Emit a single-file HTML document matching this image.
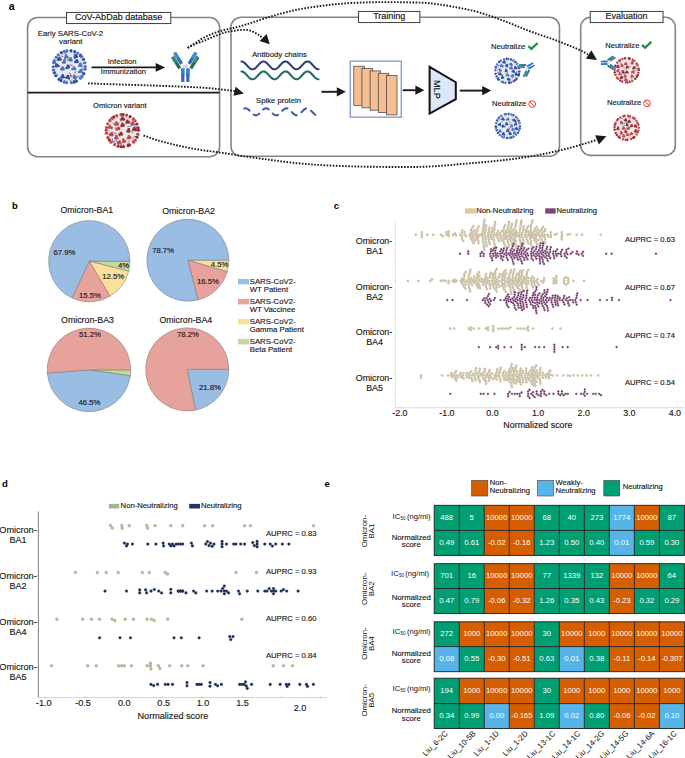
<!DOCTYPE html>
<html><head><meta charset="utf-8"><style>
html,body{margin:0;padding:0;background:#fff;width:685px;height:758px;overflow:hidden}
svg{display:block}
text{font-family:"Liberation Sans", sans-serif;}
</style></head><body>
<svg width="685" height="758" viewBox="0 0 685 758" font-family='"Liberation Sans", sans-serif'>
<text x="8.70" y="9.60" font-size="10.6" text-anchor="start" font-weight="bold" fill="#000" >a</text>
<rect x="27.6" y="17.5" width="192" height="139.2" rx="10" fill="none" stroke="#80878b" stroke-width="1.6"/>
<rect x="231" y="17.2" width="328.5" height="139" rx="10" fill="none" stroke="#80878b" stroke-width="1.6"/>
<rect x="580.7" y="17.3" width="94.6" height="138.1" rx="10" fill="none" stroke="#80878b" stroke-width="1.6"/>
<rect x="66.5" y="12.4" width="104.30000000000001" height="11.2" fill="#fff" stroke="#2a2a2a" stroke-width="0.9"/>
<text x="118.65" y="20.40" font-size="9" text-anchor="middle" font-weight="normal" fill="#111" stroke="#111" stroke-width="0.15" >CoV-AbDab database</text>
<rect x="358.6" y="11.4" width="61.299999999999955" height="11.2" fill="#fff" stroke="#2a2a2a" stroke-width="0.9"/>
<text x="389.25" y="19.00" font-size="9" text-anchor="middle" font-weight="normal" fill="#111" stroke="#111" stroke-width="0.15" >Training</text>
<rect x="590.2" y="11.4" width="72.79999999999995" height="11.2" fill="#fff" stroke="#2a2a2a" stroke-width="0.9"/>
<text x="626.60" y="19.10" font-size="9" text-anchor="middle" font-weight="normal" fill="#111" stroke="#111" stroke-width="0.15" >Evaluation</text>
<line x1="27.6" y1="92.6" x2="219.6" y2="92.6" stroke="#1a1a1a" stroke-width="1.6"/>
<text x="70.50" y="36.20" font-size="7.8" text-anchor="middle" font-weight="normal" fill="#1a1a1a" stroke="#1a1a1a" stroke-width="0.15" >Early SARS-CoV-2</text>
<text x="70.80" y="43.60" font-size="7.8" text-anchor="middle" font-weight="normal" fill="#1a1a1a" stroke="#1a1a1a" stroke-width="0.15" >variant</text>
<g><circle cx="69.2" cy="66.7" r="16.20" fill="#e6e8f3"/><line x1="79.07" y1="75.64" x2="76.94" y2="77.58" stroke="#b5453f" stroke-width="0.90"/><line x1="68.65" y1="75.41" x2="69.10" y2="78.25" stroke="#b5453f" stroke-width="0.90"/><line x1="60.41" y1="55.86" x2="63.16" y2="56.70" stroke="#b5453f" stroke-width="0.90"/><line x1="81.85" y1="67.62" x2="82.46" y2="70.44" stroke="#b5453f" stroke-width="0.90"/><line x1="69.01" y1="64.62" x2="69.50" y2="67.46" stroke="#b5453f" stroke-width="0.90"/><line x1="69.39" y1="59.68" x2="66.56" y2="60.17" stroke="#b5453f" stroke-width="0.90"/><line x1="69.82" y1="65.12" x2="72.69" y2="65.35" stroke="#b5453f" stroke-width="0.90"/><line x1="55.19" y1="61.77" x2="56.24" y2="64.45" stroke="#b5453f" stroke-width="0.90"/><line x1="69.72" y1="75.72" x2="72.58" y2="75.98" stroke="#b5453f" stroke-width="0.90"/><line x1="70.87" y1="74.64" x2="70.90" y2="77.52" stroke="#b5453f" stroke-width="0.90"/><line x1="68.82" y1="72.67" x2="71.05" y2="74.49" stroke="#b5453f" stroke-width="0.90"/><line x1="60.26" y1="68.55" x2="63.13" y2="68.74" stroke="#b5453f" stroke-width="0.90"/><line x1="75.44" y1="56.25" x2="74.19" y2="58.84" stroke="#b5453f" stroke-width="0.90"/><line x1="76.13" y1="79.29" x2="73.52" y2="80.51" stroke="#b5453f" stroke-width="0.90"/><line x1="76.15" y1="71.31" x2="74.30" y2="73.52" stroke="#b5453f" stroke-width="0.90"/><line x1="65.49" y1="51.78" x2="66.18" y2="54.57" stroke="#b5453f" stroke-width="0.90"/><line x1="74.05" y1="55.20" x2="75.72" y2="57.54" stroke="#b5453f" stroke-width="0.90"/><line x1="58.94" y1="58.96" x2="56.39" y2="60.30" stroke="#b5453f" stroke-width="0.90"/><line x1="56.72" y1="66.18" x2="59.59" y2="66.49" stroke="#b5453f" stroke-width="0.90"/><line x1="69.40" y1="78.16" x2="70.17" y2="80.93" stroke="#b5453f" stroke-width="0.90"/><line x1="75.02" y1="74.99" x2="73.30" y2="77.30" stroke="#b5453f" stroke-width="0.90"/><line x1="64.90" y1="57.45" x2="65.45" y2="60.27" stroke="#b5453f" stroke-width="0.90"/><line x1="56.61" y1="64.59" x2="56.42" y2="67.46" stroke="#b5453f" stroke-width="0.90"/><line x1="83.24" y1="66.52" x2="85.40" y2="66.49" stroke="#4674c6" stroke-width="1.08"/><circle cx="85.40" cy="66.49" r="1.53" fill="#4674c6"/><line x1="83.08" y1="68.84" x2="85.21" y2="69.17" stroke="#4674c6" stroke-width="1.08"/><circle cx="85.21" cy="69.17" r="1.53" fill="#4674c6"/><line x1="81.88" y1="72.72" x2="83.83" y2="73.65" stroke="#2c4f9e" stroke-width="1.08"/><circle cx="83.83" cy="73.65" r="1.53" fill="#2c4f9e"/><line x1="80.47" y1="75.08" x2="82.20" y2="76.37" stroke="#4674c6" stroke-width="1.08"/><circle cx="82.20" cy="76.37" r="1.53" fill="#4674c6"/><line x1="79.00" y1="76.75" x2="80.51" y2="78.30" stroke="#4674c6" stroke-width="1.08"/><circle cx="80.51" cy="78.30" r="1.53" fill="#4674c6"/><line x1="75.51" y1="79.24" x2="76.48" y2="81.17" stroke="#2c4f9e" stroke-width="1.08"/><circle cx="76.48" cy="81.17" r="1.53" fill="#2c4f9e"/><line x1="73.48" y1="80.07" x2="74.13" y2="82.13" stroke="#2c4f9e" stroke-width="1.08"/><circle cx="74.13" cy="82.13" r="1.53" fill="#2c4f9e"/><line x1="71.12" y1="80.61" x2="71.41" y2="82.75" stroke="#4674c6" stroke-width="1.08"/><circle cx="71.41" cy="82.75" r="1.53" fill="#4674c6"/><line x1="66.98" y1="80.56" x2="66.63" y2="82.70" stroke="#4674c6" stroke-width="1.08"/><circle cx="66.63" cy="82.70" r="1.53" fill="#4674c6"/><line x1="64.93" y1="80.07" x2="64.27" y2="82.13" stroke="#4674c6" stroke-width="1.08"/><circle cx="64.27" cy="82.13" r="1.53" fill="#4674c6"/><line x1="62.11" y1="78.82" x2="61.02" y2="80.68" stroke="#2c4f9e" stroke-width="1.08"/><circle cx="61.02" cy="80.68" r="1.53" fill="#2c4f9e"/><line x1="60.44" y1="77.67" x2="59.09" y2="79.36" stroke="#2c4f9e" stroke-width="1.08"/><circle cx="59.09" cy="79.36" r="1.53" fill="#2c4f9e"/><line x1="57.53" y1="74.51" x2="55.74" y2="75.71" stroke="#2c4f9e" stroke-width="1.08"/><circle cx="55.74" cy="75.71" r="1.53" fill="#2c4f9e"/><line x1="56.21" y1="72.04" x2="54.22" y2="72.86" stroke="#2c4f9e" stroke-width="1.08"/><circle cx="54.22" cy="72.86" r="1.53" fill="#2c4f9e"/><line x1="55.46" y1="69.59" x2="53.35" y2="70.03" stroke="#4674c6" stroke-width="1.08"/><circle cx="53.35" cy="70.03" r="1.53" fill="#4674c6"/><line x1="55.16" y1="66.82" x2="53.00" y2="66.84" stroke="#4674c6" stroke-width="1.08"/><circle cx="53.00" cy="66.84" r="1.53" fill="#4674c6"/><line x1="55.61" y1="63.17" x2="53.52" y2="62.63" stroke="#4674c6" stroke-width="1.08"/><circle cx="53.52" cy="62.63" r="1.53" fill="#4674c6"/><line x1="56.18" y1="61.46" x2="54.17" y2="60.65" stroke="#4674c6" stroke-width="1.08"/><circle cx="54.17" cy="60.65" r="1.53" fill="#4674c6"/><line x1="57.83" y1="58.47" x2="56.08" y2="57.20" stroke="#4674c6" stroke-width="1.08"/><circle cx="56.08" cy="57.20" r="1.53" fill="#4674c6"/><line x1="59.61" y1="56.44" x2="58.14" y2="54.86" stroke="#4674c6" stroke-width="1.08"/><circle cx="58.14" cy="54.86" r="1.53" fill="#4674c6"/><line x1="62.36" y1="54.44" x2="61.31" y2="52.55" stroke="#2c4f9e" stroke-width="1.08"/><circle cx="61.31" cy="52.55" r="1.53" fill="#2c4f9e"/><line x1="64.79" y1="53.37" x2="64.12" y2="51.32" stroke="#4674c6" stroke-width="1.08"/><circle cx="64.12" cy="51.32" r="1.53" fill="#4674c6"/><line x1="67.28" y1="52.79" x2="66.98" y2="50.65" stroke="#4674c6" stroke-width="1.08"/><circle cx="66.98" cy="50.65" r="1.53" fill="#4674c6"/><line x1="70.81" y1="52.75" x2="71.06" y2="50.61" stroke="#2c4f9e" stroke-width="1.08"/><circle cx="71.06" cy="50.61" r="1.53" fill="#2c4f9e"/><line x1="74.01" y1="53.51" x2="74.75" y2="51.48" stroke="#2c4f9e" stroke-width="1.08"/><circle cx="74.75" cy="51.48" r="1.53" fill="#2c4f9e"/><line x1="76.68" y1="54.82" x2="77.83" y2="52.99" stroke="#4674c6" stroke-width="1.08"/><circle cx="77.83" cy="52.99" r="1.53" fill="#4674c6"/><line x1="79.01" y1="56.66" x2="80.52" y2="55.12" stroke="#2c4f9e" stroke-width="1.08"/><circle cx="80.52" cy="55.12" r="1.53" fill="#2c4f9e"/><line x1="80.13" y1="57.89" x2="81.81" y2="56.53" stroke="#4674c6" stroke-width="1.08"/><circle cx="81.81" cy="56.53" r="1.53" fill="#4674c6"/><line x1="81.67" y1="60.25" x2="83.59" y2="59.26" stroke="#2c4f9e" stroke-width="1.08"/><circle cx="83.59" cy="59.26" r="1.53" fill="#2c4f9e"/><line x1="82.84" y1="63.37" x2="84.94" y2="62.86" stroke="#4674c6" stroke-width="1.08"/><circle cx="84.94" cy="62.86" r="1.53" fill="#4674c6"/><circle cx="64.70" cy="62.39" r="1.35" fill="#4674c6"/><circle cx="63.24" cy="62.40" r="1.35" fill="#4674c6"/><circle cx="64.41" cy="60.39" r="1.35" fill="#4674c6"/><circle cx="74.87" cy="69.19" r="1.35" fill="#4674c6"/><circle cx="72.60" cy="69.00" r="1.35" fill="#4674c6"/><circle cx="74.09" cy="67.71" r="1.35" fill="#4674c6"/><circle cx="68.46" cy="78.09" r="1.35" fill="#2c4f9e"/><circle cx="66.56" cy="77.57" r="1.35" fill="#2c4f9e"/><circle cx="67.87" cy="76.06" r="1.35" fill="#2c4f9e"/><circle cx="63.40" cy="69.20" r="1.35" fill="#4674c6"/><circle cx="61.60" cy="69.62" r="1.35" fill="#4674c6"/><circle cx="62.56" cy="67.56" r="1.35" fill="#4674c6"/><circle cx="68.42" cy="67.31" r="1.35" fill="#2c4f9e"/><circle cx="66.64" cy="67.99" r="1.35" fill="#2c4f9e"/><circle cx="67.79" cy="65.96" r="1.35" fill="#2c4f9e"/><circle cx="77.47" cy="62.01" r="1.35" fill="#2c4f9e"/><circle cx="75.45" cy="61.97" r="1.35" fill="#2c4f9e"/><circle cx="76.85" cy="60.29" r="1.35" fill="#2c4f9e"/><circle cx="67.36" cy="57.19" r="1.35" fill="#4674c6"/><circle cx="65.39" cy="57.50" r="1.35" fill="#4674c6"/><circle cx="65.97" cy="55.61" r="1.35" fill="#4674c6"/><circle cx="81.26" cy="65.69" r="1.35" fill="#4674c6"/><circle cx="79.38" cy="65.67" r="1.35" fill="#4674c6"/><circle cx="80.38" cy="63.81" r="1.35" fill="#4674c6"/><circle cx="75.85" cy="77.45" r="1.35" fill="#4674c6"/><circle cx="74.04" cy="77.96" r="1.35" fill="#4674c6"/><circle cx="74.30" cy="75.96" r="1.35" fill="#4674c6"/><circle cx="71.49" cy="60.38" r="1.35" fill="#4674c6"/><circle cx="69.77" cy="60.22" r="1.35" fill="#4674c6"/><circle cx="70.55" cy="58.36" r="1.35" fill="#4674c6"/><circle cx="76.71" cy="56.61" r="1.35" fill="#2c4f9e"/><circle cx="74.98" cy="57.34" r="1.35" fill="#2c4f9e"/><circle cx="75.58" cy="55.17" r="1.35" fill="#2c4f9e"/><circle cx="63.55" cy="77.24" r="1.35" fill="#2c4f9e"/><circle cx="61.66" cy="77.21" r="1.35" fill="#2c4f9e"/><circle cx="62.81" cy="75.38" r="1.35" fill="#2c4f9e"/><circle cx="60.56" cy="59.49" r="1.35" fill="#2c4f9e"/><circle cx="58.43" cy="59.83" r="1.35" fill="#2c4f9e"/><circle cx="59.37" cy="58.05" r="1.35" fill="#2c4f9e"/><circle cx="81.38" cy="71.81" r="1.35" fill="#4674c6"/><circle cx="79.28" cy="71.89" r="1.35" fill="#4674c6"/><circle cx="80.75" cy="70.26" r="1.35" fill="#4674c6"/><circle cx="58.29" cy="65.93" r="1.35" fill="#2c4f9e"/><circle cx="56.09" cy="66.07" r="1.35" fill="#2c4f9e"/><circle cx="56.63" cy="64.57" r="1.35" fill="#2c4f9e"/></g>
<line x1="91.5" y1="67.4" x2="156.7" y2="67.4" stroke="#1a1a1a" stroke-width="1.7"/>
<path d="M165.2,67.4 L155.7,63.00000000000001 L155.7,71.80000000000001 Z" fill="#1a1a1a"/>
<text x="122.10" y="64.00" font-size="7.6" text-anchor="middle" font-weight="normal" fill="#1a1a1a" stroke="#1a1a1a" stroke-width="0.15" >Infection</text>
<text x="123.40" y="74.20" font-size="7.6" text-anchor="middle" font-weight="normal" fill="#1a1a1a" stroke="#1a1a1a" stroke-width="0.15" >Immunization</text>
<g transform="translate(185.3,81.9) rotate(0) scale(1.0)">
<rect x="-4.2" y="-13.5" width="3.3" height="13.5" fill="#2f6cc0"/>
<rect x="0.9" y="-13.5" width="3.3" height="13.5" fill="#2f6cc0"/>
<rect x="-4.2" y="-13.5" width="3.3" height="6.5" fill="#3f7fd0"/>
<rect x="0.9" y="-13.5" width="3.3" height="6.5" fill="#3f7fd0"/>
<rect x="-4.2" y="-7.2" width="3.3" height="0.6" fill="#1f4f90"/>
<rect x="0.9" y="-7.2" width="3.3" height="0.6" fill="#1f4f90"/>
<rect x="-2.3" y="-17" width="4.6" height="3.6" fill="#c8d2e6"/>
<g transform="translate(-3.7,-18.0) rotate(-32)">
<rect x="-1.7" y="-13.3" width="3.4" height="13.3" rx="0.6" fill="#2f6cc0"/>
<rect x="-1.7" y="-13.3" width="3.4" height="6.6" rx="0.6" fill="#4a8ad8"/>
<rect x="-5.6" y="-10.8" width="3.4" height="13.6" rx="0.6" fill="#2a6a4e"/>
<rect x="-5.6" y="-10.8" width="3.4" height="6.8" rx="0.6" fill="#3f8a6a"/>
</g>
<g transform="translate(3.7,-18.0) rotate(32)">
<rect x="-1.7" y="-13.3" width="3.4" height="13.3" rx="0.6" fill="#2f6cc0"/>
<rect x="-1.7" y="-13.3" width="3.4" height="6.6" rx="0.6" fill="#4a8ad8"/>
<rect x="2.2" y="-10.8" width="3.4" height="13.6" rx="0.6" fill="#2a6a4e"/>
<rect x="2.2" y="-10.8" width="3.4" height="6.8" rx="0.6" fill="#3f8a6a"/>
</g>
</g>
<text x="119.80" y="107.50" font-size="7.6" text-anchor="middle" font-weight="normal" fill="#1a1a1a" stroke="#1a1a1a" stroke-width="0.15" >Omicron variant</text>
<g><circle cx="122.3" cy="130.6" r="16.20" fill="#f3e4e6"/><line x1="134.37" y1="126.52" x2="137.21" y2="127.03" stroke="#4f86b0" stroke-width="0.90"/><line x1="134.61" y1="136.23" x2="132.66" y2="138.35" stroke="#4f86b0" stroke-width="0.90"/><line x1="118.91" y1="122.24" x2="117.97" y2="124.96" stroke="#4f86b0" stroke-width="0.90"/><line x1="112.44" y1="123.09" x2="114.97" y2="124.46" stroke="#4f86b0" stroke-width="0.90"/><line x1="115.04" y1="133.31" x2="113.18" y2="135.51" stroke="#4f86b0" stroke-width="0.90"/><line x1="136.52" y1="128.72" x2="136.12" y2="131.57" stroke="#4f86b0" stroke-width="0.90"/><line x1="113.85" y1="132.97" x2="116.72" y2="133.29" stroke="#4f86b0" stroke-width="0.90"/><line x1="131.20" y1="131.07" x2="132.75" y2="133.50" stroke="#4f86b0" stroke-width="0.90"/><line x1="112.50" y1="138.47" x2="112.27" y2="141.34" stroke="#4f86b0" stroke-width="0.90"/><line x1="114.37" y1="127.90" x2="117.24" y2="128.11" stroke="#4f86b0" stroke-width="0.90"/><line x1="119.92" y1="133.90" x2="119.83" y2="136.78" stroke="#4f86b0" stroke-width="0.90"/><line x1="132.91" y1="129.72" x2="135.34" y2="131.28" stroke="#4f86b0" stroke-width="0.90"/><line x1="133.35" y1="121.56" x2="131.42" y2="123.70" stroke="#4f86b0" stroke-width="0.90"/><line x1="133.91" y1="122.75" x2="131.64" y2="124.52" stroke="#4f86b0" stroke-width="0.90"/><line x1="115.07" y1="141.76" x2="112.21" y2="142.11" stroke="#4f86b0" stroke-width="0.90"/><line x1="129.82" y1="140.08" x2="128.02" y2="142.33" stroke="#4f86b0" stroke-width="0.90"/><line x1="112.07" y1="131.68" x2="112.17" y2="134.56" stroke="#4f86b0" stroke-width="0.90"/><line x1="132.62" y1="125.24" x2="130.13" y2="126.69" stroke="#4f86b0" stroke-width="0.90"/><line x1="115.45" y1="140.90" x2="112.71" y2="141.79" stroke="#4f86b0" stroke-width="0.90"/><line x1="113.17" y1="132.87" x2="110.38" y2="133.59" stroke="#4f86b0" stroke-width="0.90"/><line x1="119.55" y1="119.77" x2="121.76" y2="121.62" stroke="#4f86b0" stroke-width="0.90"/><line x1="115.61" y1="140.63" x2="118.10" y2="142.06" stroke="#4f86b0" stroke-width="0.90"/><line x1="129.93" y1="126.13" x2="127.16" y2="126.92" stroke="#4f86b0" stroke-width="0.90"/><line x1="136.34" y1="130.28" x2="138.50" y2="130.23" stroke="#922c31" stroke-width="1.08"/><circle cx="138.50" cy="130.23" r="1.53" fill="#922c31"/><line x1="135.96" y1="133.86" x2="138.06" y2="134.36" stroke="#c0464a" stroke-width="1.08"/><circle cx="138.06" cy="134.36" r="1.53" fill="#c0464a"/><line x1="135.11" y1="136.34" x2="137.09" y2="137.22" stroke="#922c31" stroke-width="1.08"/><circle cx="137.09" cy="137.22" r="1.53" fill="#922c31"/><line x1="133.57" y1="138.97" x2="135.30" y2="140.26" stroke="#c0464a" stroke-width="1.08"/><circle cx="135.30" cy="140.26" r="1.53" fill="#c0464a"/><line x1="132.05" y1="140.70" x2="133.56" y2="142.25" stroke="#c0464a" stroke-width="1.08"/><circle cx="133.56" cy="142.25" r="1.53" fill="#c0464a"/><line x1="128.68" y1="143.11" x2="129.66" y2="145.03" stroke="#922c31" stroke-width="1.08"/><circle cx="129.66" cy="145.03" r="1.53" fill="#922c31"/><line x1="127.31" y1="143.71" x2="128.08" y2="145.73" stroke="#922c31" stroke-width="1.08"/><circle cx="128.08" cy="145.73" r="1.53" fill="#922c31"/><line x1="123.39" y1="144.60" x2="123.56" y2="146.75" stroke="#922c31" stroke-width="1.08"/><circle cx="123.56" cy="146.75" r="1.53" fill="#922c31"/><line x1="121.35" y1="144.61" x2="121.20" y2="146.76" stroke="#922c31" stroke-width="1.08"/><circle cx="121.20" cy="146.76" r="1.53" fill="#922c31"/><line x1="118.67" y1="144.16" x2="118.12" y2="146.25" stroke="#922c31" stroke-width="1.08"/><circle cx="118.12" cy="146.25" r="1.53" fill="#922c31"/><line x1="115.61" y1="142.95" x2="114.58" y2="144.84" stroke="#c0464a" stroke-width="1.08"/><circle cx="114.58" cy="144.84" r="1.53" fill="#c0464a"/><line x1="112.44" y1="140.60" x2="110.93" y2="142.14" stroke="#c0464a" stroke-width="1.08"/><circle cx="110.93" cy="142.14" r="1.53" fill="#c0464a"/><line x1="110.92" y1="138.82" x2="109.17" y2="140.09" stroke="#922c31" stroke-width="1.08"/><circle cx="109.17" cy="140.09" r="1.53" fill="#922c31"/><line x1="109.65" y1="136.70" x2="107.71" y2="137.64" stroke="#c0464a" stroke-width="1.08"/><circle cx="107.71" cy="137.64" r="1.53" fill="#c0464a"/><line x1="108.45" y1="132.89" x2="106.32" y2="133.24" stroke="#c0464a" stroke-width="1.08"/><circle cx="106.32" cy="133.24" r="1.53" fill="#c0464a"/><line x1="108.26" y1="130.23" x2="106.11" y2="130.18" stroke="#c0464a" stroke-width="1.08"/><circle cx="106.11" cy="130.18" r="1.53" fill="#c0464a"/><line x1="108.52" y1="127.91" x2="106.40" y2="127.49" stroke="#c0464a" stroke-width="1.08"/><circle cx="106.40" cy="127.49" r="1.53" fill="#c0464a"/><line x1="109.59" y1="124.62" x2="107.64" y2="123.71" stroke="#c0464a" stroke-width="1.08"/><circle cx="107.64" cy="123.71" r="1.53" fill="#c0464a"/><line x1="111.41" y1="121.74" x2="109.73" y2="120.38" stroke="#c0464a" stroke-width="1.08"/><circle cx="109.73" cy="120.38" r="1.53" fill="#c0464a"/><line x1="113.20" y1="119.91" x2="111.80" y2="118.27" stroke="#c0464a" stroke-width="1.08"/><circle cx="111.80" cy="118.27" r="1.53" fill="#c0464a"/><line x1="114.93" y1="118.65" x2="113.79" y2="116.81" stroke="#922c31" stroke-width="1.08"/><circle cx="113.79" cy="116.81" r="1.53" fill="#922c31"/><line x1="117.42" y1="117.44" x2="116.66" y2="115.41" stroke="#c0464a" stroke-width="1.08"/><circle cx="116.66" cy="115.41" r="1.53" fill="#c0464a"/><line x1="121.15" y1="116.61" x2="120.98" y2="114.45" stroke="#c0464a" stroke-width="1.08"/><circle cx="120.98" cy="114.45" r="1.53" fill="#c0464a"/><line x1="123.00" y1="116.58" x2="123.11" y2="114.42" stroke="#922c31" stroke-width="1.08"/><circle cx="123.11" cy="114.42" r="1.53" fill="#922c31"/><line x1="126.08" y1="117.08" x2="126.66" y2="115.00" stroke="#c0464a" stroke-width="1.08"/><circle cx="126.66" cy="115.00" r="1.53" fill="#c0464a"/><line x1="129.09" y1="118.31" x2="130.14" y2="116.42" stroke="#922c31" stroke-width="1.08"/><circle cx="130.14" cy="116.42" r="1.53" fill="#922c31"/><line x1="131.99" y1="120.44" x2="133.49" y2="118.88" stroke="#c0464a" stroke-width="1.08"/><circle cx="133.49" cy="118.88" r="1.53" fill="#c0464a"/><line x1="133.50" y1="122.13" x2="135.22" y2="120.82" stroke="#c0464a" stroke-width="1.08"/><circle cx="135.22" cy="120.82" r="1.53" fill="#c0464a"/><line x1="135.09" y1="124.81" x2="137.06" y2="123.92" stroke="#922c31" stroke-width="1.08"/><circle cx="137.06" cy="123.92" r="1.53" fill="#922c31"/><line x1="136.11" y1="128.08" x2="138.24" y2="127.69" stroke="#922c31" stroke-width="1.08"/><circle cx="138.24" cy="127.69" r="1.53" fill="#922c31"/><circle cx="123.75" cy="119.45" r="1.35" fill="#922c31"/><circle cx="121.63" cy="119.33" r="1.35" fill="#922c31"/><circle cx="122.50" cy="117.76" r="1.35" fill="#922c31"/><circle cx="124.89" cy="141.29" r="1.35" fill="#c0464a"/><circle cx="123.26" cy="141.72" r="1.35" fill="#c0464a"/><circle cx="123.37" cy="139.67" r="1.35" fill="#c0464a"/><circle cx="121.82" cy="134.48" r="1.35" fill="#922c31"/><circle cx="119.55" cy="134.62" r="1.35" fill="#922c31"/><circle cx="120.97" cy="133.15" r="1.35" fill="#922c31"/><circle cx="112.06" cy="135.13" r="1.35" fill="#c0464a"/><circle cx="110.01" cy="134.70" r="1.35" fill="#c0464a"/><circle cx="111.53" cy="133.29" r="1.35" fill="#c0464a"/><circle cx="130.16" cy="137.71" r="1.35" fill="#c0464a"/><circle cx="128.08" cy="138.24" r="1.35" fill="#c0464a"/><circle cx="128.94" cy="136.35" r="1.35" fill="#c0464a"/><circle cx="119.06" cy="128.93" r="1.35" fill="#c0464a"/><circle cx="116.85" cy="129.47" r="1.35" fill="#c0464a"/><circle cx="118.39" cy="127.86" r="1.35" fill="#c0464a"/><circle cx="117.37" cy="124.46" r="1.35" fill="#c0464a"/><circle cx="115.44" cy="124.58" r="1.35" fill="#c0464a"/><circle cx="116.27" cy="122.69" r="1.35" fill="#c0464a"/><circle cx="135.53" cy="129.69" r="1.35" fill="#922c31"/><circle cx="133.33" cy="129.79" r="1.35" fill="#922c31"/><circle cx="134.37" cy="128.17" r="1.35" fill="#922c31"/><circle cx="129.09" cy="131.32" r="1.35" fill="#922c31"/><circle cx="127.71" cy="131.36" r="1.35" fill="#922c31"/><circle cx="128.72" cy="129.27" r="1.35" fill="#922c31"/><circle cx="133.53" cy="124.45" r="1.35" fill="#c0464a"/><circle cx="131.46" cy="124.04" r="1.35" fill="#c0464a"/><circle cx="132.75" cy="122.59" r="1.35" fill="#c0464a"/><circle cx="117.03" cy="138.24" r="1.35" fill="#c0464a"/><circle cx="115.57" cy="138.32" r="1.35" fill="#c0464a"/><circle cx="116.37" cy="136.20" r="1.35" fill="#c0464a"/><circle cx="120.23" cy="143.30" r="1.35" fill="#c0464a"/><circle cx="118.08" cy="142.94" r="1.35" fill="#c0464a"/><circle cx="119.54" cy="141.59" r="1.35" fill="#c0464a"/><circle cx="123.59" cy="125.43" r="1.35" fill="#922c31"/><circle cx="121.67" cy="125.93" r="1.35" fill="#922c31"/><circle cx="122.40" cy="123.91" r="1.35" fill="#922c31"/><circle cx="111.55" cy="127.80" r="1.35" fill="#c0464a"/><circle cx="109.26" cy="127.58" r="1.35" fill="#c0464a"/><circle cx="109.95" cy="126.41" r="1.35" fill="#c0464a"/><circle cx="128.71" cy="122.31" r="1.35" fill="#922c31"/><circle cx="126.72" cy="122.61" r="1.35" fill="#922c31"/><circle cx="127.39" cy="120.73" r="1.35" fill="#922c31"/></g>
<path d="M187.70,47.90 L188.03,47.69 L188.45,47.43 L188.93,47.12 L189.48,46.78 L190.08,46.41 L190.71,46.01 L191.36,45.60 L192.02,45.19 L192.68,44.77 L193.32,44.36 L193.93,43.97 L194.50,43.60 L195.04,43.24 L195.57,42.89 L196.10,42.53 L196.62,42.17 L197.14,41.81 L197.65,41.45 L198.16,41.10 L198.68,40.74 L199.20,40.40 L199.73,40.06 L200.26,39.73 L200.80,39.40 L201.35,39.08 L201.91,38.77 L202.47,38.46 L203.04,38.15 L203.62,37.85 L204.19,37.56 L204.77,37.27 L205.34,36.98 L205.92,36.70 L206.48,36.43 L207.05,36.16 L207.60,35.90 L208.13,35.65 L208.64,35.41 L209.13,35.18 L209.61,34.96 L210.09,34.75 L210.57,34.54 L211.07,34.33 L211.59,34.11 L212.13,33.90 L212.71,33.68 L213.33,33.44 L214.00,33.20 L214.71,32.95 L215.42,32.69 L216.16,32.43 L216.92,32.17 L217.71,31.90 L218.53,31.63 L219.39,31.36 L220.29,31.07 L221.24,30.79 L222.23,30.50 L223.29,30.20 L224.40,29.90 L225.55,29.61 L226.73,29.33 L227.94,29.07 L229.18,28.81 L230.47,28.54 L231.82,28.26 L233.23,27.96 L234.71,27.64 L236.27,27.27 L237.91,26.87 L239.65,26.41 L241.50,25.90 L243.49,25.31 L245.65,24.65 L247.94,23.92 L250.34,23.14 L252.83,22.33 L255.36,21.49 L257.91,20.65 L260.46,19.81 L262.97,19.00 L265.41,18.21 L267.77,17.48 L270.00,16.80 L272.13,16.17 L274.20,15.56 L276.21,14.97 L278.18,14.41 L280.12,13.86 L282.03,13.33 L283.92,12.82 L285.80,12.33 L287.68,11.85 L289.56,11.38 L291.47,10.94 L293.40,10.50 L295.35,10.08 L297.29,9.69 L299.23,9.31 L301.17,8.95 L303.12,8.60 L305.06,8.28 L307.00,7.96 L308.94,7.65 L310.88,7.35 L312.82,7.06 L314.76,6.78 L316.70,6.50 L318.64,6.23 L320.58,5.96 L322.52,5.70 L324.46,5.45 L326.40,5.21 L328.34,4.98 L330.28,4.76 L332.23,4.55 L334.17,4.35 L336.11,4.15 L338.05,3.97 L340.00,3.80 L341.95,3.64 L343.89,3.49 L345.84,3.36 L347.79,3.23 L349.74,3.11 L351.69,3.01 L353.64,2.91 L355.60,2.81 L357.55,2.73 L359.50,2.65 L361.45,2.57 L363.40,2.50 L365.35,2.43 L367.30,2.37 L369.25,2.32 L371.21,2.27 L373.16,2.23 L375.11,2.20 L377.06,2.17 L379.01,2.15 L380.96,2.13 L382.91,2.12 L384.86,2.11 L386.80,2.10 L388.75,2.10 L390.72,2.10 L392.69,2.11 L394.67,2.13 L396.64,2.14 L398.61,2.17 L400.57,2.20 L402.51,2.23 L404.43,2.27 L406.32,2.31 L408.18,2.35 L410.00,2.40 L411.76,2.45 L413.46,2.48 L415.11,2.52 L416.73,2.55 L418.32,2.59 L419.90,2.64 L421.49,2.70 L423.10,2.77 L424.74,2.86 L426.43,2.98 L428.18,3.13 L430.00,3.30 L431.90,3.50 L433.86,3.73 L435.86,3.99 L437.91,4.26 L439.99,4.55 L442.10,4.86 L444.22,5.19 L446.36,5.53 L448.49,5.88 L450.61,6.25 L452.72,6.62 L454.80,7.00 L456.87,7.39 L458.93,7.78 L461.00,8.18 L463.06,8.59 L465.13,9.01 L467.19,9.44 L469.26,9.90 L471.33,10.37 L473.39,10.86 L475.46,11.38 L477.53,11.93 L479.60,12.50 L481.67,13.10 L483.75,13.74 L485.82,14.40 L487.90,15.09 L489.97,15.80 L492.05,16.52 L494.13,17.27 L496.20,18.02 L498.28,18.79 L500.35,19.56 L502.43,20.33 L504.50,21.10 L506.57,21.88 L508.64,22.69 L510.71,23.51 L512.77,24.35 L514.84,25.19 L516.91,26.04 L518.97,26.89 L521.04,27.74 L523.10,28.58 L525.17,29.40 L527.23,30.21 L529.30,31.00 L531.37,31.76 L533.43,32.51 L535.50,33.23 L537.57,33.94 L539.63,34.65 L541.70,35.35 L543.77,36.05 L545.83,36.76 L547.90,37.47 L549.97,38.19 L552.03,38.94 L554.10,39.70 L556.22,40.50 L558.42,41.34 L560.67,42.21 L562.95,43.10 L565.23,43.99 L567.48,44.89 L569.68,45.77 L571.80,46.63 L573.80,47.45 L575.68,48.23 L577.38,48.95 L578.90,49.60 L580.24,50.20 L581.43,50.76 L582.49,51.29 L583.43,51.79 L584.27,52.24 L585.00,52.67 L585.65,53.06 L586.22,53.41 L586.73,53.74 L587.19,54.02 L587.61,54.28 L588.00,54.50" fill="none" stroke="#1a1a1a" stroke-width="1.9" stroke-dasharray="1.6 1.5"/>
<path d="M597.00,60.00 L585.89,58.75 L591.34,50.36 Z" fill="#1a1a1a"/>
<path d="M187.70,47.90 L188.03,47.72 L188.43,47.50 L188.91,47.23 L189.44,46.93 L190.02,46.61 L190.63,46.27 L191.27,45.92 L191.93,45.57 L192.59,45.22 L193.25,44.89 L193.89,44.58 L194.50,44.30 L195.10,44.04 L195.71,43.80 L196.33,43.57 L196.96,43.35 L197.59,43.13 L198.22,42.92 L198.86,42.71 L199.50,42.50 L200.13,42.28 L200.76,42.06 L201.38,41.84 L202.00,41.60 L202.62,41.35 L203.24,41.10 L203.86,40.83 L204.48,40.57 L205.10,40.30 L205.72,40.03 L206.33,39.76 L206.93,39.49 L207.52,39.23 L208.10,38.98 L208.66,38.73 L209.20,38.50 L209.71,38.28 L210.18,38.09 L210.62,37.90 L211.04,37.72 L211.44,37.55 L211.85,37.38 L212.26,37.21 L212.70,37.03 L213.16,36.85 L213.65,36.65 L214.20,36.43 L214.80,36.20 L215.46,35.94 L216.17,35.65 L216.92,35.35 L217.70,35.03 L218.52,34.70 L219.35,34.37 L220.20,34.04 L221.05,33.71 L221.91,33.40 L222.75,33.11 L223.59,32.84 L224.40,32.60 L225.21,32.38 L226.03,32.19 L226.86,32.00 L227.70,31.83 L228.53,31.68 L229.36,31.53 L230.18,31.40 L230.99,31.27 L231.78,31.14 L232.55,31.03 L233.29,30.91 L234.00,30.80 L234.67,30.69 L235.29,30.58 L235.89,30.47 L236.45,30.37 L237.00,30.28 L237.54,30.19 L238.07,30.12 L238.61,30.05 L239.17,29.99 L239.75,29.95 L240.35,29.92 L241.00,29.90 L241.68,29.89 L242.40,29.89 L243.13,29.89 L243.89,29.90 L244.66,29.92 L245.44,29.95 L246.22,30.00 L247.00,30.07 L247.77,30.16 L248.53,30.28 L249.28,30.42 L250.00,30.60 L250.71,30.82 L251.44,31.08 L252.16,31.37 L252.89,31.70 L253.61,32.04 L254.31,32.41 L255.00,32.78 L255.67,33.15 L256.30,33.51 L256.91,33.87 L257.48,34.20 L258.00,34.50 L258.49,34.79 L258.94,35.09 L259.38,35.38 L259.78,35.68 L260.15,35.97 L260.50,36.24 L260.82,36.51 L261.11,36.76 L261.38,36.98 L261.61,37.18 L261.82,37.36 L262.00,37.50" fill="none" stroke="#1a1a1a" stroke-width="1.9" stroke-dasharray="1.6 1.5"/>
<path d="M269.80,44.30 L259.55,41.12 L266.62,34.05 Z" fill="#1a1a1a"/>
<path d="M88.00,83.40 L89.52,83.45 L91.39,83.52 L93.56,83.59 L96.00,83.68 L98.66,83.77 L101.50,83.87 L104.48,83.97 L107.56,84.08 L110.69,84.19 L113.83,84.29 L116.95,84.40 L120.00,84.50 L123.05,84.60 L126.20,84.70 L129.44,84.80 L132.74,84.90 L136.10,85.01 L139.50,85.11 L142.93,85.22 L146.37,85.33 L149.81,85.44 L153.24,85.56 L156.64,85.68 L160.00,85.80 L163.40,85.93 L166.90,86.06 L170.47,86.19 L174.07,86.33 L177.68,86.47 L181.25,86.62 L184.75,86.76 L188.15,86.91 L191.41,87.06 L194.49,87.21 L197.37,87.35 L200.00,87.50 L202.38,87.65 L204.55,87.79 L206.52,87.94 L208.33,88.09 L210.00,88.24 L211.56,88.39 L213.03,88.54 L214.44,88.69 L215.82,88.84 L217.19,88.99 L218.57,89.15 L220.00,89.30 L221.47,89.46 L222.96,89.63 L224.45,89.81 L225.93,90.00 L227.36,90.18 L228.75,90.36 L230.07,90.54 L231.30,90.70 L232.42,90.86 L233.43,90.99 L234.29,91.11 L235.00,91.20" fill="none" stroke="#1a1a1a" stroke-width="1.9" stroke-dasharray="1.6 1.5"/>
<path d="M243.80,93.60 L233.47,95.77 L235.70,86.84 Z" fill="#1a1a1a"/>
<path d="M143.50,135.50 L144.29,135.77 L145.25,136.10 L146.38,136.50 L147.65,136.94 L149.03,137.43 L150.50,137.94 L152.04,138.47 L153.63,139.00 L155.24,139.53 L156.86,140.05 L158.45,140.54 L160.00,141.00 L161.54,141.44 L163.13,141.88 L164.75,142.31 L166.41,142.75 L168.09,143.18 L169.78,143.61 L171.49,144.03 L173.20,144.44 L174.92,144.85 L176.63,145.24 L178.32,145.63 L180.00,146.00 L181.66,146.36 L183.31,146.71 L184.96,147.05 L186.60,147.39 L188.24,147.71 L189.89,148.03 L191.54,148.33 L193.20,148.64 L194.87,148.93 L196.56,149.23 L198.27,149.52 L200.00,149.80 L201.70,150.07 L203.34,150.32 L204.94,150.54 L206.53,150.76 L208.13,150.97 L209.76,151.18 L211.46,151.40 L213.25,151.63 L215.15,151.88 L217.20,152.15 L219.40,152.46 L221.80,152.80 L224.39,153.18 L227.16,153.60 L230.07,154.04 L233.12,154.51 L236.29,155.00 L239.54,155.51 L242.88,156.02 L246.27,156.53 L249.69,157.04 L253.14,157.54 L256.58,158.03 L260.00,158.50 L263.43,158.96 L266.91,159.44 L270.43,159.92 L274.00,160.40 L277.60,160.88 L281.23,161.35 L284.89,161.81 L288.58,162.26 L292.29,162.68 L296.02,163.08 L299.75,163.46 L303.50,163.80 L307.26,164.11 L311.04,164.40 L314.83,164.66 L318.65,164.91 L322.49,165.13 L326.34,165.34 L330.22,165.53 L334.13,165.70 L338.06,165.87 L342.01,166.02 L345.99,166.16 L350.00,166.30 L354.11,166.43 L358.36,166.53 L362.72,166.63 L367.15,166.71 L371.60,166.78 L376.03,166.84 L380.41,166.88 L384.69,166.92 L388.82,166.95 L392.78,166.97 L396.52,166.99 L400.00,167.00 L403.19,167.01 L406.11,167.01 L408.81,167.01 L411.33,167.00 L413.71,166.99 L415.99,166.96 L418.21,166.93 L420.43,166.87 L422.67,166.81 L424.99,166.72 L427.42,166.62 L430.00,166.50 L432.70,166.35 L435.44,166.18 L438.22,165.99 L441.03,165.79 L443.87,165.56 L446.74,165.32 L449.62,165.08 L452.53,164.83 L455.44,164.57 L458.36,164.31 L461.28,164.05 L464.20,163.80 L467.15,163.55 L470.16,163.29 L473.21,163.03 L476.29,162.76 L479.37,162.49 L482.46,162.22 L485.52,161.94 L488.55,161.66 L491.53,161.37 L494.44,161.09 L497.27,160.79 L500.00,160.50 L502.64,160.21 L505.20,159.91 L507.69,159.62 L510.11,159.32 L512.49,159.02 L514.83,158.72 L517.14,158.41 L519.42,158.09 L521.69,157.76 L523.95,157.42 L526.22,157.07 L528.50,156.70 L530.79,156.32 L533.09,155.92 L535.38,155.51 L537.66,155.08 L539.93,154.65 L542.18,154.21 L544.41,153.76 L546.60,153.31 L548.77,152.85 L550.89,152.40 L552.97,151.95 L555.00,151.50 L556.98,151.05 L558.90,150.61 L560.77,150.16 L562.61,149.71 L564.41,149.27 L566.18,148.81 L567.93,148.36 L569.67,147.90 L571.40,147.43 L573.13,146.96 L574.86,146.48 L576.60,146.00 L578.41,145.49 L580.31,144.94 L582.26,144.35 L584.24,143.76 L586.22,143.15 L588.15,142.56 L590.01,141.98 L591.76,141.43 L593.36,140.93 L594.79,140.48 L596.02,140.10 L597.00,139.80" fill="none" stroke="#1a1a1a" stroke-width="1.9" stroke-dasharray="1.6 1.5"/>
<path d="M606.30,136.20 L598.90,144.58 L595.16,135.31 Z" fill="#1a1a1a"/>
<text x="279.40" y="57.40" font-size="7.8" text-anchor="middle" font-weight="normal" fill="#1a1a1a" stroke="#1a1a1a" stroke-width="0.15" >Antibody chains</text>
<polyline points="241.50,61.50 241.88,61.52 242.27,61.59 242.66,61.71 243.04,61.87 243.43,62.07 243.81,62.32 244.19,62.60 244.58,62.91 244.97,63.26 245.35,63.63 245.74,64.02 246.12,64.43 246.50,64.85 246.89,65.28 247.28,65.71 247.66,66.13 248.04,66.55 248.43,66.95 248.81,67.33 249.20,67.69 249.59,68.02 249.97,68.33 250.35,68.59 250.74,68.82 251.12,69.00 251.51,69.15 251.90,69.24 252.28,69.29 252.66,69.30 253.05,69.25 253.44,69.16 253.82,69.03 254.21,68.85 254.59,68.63 254.97,68.37 255.36,68.07 255.75,67.74 256.13,67.39 256.51,67.00 256.90,66.61 257.29,66.19 257.67,65.77 258.06,65.34 258.44,64.91 258.82,64.49 259.21,64.08 259.60,63.68 259.98,63.31 260.37,62.96 260.75,62.64 261.13,62.36 261.52,62.11 261.90,61.90 262.29,61.73 262.68,61.61 263.06,61.53 263.44,61.50 263.83,61.52 264.21,61.58 264.60,61.69 264.99,61.85 265.37,62.04 265.75,62.28 266.14,62.56 266.52,62.87 266.91,63.21 267.30,63.58 267.68,63.96 268.06,64.37 268.45,64.79 268.83,65.22 269.22,65.64 269.61,66.07 269.99,66.49 270.38,66.89 270.76,67.28 271.14,67.64 271.53,67.98 271.92,68.28 272.30,68.56 272.69,68.79 273.07,68.98 273.45,69.13 273.84,69.23 274.23,69.29 274.61,69.30 275.00,69.26 275.38,69.18 275.76,69.05 276.15,68.87 276.53,68.66 276.92,68.41 277.31,68.11 277.69,67.79 278.07,67.44 278.46,67.06 278.85,66.66 279.23,66.25 279.62,65.83 280.00,65.40 280.38,64.97 280.77,64.55 281.15,64.14 281.54,63.74 281.93,63.36 282.31,63.01 282.69,62.69 283.08,62.39 283.47,62.14 283.85,61.93 284.24,61.75 284.62,61.62 285.00,61.54 285.39,61.50 285.77,61.51 286.16,61.57 286.55,61.67 286.93,61.82 287.31,62.01 287.70,62.24 288.08,62.52 288.47,62.82 288.86,63.16 289.24,63.52 289.62,63.91 290.01,64.31 290.39,64.73 290.78,65.16 291.17,65.58 291.55,66.01 291.94,66.43 292.32,66.84 292.70,67.22 293.09,67.59 293.48,67.93 293.86,68.24 294.25,68.52 294.63,68.76 295.01,68.95 295.40,69.11 295.78,69.22 296.17,69.28 296.56,69.30 296.94,69.27 297.32,69.19 297.71,69.07 298.10,68.90 298.48,68.69 298.87,68.44 299.25,68.16 299.63,67.84 300.02,67.49 300.40,67.12 300.79,66.72 301.18,66.31 301.56,65.89 301.94,65.46 302.33,65.03 302.72,64.61 303.10,64.19 303.49,63.80 303.87,63.41 304.25,63.06 304.64,62.73 305.02,62.43 305.41,62.17 305.80,61.95 306.18,61.77 306.56,61.64 306.95,61.55 307.33,61.50 307.72,61.51 308.11,61.56 308.49,61.65 308.88,61.80 309.26,61.98 309.64,62.21 310.03,62.47 310.42,62.78 310.80,63.11 311.19,63.47 311.57,63.85 311.95,64.25 312.34,64.67 312.73,65.09 313.11,65.52 313.50,65.95 313.88,66.37 314.26,66.78 314.65,67.17 315.03,67.54 315.42,67.89 315.81,68.20 316.19,68.48 316.57,68.73 316.96,68.93 317.35,69.09 317.73,69.21 318.12,69.28 318.50,69.30" fill="none" stroke="#2c3f7e" stroke-width="2.1" stroke-linecap="round"/>
<polyline points="241.50,71.45 241.88,71.47 242.27,71.54 242.66,71.66 243.04,71.82 243.43,72.02 243.81,72.27 244.19,72.55 244.58,72.86 244.97,73.21 245.35,73.58 245.74,73.97 246.12,74.38 246.50,74.80 246.89,75.23 247.28,75.66 247.66,76.08 248.04,76.50 248.43,76.90 248.81,77.28 249.20,77.64 249.59,77.97 249.97,78.28 250.35,78.54 250.74,78.77 251.12,78.95 251.51,79.10 251.90,79.19 252.28,79.24 252.66,79.25 253.05,79.20 253.44,79.11 253.82,78.98 254.21,78.80 254.59,78.58 254.97,78.32 255.36,78.02 255.75,77.69 256.13,77.34 256.51,76.95 256.90,76.56 257.29,76.14 257.67,75.72 258.06,75.29 258.44,74.86 258.82,74.44 259.21,74.03 259.60,73.63 259.98,73.26 260.37,72.91 260.75,72.59 261.13,72.31 261.52,72.06 261.90,71.85 262.29,71.68 262.68,71.56 263.06,71.48 263.44,71.45 263.83,71.47 264.21,71.53 264.60,71.64 264.99,71.80 265.37,71.99 265.75,72.23 266.14,72.51 266.52,72.82 266.91,73.16 267.30,73.53 267.68,73.91 268.06,74.32 268.45,74.74 268.83,75.17 269.22,75.59 269.61,76.02 269.99,76.44 270.38,76.84 270.76,77.23 271.14,77.59 271.53,77.93 271.92,78.23 272.30,78.51 272.69,78.74 273.07,78.93 273.45,79.08 273.84,79.18 274.23,79.24 274.61,79.25 275.00,79.21 275.38,79.13 275.76,79.00 276.15,78.82 276.53,78.61 276.92,78.36 277.31,78.06 277.69,77.74 278.07,77.39 278.46,77.01 278.85,76.61 279.23,76.20 279.62,75.78 280.00,75.35 280.38,74.92 280.77,74.50 281.15,74.09 281.54,73.69 281.93,73.31 282.31,72.96 282.69,72.64 283.08,72.34 283.47,72.09 283.85,71.88 284.24,71.70 284.62,71.57 285.00,71.49 285.39,71.45 285.77,71.46 286.16,71.52 286.55,71.62 286.93,71.77 287.31,71.96 287.70,72.19 288.08,72.47 288.47,72.77 288.86,73.11 289.24,73.47 289.62,73.86 290.01,74.26 290.39,74.68 290.78,75.11 291.17,75.53 291.55,75.96 291.94,76.38 292.32,76.79 292.70,77.17 293.09,77.54 293.48,77.88 293.86,78.19 294.25,78.47 294.63,78.71 295.01,78.90 295.40,79.06 295.78,79.17 296.17,79.23 296.56,79.25 296.94,79.22 297.32,79.14 297.71,79.02 298.10,78.85 298.48,78.64 298.87,78.39 299.25,78.11 299.63,77.79 300.02,77.44 300.40,77.07 300.79,76.67 301.18,76.26 301.56,75.84 301.94,75.41 302.33,74.98 302.72,74.56 303.10,74.14 303.49,73.75 303.87,73.36 304.25,73.01 304.64,72.68 305.02,72.38 305.41,72.12 305.80,71.90 306.18,71.72 306.56,71.59 306.95,71.50 307.33,71.45 307.72,71.46 308.11,71.51 308.49,71.60 308.88,71.75 309.26,71.93 309.64,72.16 310.03,72.42 310.42,72.73 310.80,73.06 311.19,73.42 311.57,73.80 311.95,74.20 312.34,74.62 312.73,75.04 313.11,75.47 313.50,75.90 313.88,76.32 314.26,76.73 314.65,77.12 315.03,77.49 315.42,77.84 315.81,78.15 316.19,78.43 316.57,78.68 316.96,78.88 317.35,79.04 317.73,79.16 318.12,79.23 318.50,79.25" fill="none" stroke="#1f6e5f" stroke-width="2.1" stroke-linecap="round"/>
<text x="278.50" y="102.80" font-size="7.7" text-anchor="middle" font-weight="normal" fill="#1a1a1a" stroke="#1a1a1a" stroke-width="0.15" >Spike protein</text>
<polyline points="244.30,108.53 244.67,108.41 245.04,108.34 245.41,108.30 245.77,108.31 246.14,108.37 246.51,108.47 246.88,108.61 247.25,108.79 247.62,109.01 247.99,109.27 248.35,109.56 248.72,109.87 249.09,110.21 249.46,110.58 249.83,110.95 250.20,111.34 250.56,111.74 250.93,112.13 251.30,112.52 251.67,112.90 252.04,113.27 252.41,113.62 252.78,113.94 253.14,114.24 253.51,114.51 253.88,114.74 254.25,114.94 254.62,115.09 254.99,115.20 255.36,115.27 255.72,115.30 256.09,115.28 256.46,115.22 256.83,115.11 257.20,114.96 257.57,114.77 257.93,114.54 258.30,114.28 258.67,113.99 259.04,113.67 259.41,113.32 259.78,112.96 260.15,112.58 260.51,112.19 260.88,111.79 261.25,111.40 261.62,111.01 261.99,110.63 262.36,110.26 262.73,109.92 263.09,109.60 263.46,109.31 263.83,109.05 264.20,108.82 264.57,108.63 264.94,108.48 265.30,108.38 265.67,108.32 266.04,108.30 266.41,108.33 266.78,108.40 267.15,108.51 267.52,108.67 267.88,108.87 268.25,109.10 268.62,109.37 268.99,109.67 269.36,110.00 269.73,110.35 270.10,110.71 270.46,111.10 270.83,111.49 271.20,111.88 271.57,112.27 271.94,112.66 272.31,113.04 272.67,113.40 273.04,113.74 273.41,114.06 273.78,114.34 274.15,114.60 274.52,114.82 274.89,115.00 275.25,115.14 275.62,115.24 275.99,115.29 276.36,115.30 276.73,115.26 277.10,115.18 277.47,115.06 277.83,114.90 278.20,114.69 278.57,114.45 278.94,114.18 279.31,113.87 279.68,113.54 280.04,113.19 280.41,112.82 280.78,112.43 281.15,112.04 281.52,111.65 281.89,111.25 282.26,110.87 282.62,110.49 282.99,110.14 283.36,109.80 283.73,109.49 284.10,109.21 284.47,108.96 284.84,108.75 285.20,108.57 285.57,108.44 285.94,108.35 286.31,108.31 286.68,108.31 287.05,108.35 287.41,108.44 287.78,108.57 288.15,108.74 288.52,108.95 288.89,109.20 289.26,109.48 289.63,109.79 289.99,110.12 290.36,110.48 290.73,110.85 291.10,111.24 291.47,111.63 291.84,112.03 292.20,112.42 292.57,112.80 292.94,113.17 293.31,113.53 293.68,113.86 294.05,114.17 294.42,114.44 294.78,114.68 295.15,114.89 295.52,115.05 295.89,115.18 296.26,115.26 296.63,115.30 297.00,115.29 297.36,115.24 297.73,115.14 298.10,115.00 298.47,114.83 298.84,114.61 299.21,114.35 299.57,114.07 299.94,113.75 300.31,113.41 300.68,113.05 301.05,112.68 301.42,112.29 301.79,111.90 302.15,111.50 302.52,111.11 302.89,110.73 303.26,110.36 303.63,110.01 304.00,109.68 304.37,109.38 304.73,109.11 305.10,108.88 305.47,108.68 305.84,108.52 306.21,108.40 306.58,108.33 306.94,108.30 307.31,108.32 307.68,108.38 308.05,108.48 308.42,108.63 308.79,108.81 309.16,109.04 309.52,109.30 309.89,109.59 310.26,109.91 310.63,110.25 311.00,110.62 311.37,110.99 311.74,111.38 312.10,111.78 312.47,112.17 312.84,112.56 313.21,112.94 313.58,113.31 313.95,113.65 314.31,113.98 314.68,114.27 315.05,114.54 315.42,114.76 315.79,114.95 316.16,115.11 316.53,115.21 316.89,115.28 317.26,115.30 317.63,115.28 318.00,115.21" fill="none" stroke="#3d56a6" stroke-width="2.0" stroke-linecap="round" stroke-dasharray="6.0 5.8"/>
<line x1="321.4" y1="91.8" x2="337.8" y2="91.8" stroke="#1a1a1a" stroke-width="1.9"/>
<path d="M345.8,91.8 L336.8,87.2 L336.8,96.39999999999999 Z" fill="#1a1a1a"/>
<rect x="350.3" y="61.2" width="51" height="56" fill="#fff" stroke="#8aa4d8" stroke-width="1.5"/>
<rect x="353.80" y="66.20" width="10.6" height="39.3" fill="#f6bf93" stroke="#3a3a3a" stroke-width="0.7"/>
<rect x="361.95" y="68.55" width="10.6" height="39.3" fill="#f6bf93" stroke="#3a3a3a" stroke-width="0.7"/>
<rect x="370.10" y="70.90" width="10.6" height="39.3" fill="#f6bf93" stroke="#3a3a3a" stroke-width="0.7"/>
<rect x="378.25" y="73.25" width="10.6" height="39.3" fill="#f6bf93" stroke="#3a3a3a" stroke-width="0.7"/>
<rect x="386.40" y="75.60" width="10.6" height="39.3" fill="#f6bf93" stroke="#3a3a3a" stroke-width="0.7"/>
<line x1="402.8" y1="90.2" x2="416.4" y2="90.2" stroke="#1a1a1a" stroke-width="1.9"/>
<path d="M424.4,90.2 L415.4,85.60000000000001 L415.4,94.8 Z" fill="#1a1a1a"/>
<path d="M429.6,66.8 L455.8,82.2 L455.8,99.2 L429.6,113.6 Z" fill="#dce8f7" stroke="#111" stroke-width="2"/>
<text x="0" y="0" font-size="9.2" text-anchor="middle" fill="#111" stroke="#111" stroke-width="0.15" transform="translate(434.2,89.4) rotate(90)">MLP</text>
<line x1="459.8" y1="90.6" x2="483.2" y2="90.6" stroke="#1a1a1a" stroke-width="1.9"/>
<path d="M491.2,90.6 L482.2,86.0 L482.2,95.19999999999999 Z" fill="#1a1a1a"/>
<text x="491.00" y="49.00" font-size="7.6" text-anchor="start" font-weight="normal" fill="#1a1a1a" stroke="#1a1a1a" stroke-width="0.15" >Neutralize</text>
<path d="M528.3,46.1 L531.4,48.900000000000006 L537.6999999999999,43.0" fill="none" stroke="#2f8a45" stroke-width="2.3"/>
<g><circle cx="507.3" cy="71.0" r="12.24" fill="#e6e8f3"/><line x1="507.47" y1="78.00" x2="508.34" y2="80.00" stroke="#b5453f" stroke-width="0.68"/><line x1="499.40" y1="65.55" x2="501.53" y2="65.99" stroke="#b5453f" stroke-width="0.68"/><line x1="516.48" y1="71.03" x2="517.97" y2="72.61" stroke="#b5453f" stroke-width="0.68"/><line x1="508.27" y1="80.72" x2="508.47" y2="82.89" stroke="#b5453f" stroke-width="0.68"/><line x1="511.64" y1="63.59" x2="510.72" y2="65.56" stroke="#b5453f" stroke-width="0.68"/><line x1="513.36" y1="77.59" x2="511.37" y2="78.47" stroke="#b5453f" stroke-width="0.68"/><line x1="498.59" y1="68.71" x2="497.47" y2="70.57" stroke="#b5453f" stroke-width="0.68"/><line x1="516.32" y1="73.67" x2="515.71" y2="75.75" stroke="#b5453f" stroke-width="0.68"/><line x1="507.69" y1="72.37" x2="505.70" y2="73.26" stroke="#b5453f" stroke-width="0.68"/><line x1="499.22" y1="72.17" x2="497.20" y2="72.98" stroke="#b5453f" stroke-width="0.68"/><line x1="504.61" y1="59.79" x2="505.32" y2="61.85" stroke="#b5453f" stroke-width="0.68"/><line x1="510.65" y1="63.89" x2="508.52" y2="64.33" stroke="#b5453f" stroke-width="0.68"/><line x1="508.77" y1="68.21" x2="510.75" y2="69.11" stroke="#b5453f" stroke-width="0.68"/><line x1="509.28" y1="80.40" x2="509.72" y2="82.53" stroke="#b5453f" stroke-width="0.68"/><line x1="503.15" y1="65.65" x2="503.10" y2="67.82" stroke="#b5453f" stroke-width="0.68"/><line x1="502.73" y1="74.19" x2="502.16" y2="76.29" stroke="#b5453f" stroke-width="0.68"/><line x1="498.96" y1="64.86" x2="497.78" y2="66.69" stroke="#b5453f" stroke-width="0.68"/><line x1="517.89" y1="71.55" x2="519.52" y2="71.63" stroke="#2c4f9e" stroke-width="0.82"/><circle cx="519.52" cy="71.63" r="1.16" fill="#2c4f9e"/><line x1="517.53" y1="73.81" x2="519.10" y2="74.25" stroke="#2c4f9e" stroke-width="0.82"/><circle cx="519.10" cy="74.25" r="1.16" fill="#2c4f9e"/><line x1="517.16" y1="74.92" x2="518.67" y2="75.52" stroke="#2c4f9e" stroke-width="0.82"/><circle cx="518.67" cy="75.52" r="1.16" fill="#2c4f9e"/><line x1="515.52" y1="77.70" x2="516.79" y2="78.74" stroke="#2c4f9e" stroke-width="0.82"/><circle cx="516.79" cy="78.74" r="1.16" fill="#2c4f9e"/><line x1="514.33" y1="78.94" x2="515.41" y2="80.16" stroke="#2c4f9e" stroke-width="0.82"/><circle cx="515.41" cy="80.16" r="1.16" fill="#2c4f9e"/><line x1="512.92" y1="80.00" x2="513.78" y2="81.38" stroke="#2c4f9e" stroke-width="0.82"/><circle cx="513.78" cy="81.38" r="1.16" fill="#2c4f9e"/><line x1="510.49" y1="81.12" x2="510.98" y2="82.67" stroke="#4674c6" stroke-width="0.82"/><circle cx="510.98" cy="82.67" r="1.16" fill="#4674c6"/><line x1="508.96" y1="81.48" x2="509.22" y2="83.09" stroke="#2c4f9e" stroke-width="0.82"/><circle cx="509.22" cy="83.09" r="1.16" fill="#2c4f9e"/><line x1="505.57" y1="81.47" x2="505.31" y2="83.08" stroke="#4674c6" stroke-width="0.82"/><circle cx="505.31" cy="83.08" r="1.16" fill="#4674c6"/><line x1="503.66" y1="80.96" x2="503.10" y2="82.50" stroke="#4674c6" stroke-width="0.82"/><circle cx="503.10" cy="82.50" r="1.16" fill="#4674c6"/><line x1="502.39" y1="80.40" x2="501.63" y2="81.85" stroke="#4674c6" stroke-width="0.82"/><circle cx="501.63" cy="81.85" r="1.16" fill="#4674c6"/><line x1="499.95" y1="78.65" x2="498.82" y2="79.83" stroke="#2c4f9e" stroke-width="0.82"/><circle cx="498.82" cy="79.83" r="1.16" fill="#2c4f9e"/><line x1="499.07" y1="77.70" x2="497.81" y2="78.73" stroke="#2c4f9e" stroke-width="0.82"/><circle cx="497.81" cy="78.73" r="1.16" fill="#2c4f9e"/><line x1="497.86" y1="75.84" x2="496.41" y2="76.58" stroke="#2c4f9e" stroke-width="0.82"/><circle cx="496.41" cy="76.58" r="1.16" fill="#2c4f9e"/><line x1="496.97" y1="73.42" x2="495.38" y2="73.79" stroke="#2c4f9e" stroke-width="0.82"/><circle cx="495.38" cy="73.79" r="1.16" fill="#2c4f9e"/><line x1="496.71" y1="70.39" x2="495.08" y2="70.29" stroke="#4674c6" stroke-width="0.82"/><circle cx="495.08" cy="70.29" r="1.16" fill="#4674c6"/><line x1="497.07" y1="68.18" x2="495.50" y2="67.74" stroke="#4674c6" stroke-width="0.82"/><circle cx="495.50" cy="67.74" r="1.16" fill="#4674c6"/><line x1="497.40" y1="67.18" x2="495.88" y2="66.60" stroke="#4674c6" stroke-width="0.82"/><circle cx="495.88" cy="66.60" r="1.16" fill="#4674c6"/><line x1="498.38" y1="65.26" x2="497.01" y2="64.37" stroke="#4674c6" stroke-width="0.82"/><circle cx="497.01" cy="64.37" r="1.16" fill="#4674c6"/><line x1="500.12" y1="63.20" x2="499.01" y2="61.99" stroke="#2c4f9e" stroke-width="0.82"/><circle cx="499.01" cy="61.99" r="1.16" fill="#2c4f9e"/><line x1="501.62" y1="62.04" x2="500.75" y2="60.66" stroke="#4674c6" stroke-width="0.82"/><circle cx="500.75" cy="60.66" r="1.16" fill="#4674c6"/><line x1="504.47" y1="60.78" x2="504.03" y2="59.20" stroke="#4674c6" stroke-width="0.82"/><circle cx="504.03" cy="59.20" r="1.16" fill="#4674c6"/><line x1="506.77" y1="60.41" x2="506.69" y2="58.78" stroke="#2c4f9e" stroke-width="0.82"/><circle cx="506.69" cy="58.78" r="1.16" fill="#2c4f9e"/><line x1="508.25" y1="60.43" x2="508.40" y2="58.81" stroke="#4674c6" stroke-width="0.82"/><circle cx="508.40" cy="58.81" r="1.16" fill="#4674c6"/><line x1="510.60" y1="60.92" x2="511.11" y2="59.37" stroke="#2c4f9e" stroke-width="0.82"/><circle cx="511.11" cy="59.37" r="1.16" fill="#2c4f9e"/><line x1="512.71" y1="61.87" x2="513.54" y2="60.47" stroke="#4674c6" stroke-width="0.82"/><circle cx="513.54" cy="60.47" r="1.16" fill="#4674c6"/><line x1="514.51" y1="63.22" x2="515.62" y2="62.02" stroke="#2c4f9e" stroke-width="0.82"/><circle cx="515.62" cy="62.02" r="1.16" fill="#2c4f9e"/><line x1="515.89" y1="64.77" x2="517.21" y2="63.81" stroke="#4674c6" stroke-width="0.82"/><circle cx="517.21" cy="63.81" r="1.16" fill="#4674c6"/><line x1="517.10" y1="66.94" x2="518.61" y2="66.32" stroke="#4674c6" stroke-width="0.82"/><circle cx="518.61" cy="66.32" r="1.16" fill="#4674c6"/><line x1="517.62" y1="68.55" x2="519.21" y2="68.17" stroke="#2c4f9e" stroke-width="0.82"/><circle cx="519.21" cy="68.17" r="1.16" fill="#2c4f9e"/><circle cx="500.88" cy="70.74" r="1.02" fill="#4674c6"/><circle cx="499.79" cy="70.78" r="1.02" fill="#4674c6"/><circle cx="499.88" cy="69.30" r="1.02" fill="#4674c6"/><circle cx="514.04" cy="72.07" r="1.02" fill="#2c4f9e"/><circle cx="512.54" cy="71.49" r="1.02" fill="#2c4f9e"/><circle cx="513.56" cy="70.57" r="1.02" fill="#2c4f9e"/><circle cx="506.76" cy="70.96" r="1.02" fill="#2c4f9e"/><circle cx="505.61" cy="71.07" r="1.02" fill="#2c4f9e"/><circle cx="506.13" cy="69.47" r="1.02" fill="#2c4f9e"/><circle cx="502.52" cy="66.09" r="1.02" fill="#4674c6"/><circle cx="500.85" cy="66.35" r="1.02" fill="#4674c6"/><circle cx="501.47" cy="65.10" r="1.02" fill="#4674c6"/><circle cx="503.31" cy="77.72" r="1.02" fill="#2c4f9e"/><circle cx="501.83" cy="77.99" r="1.02" fill="#2c4f9e"/><circle cx="502.35" cy="76.53" r="1.02" fill="#2c4f9e"/><circle cx="507.30" cy="66.46" r="1.02" fill="#2c4f9e"/><circle cx="505.93" cy="65.82" r="1.02" fill="#2c4f9e"/><circle cx="507.10" cy="64.89" r="1.02" fill="#2c4f9e"/><circle cx="509.61" cy="79.66" r="1.02" fill="#2c4f9e"/><circle cx="507.88" cy="79.47" r="1.02" fill="#2c4f9e"/><circle cx="508.54" cy="78.55" r="1.02" fill="#2c4f9e"/><circle cx="508.37" cy="75.54" r="1.02" fill="#4674c6"/><circle cx="506.75" cy="75.38" r="1.02" fill="#4674c6"/><circle cx="507.43" cy="74.24" r="1.02" fill="#4674c6"/><circle cx="500.84" cy="74.39" r="1.02" fill="#2c4f9e"/><circle cx="499.11" cy="74.22" r="1.02" fill="#2c4f9e"/><circle cx="499.93" cy="73.27" r="1.02" fill="#2c4f9e"/><circle cx="513.09" cy="76.22" r="1.02" fill="#4674c6"/><circle cx="511.45" cy="75.92" r="1.02" fill="#4674c6"/><circle cx="512.72" cy="74.98" r="1.02" fill="#4674c6"/><circle cx="516.47" cy="68.26" r="1.02" fill="#2c4f9e"/><circle cx="514.87" cy="68.25" r="1.02" fill="#2c4f9e"/><circle cx="515.28" cy="67.09" r="1.02" fill="#2c4f9e"/><circle cx="511.90" cy="65.03" r="1.02" fill="#4674c6"/><circle cx="510.46" cy="64.61" r="1.02" fill="#4674c6"/><circle cx="510.92" cy="63.58" r="1.02" fill="#4674c6"/><circle cx="504.95" cy="62.75" r="1.02" fill="#2c4f9e"/><circle cx="503.25" cy="62.47" r="1.02" fill="#2c4f9e"/><circle cx="503.99" cy="61.54" r="1.02" fill="#2c4f9e"/><circle cx="511.94" cy="68.63" r="1.02" fill="#4674c6"/><circle cx="510.31" cy="68.31" r="1.02" fill="#4674c6"/><circle cx="511.10" cy="67.29" r="1.02" fill="#4674c6"/><circle cx="516.87" cy="74.66" r="1.02" fill="#2c4f9e"/><circle cx="515.51" cy="74.64" r="1.02" fill="#2c4f9e"/><circle cx="516.00" cy="73.22" r="1.02" fill="#2c4f9e"/></g>
<g transform="translate(533.8,64.0) rotate(-121) scale(0.52)">
<rect x="-4.2" y="-13.5" width="3.3" height="13.5" fill="#2f6cc0"/>
<rect x="0.9" y="-13.5" width="3.3" height="13.5" fill="#2f6cc0"/>
<rect x="-4.2" y="-13.5" width="3.3" height="6.5" fill="#3f7fd0"/>
<rect x="0.9" y="-13.5" width="3.3" height="6.5" fill="#3f7fd0"/>
<rect x="-4.2" y="-7.2" width="3.3" height="0.6" fill="#1f4f90"/>
<rect x="0.9" y="-7.2" width="3.3" height="0.6" fill="#1f4f90"/>
<rect x="-2.3" y="-17" width="4.6" height="3.6" fill="#c8d2e6"/>
<g transform="translate(-3.7,-18.0) rotate(-32)">
<rect x="-1.7" y="-13.3" width="3.4" height="13.3" rx="0.6" fill="#2f6cc0"/>
<rect x="-1.7" y="-13.3" width="3.4" height="6.6" rx="0.6" fill="#4a8ad8"/>
<rect x="-5.6" y="-10.8" width="3.4" height="13.6" rx="0.6" fill="#2a6a4e"/>
<rect x="-5.6" y="-10.8" width="3.4" height="6.8" rx="0.6" fill="#3f8a6a"/>
</g>
<g transform="translate(3.7,-18.0) rotate(32)">
<rect x="-1.7" y="-13.3" width="3.4" height="13.3" rx="0.6" fill="#2f6cc0"/>
<rect x="-1.7" y="-13.3" width="3.4" height="6.6" rx="0.6" fill="#4a8ad8"/>
<rect x="2.2" y="-10.8" width="3.4" height="13.6" rx="0.6" fill="#2a6a4e"/>
<rect x="2.2" y="-10.8" width="3.4" height="6.8" rx="0.6" fill="#3f8a6a"/>
</g>
</g>
<text x="492.00" y="106.30" font-size="7.6" text-anchor="start" font-weight="normal" fill="#1a1a1a" stroke="#1a1a1a" stroke-width="0.15" >Neutralize</text>
<circle cx="532.2" cy="104.1" r="3.4" fill="none" stroke="#e02a2a" stroke-width="0.9"/>
<line x1="529.82" y1="101.72" x2="534.58" y2="106.47999999999999" stroke="#e02a2a" stroke-width="0.9"/>
<g><circle cx="507.9" cy="126.0" r="12.24" fill="#e6e8f3"/><line x1="507.86" y1="128.45" x2="508.55" y2="130.51" stroke="#b5453f" stroke-width="0.68"/><line x1="509.15" y1="127.28" x2="509.81" y2="129.36" stroke="#b5453f" stroke-width="0.68"/><line x1="517.17" y1="120.47" x2="515.56" y2="121.93" stroke="#b5453f" stroke-width="0.68"/><line x1="508.60" y1="133.02" x2="510.00" y2="134.68" stroke="#b5453f" stroke-width="0.68"/><line x1="508.71" y1="128.46" x2="510.41" y2="129.81" stroke="#b5453f" stroke-width="0.68"/><line x1="517.69" y1="121.02" x2="515.90" y2="122.26" stroke="#b5453f" stroke-width="0.68"/><line x1="508.78" y1="120.55" x2="510.00" y2="122.35" stroke="#b5453f" stroke-width="0.68"/><line x1="502.38" y1="118.86" x2="500.42" y2="119.82" stroke="#b5453f" stroke-width="0.68"/><line x1="510.59" y1="122.78" x2="509.88" y2="124.84" stroke="#b5453f" stroke-width="0.68"/><line x1="503.32" y1="118.60" x2="505.17" y2="119.76" stroke="#b5453f" stroke-width="0.68"/><line x1="505.76" y1="126.32" x2="503.63" y2="126.76" stroke="#b5453f" stroke-width="0.68"/><line x1="512.60" y1="119.10" x2="513.88" y2="120.86" stroke="#b5453f" stroke-width="0.68"/><line x1="515.83" y1="121.15" x2="513.80" y2="121.93" stroke="#b5453f" stroke-width="0.68"/><line x1="512.09" y1="118.62" x2="512.67" y2="120.72" stroke="#b5453f" stroke-width="0.68"/><line x1="501.14" y1="121.31" x2="503.04" y2="122.37" stroke="#b5453f" stroke-width="0.68"/><line x1="503.49" y1="135.08" x2="505.65" y2="135.37" stroke="#b5453f" stroke-width="0.68"/><line x1="515.46" y1="127.63" x2="516.84" y2="129.31" stroke="#b5453f" stroke-width="0.68"/><line x1="518.51" y1="126.04" x2="520.14" y2="126.05" stroke="#4674c6" stroke-width="0.82"/><circle cx="520.14" cy="126.05" r="1.16" fill="#4674c6"/><line x1="518.32" y1="128.01" x2="519.92" y2="128.32" stroke="#2c4f9e" stroke-width="0.82"/><circle cx="519.92" cy="128.32" r="1.16" fill="#2c4f9e"/><line x1="517.74" y1="129.96" x2="519.26" y2="130.57" stroke="#4674c6" stroke-width="0.82"/><circle cx="519.26" cy="130.57" r="1.16" fill="#4674c6"/><line x1="516.70" y1="131.93" x2="518.05" y2="132.84" stroke="#2c4f9e" stroke-width="0.82"/><circle cx="518.05" cy="132.84" r="1.16" fill="#2c4f9e"/><line x1="515.21" y1="133.69" x2="516.33" y2="134.87" stroke="#4674c6" stroke-width="0.82"/><circle cx="516.33" cy="134.87" r="1.16" fill="#4674c6"/><line x1="512.93" y1="135.34" x2="513.70" y2="136.78" stroke="#4674c6" stroke-width="0.82"/><circle cx="513.70" cy="136.78" r="1.16" fill="#4674c6"/><line x1="511.11" y1="136.11" x2="511.60" y2="137.67" stroke="#2c4f9e" stroke-width="0.82"/><circle cx="511.60" cy="137.67" r="1.16" fill="#2c4f9e"/><line x1="509.51" y1="136.48" x2="509.76" y2="138.10" stroke="#4674c6" stroke-width="0.82"/><circle cx="509.76" cy="138.10" r="1.16" fill="#4674c6"/><line x1="507.13" y1="136.58" x2="507.02" y2="138.21" stroke="#2c4f9e" stroke-width="0.82"/><circle cx="507.02" cy="138.21" r="1.16" fill="#2c4f9e"/><line x1="504.48" y1="136.04" x2="503.96" y2="137.59" stroke="#4674c6" stroke-width="0.82"/><circle cx="503.96" cy="137.59" r="1.16" fill="#4674c6"/><line x1="502.78" y1="135.29" x2="502.00" y2="136.72" stroke="#4674c6" stroke-width="0.82"/><circle cx="502.00" cy="136.72" r="1.16" fill="#4674c6"/><line x1="500.84" y1="133.92" x2="499.75" y2="135.14" stroke="#4674c6" stroke-width="0.82"/><circle cx="499.75" cy="135.14" r="1.16" fill="#4674c6"/><line x1="499.17" y1="132.03" x2="497.83" y2="132.96" stroke="#2c4f9e" stroke-width="0.82"/><circle cx="497.83" cy="132.96" r="1.16" fill="#2c4f9e"/><line x1="497.99" y1="129.78" x2="496.46" y2="130.36" stroke="#2c4f9e" stroke-width="0.82"/><circle cx="496.46" cy="130.36" r="1.16" fill="#2c4f9e"/><line x1="497.42" y1="127.63" x2="495.81" y2="127.88" stroke="#4674c6" stroke-width="0.82"/><circle cx="495.81" cy="127.88" r="1.16" fill="#4674c6"/><line x1="497.30" y1="126.27" x2="495.66" y2="126.31" stroke="#2c4f9e" stroke-width="0.82"/><circle cx="495.66" cy="126.31" r="1.16" fill="#2c4f9e"/><line x1="497.60" y1="123.45" x2="496.02" y2="123.06" stroke="#4674c6" stroke-width="0.82"/><circle cx="496.02" cy="123.06" r="1.16" fill="#4674c6"/><line x1="498.45" y1="121.18" x2="497.00" y2="120.43" stroke="#2c4f9e" stroke-width="0.82"/><circle cx="497.00" cy="120.43" r="1.16" fill="#2c4f9e"/><line x1="499.56" y1="119.44" x2="498.28" y2="118.43" stroke="#4674c6" stroke-width="0.82"/><circle cx="498.28" cy="118.43" r="1.16" fill="#4674c6"/><line x1="500.51" y1="118.38" x2="499.38" y2="117.21" stroke="#4674c6" stroke-width="0.82"/><circle cx="499.38" cy="117.21" r="1.16" fill="#4674c6"/><line x1="502.20" y1="117.05" x2="501.32" y2="115.68" stroke="#4674c6" stroke-width="0.82"/><circle cx="501.32" cy="115.68" r="1.16" fill="#4674c6"/><line x1="505.19" y1="115.75" x2="504.77" y2="114.17" stroke="#4674c6" stroke-width="0.82"/><circle cx="504.77" cy="114.17" r="1.16" fill="#4674c6"/><line x1="506.17" y1="115.53" x2="505.91" y2="113.92" stroke="#4674c6" stroke-width="0.82"/><circle cx="505.91" cy="113.92" r="1.16" fill="#4674c6"/><line x1="508.59" y1="115.41" x2="508.70" y2="113.79" stroke="#2c4f9e" stroke-width="0.82"/><circle cx="508.70" cy="113.79" r="1.16" fill="#2c4f9e"/><line x1="511.01" y1="115.86" x2="511.49" y2="114.30" stroke="#4674c6" stroke-width="0.82"/><circle cx="511.49" cy="114.30" r="1.16" fill="#4674c6"/><line x1="512.75" y1="116.57" x2="513.50" y2="115.12" stroke="#2c4f9e" stroke-width="0.82"/><circle cx="513.50" cy="115.12" r="1.16" fill="#2c4f9e"/><line x1="514.93" y1="118.05" x2="516.01" y2="116.83" stroke="#4674c6" stroke-width="0.82"/><circle cx="516.01" cy="116.83" r="1.16" fill="#4674c6"/><line x1="516.14" y1="119.32" x2="517.41" y2="118.29" stroke="#4674c6" stroke-width="0.82"/><circle cx="517.41" cy="118.29" r="1.16" fill="#4674c6"/><line x1="517.41" y1="121.30" x2="518.88" y2="120.58" stroke="#2c4f9e" stroke-width="0.82"/><circle cx="518.88" cy="120.58" r="1.16" fill="#2c4f9e"/><line x1="518.17" y1="123.36" x2="519.75" y2="122.95" stroke="#4674c6" stroke-width="0.82"/><circle cx="519.75" cy="122.95" r="1.16" fill="#4674c6"/><circle cx="504.03" cy="126.44" r="1.02" fill="#2c4f9e"/><circle cx="502.34" cy="126.62" r="1.02" fill="#2c4f9e"/><circle cx="502.98" cy="125.41" r="1.02" fill="#2c4f9e"/><circle cx="512.11" cy="125.97" r="1.02" fill="#4674c6"/><circle cx="510.77" cy="126.71" r="1.02" fill="#4674c6"/><circle cx="511.59" cy="125.15" r="1.02" fill="#4674c6"/><circle cx="500.28" cy="125.10" r="1.02" fill="#2c4f9e"/><circle cx="498.81" cy="124.68" r="1.02" fill="#2c4f9e"/><circle cx="500.03" cy="123.67" r="1.02" fill="#2c4f9e"/><circle cx="500.67" cy="131.59" r="1.02" fill="#4674c6"/><circle cx="499.18" cy="131.57" r="1.02" fill="#4674c6"/><circle cx="499.98" cy="130.22" r="1.02" fill="#4674c6"/><circle cx="515.20" cy="121.05" r="1.02" fill="#2c4f9e"/><circle cx="513.68" cy="120.51" r="1.02" fill="#2c4f9e"/><circle cx="514.21" cy="119.63" r="1.02" fill="#2c4f9e"/><circle cx="508.46" cy="131.24" r="1.02" fill="#2c4f9e"/><circle cx="506.93" cy="130.95" r="1.02" fill="#2c4f9e"/><circle cx="507.85" cy="129.81" r="1.02" fill="#2c4f9e"/><circle cx="517.44" cy="129.17" r="1.02" fill="#2c4f9e"/><circle cx="515.72" cy="129.01" r="1.02" fill="#2c4f9e"/><circle cx="516.50" cy="128.03" r="1.02" fill="#2c4f9e"/><circle cx="503.65" cy="119.72" r="1.02" fill="#2c4f9e"/><circle cx="502.26" cy="119.33" r="1.02" fill="#2c4f9e"/><circle cx="502.91" cy="118.16" r="1.02" fill="#2c4f9e"/><circle cx="508.52" cy="119.59" r="1.02" fill="#4674c6"/><circle cx="506.87" cy="119.67" r="1.02" fill="#4674c6"/><circle cx="508.08" cy="118.52" r="1.02" fill="#4674c6"/><circle cx="516.27" cy="124.49" r="1.02" fill="#2c4f9e"/><circle cx="514.75" cy="124.68" r="1.02" fill="#2c4f9e"/><circle cx="515.72" cy="123.30" r="1.02" fill="#2c4f9e"/><circle cx="515.22" cy="133.09" r="1.02" fill="#4674c6"/><circle cx="513.96" cy="133.49" r="1.02" fill="#4674c6"/><circle cx="514.12" cy="131.90" r="1.02" fill="#4674c6"/><circle cx="507.42" cy="124.53" r="1.02" fill="#2c4f9e"/><circle cx="505.93" cy="124.34" r="1.02" fill="#2c4f9e"/><circle cx="506.60" cy="123.10" r="1.02" fill="#2c4f9e"/><circle cx="510.95" cy="133.96" r="1.02" fill="#2c4f9e"/><circle cx="509.68" cy="134.13" r="1.02" fill="#2c4f9e"/><circle cx="509.84" cy="132.65" r="1.02" fill="#2c4f9e"/><circle cx="504.02" cy="134.60" r="1.02" fill="#2c4f9e"/><circle cx="502.66" cy="133.97" r="1.02" fill="#2c4f9e"/><circle cx="503.61" cy="132.98" r="1.02" fill="#2c4f9e"/><circle cx="513.81" cy="129.43" r="1.02" fill="#4674c6"/><circle cx="512.31" cy="129.97" r="1.02" fill="#4674c6"/><circle cx="512.67" cy="128.50" r="1.02" fill="#4674c6"/></g>
<text x="605.20" y="47.90" font-size="7.6" text-anchor="start" font-weight="normal" fill="#1a1a1a" stroke="#1a1a1a" stroke-width="0.15" >Neutralize</text>
<path d="M642,44.9 L645.1,47.7 L651.4,41.8" fill="none" stroke="#2f8a45" stroke-width="2.3"/>
<g><circle cx="626.6" cy="70.3" r="12.24" fill="#f3e4e6"/><line x1="620.76" y1="63.11" x2="619.02" y2="64.41" stroke="#4f86b0" stroke-width="0.68"/><line x1="636.41" y1="66.73" x2="634.30" y2="67.25" stroke="#4f86b0" stroke-width="0.68"/><line x1="634.97" y1="71.45" x2="632.83" y2="71.84" stroke="#4f86b0" stroke-width="0.68"/><line x1="619.46" y1="61.61" x2="621.50" y2="62.36" stroke="#4f86b0" stroke-width="0.68"/><line x1="621.45" y1="70.27" x2="621.15" y2="72.42" stroke="#4f86b0" stroke-width="0.68"/><line x1="624.64" y1="69.06" x2="626.33" y2="70.43" stroke="#4f86b0" stroke-width="0.68"/><line x1="625.49" y1="79.81" x2="623.88" y2="81.27" stroke="#4f86b0" stroke-width="0.68"/><line x1="630.84" y1="78.03" x2="632.81" y2="78.95" stroke="#4f86b0" stroke-width="0.68"/><line x1="622.65" y1="67.69" x2="624.82" y2="67.70" stroke="#4f86b0" stroke-width="0.68"/><line x1="629.19" y1="66.02" x2="630.89" y2="67.38" stroke="#4f86b0" stroke-width="0.68"/><line x1="636.03" y1="68.32" x2="637.37" y2="70.04" stroke="#4f86b0" stroke-width="0.68"/><line x1="634.93" y1="67.46" x2="633.78" y2="69.31" stroke="#4f86b0" stroke-width="0.68"/><line x1="630.17" y1="79.53" x2="628.95" y2="81.33" stroke="#4f86b0" stroke-width="0.68"/><line x1="636.02" y1="67.28" x2="637.30" y2="69.03" stroke="#4f86b0" stroke-width="0.68"/><line x1="622.77" y1="73.21" x2="624.73" y2="74.17" stroke="#4f86b0" stroke-width="0.68"/><line x1="632.43" y1="71.65" x2="631.73" y2="73.71" stroke="#4f86b0" stroke-width="0.68"/><line x1="635.03" y1="69.54" x2="636.09" y2="71.44" stroke="#4f86b0" stroke-width="0.68"/><line x1="637.21" y1="70.06" x2="638.84" y2="70.02" stroke="#922c31" stroke-width="0.82"/><circle cx="638.84" cy="70.02" r="1.16" fill="#922c31"/><line x1="636.98" y1="72.48" x2="638.58" y2="72.82" stroke="#c0464a" stroke-width="0.82"/><circle cx="638.58" cy="72.82" r="1.16" fill="#c0464a"/><line x1="636.30" y1="74.59" x2="637.79" y2="75.25" stroke="#922c31" stroke-width="0.82"/><circle cx="637.79" cy="75.25" r="1.16" fill="#922c31"/><line x1="635.50" y1="76.07" x2="636.87" y2="76.96" stroke="#922c31" stroke-width="0.82"/><circle cx="636.87" cy="76.96" r="1.16" fill="#922c31"/><line x1="634.14" y1="77.76" x2="635.30" y2="78.91" stroke="#922c31" stroke-width="0.82"/><circle cx="635.30" cy="78.91" r="1.16" fill="#922c31"/><line x1="631.52" y1="79.70" x2="632.28" y2="81.14" stroke="#c0464a" stroke-width="0.82"/><circle cx="632.28" cy="81.14" r="1.16" fill="#c0464a"/><line x1="629.53" y1="80.50" x2="629.98" y2="82.06" stroke="#c0464a" stroke-width="0.82"/><circle cx="629.98" cy="82.06" r="1.16" fill="#c0464a"/><line x1="627.61" y1="80.86" x2="627.76" y2="82.48" stroke="#c0464a" stroke-width="0.82"/><circle cx="627.76" cy="82.48" r="1.16" fill="#c0464a"/><line x1="626.07" y1="80.89" x2="625.98" y2="82.52" stroke="#c0464a" stroke-width="0.82"/><circle cx="625.98" cy="82.52" r="1.16" fill="#c0464a"/><line x1="622.78" y1="80.19" x2="622.19" y2="81.72" stroke="#c0464a" stroke-width="0.82"/><circle cx="622.19" cy="81.72" r="1.16" fill="#c0464a"/><line x1="621.02" y1="79.32" x2="620.16" y2="80.71" stroke="#922c31" stroke-width="0.82"/><circle cx="620.16" cy="80.71" r="1.16" fill="#922c31"/><line x1="619.09" y1="77.80" x2="617.94" y2="78.95" stroke="#c0464a" stroke-width="0.82"/><circle cx="617.94" cy="78.95" r="1.16" fill="#c0464a"/><line x1="618.13" y1="76.68" x2="616.82" y2="77.67" stroke="#c0464a" stroke-width="0.82"/><circle cx="616.82" cy="77.67" r="1.16" fill="#c0464a"/><line x1="616.77" y1="74.29" x2="615.26" y2="74.91" stroke="#c0464a" stroke-width="0.82"/><circle cx="615.26" cy="74.91" r="1.16" fill="#c0464a"/><line x1="616.16" y1="72.20" x2="614.56" y2="72.49" stroke="#922c31" stroke-width="0.82"/><circle cx="614.56" cy="72.49" r="1.16" fill="#922c31"/><line x1="616.00" y1="69.84" x2="614.37" y2="69.77" stroke="#c0464a" stroke-width="0.82"/><circle cx="614.37" cy="69.77" r="1.16" fill="#c0464a"/><line x1="616.36" y1="67.54" x2="614.78" y2="67.12" stroke="#c0464a" stroke-width="0.82"/><circle cx="614.78" cy="67.12" r="1.16" fill="#c0464a"/><line x1="616.83" y1="66.17" x2="615.33" y2="65.54" stroke="#922c31" stroke-width="0.82"/><circle cx="615.33" cy="65.54" r="1.16" fill="#922c31"/><line x1="618.34" y1="63.64" x2="617.07" y2="62.62" stroke="#c0464a" stroke-width="0.82"/><circle cx="617.07" cy="62.62" r="1.16" fill="#c0464a"/><line x1="619.91" y1="62.07" x2="618.88" y2="60.80" stroke="#c0464a" stroke-width="0.82"/><circle cx="618.88" cy="60.80" r="1.16" fill="#c0464a"/><line x1="621.09" y1="61.23" x2="620.24" y2="59.84" stroke="#c0464a" stroke-width="0.82"/><circle cx="620.24" cy="59.84" r="1.16" fill="#c0464a"/><line x1="622.93" y1="60.35" x2="622.37" y2="58.81" stroke="#c0464a" stroke-width="0.82"/><circle cx="622.37" cy="58.81" r="1.16" fill="#c0464a"/><line x1="625.05" y1="59.81" x2="624.81" y2="58.19" stroke="#922c31" stroke-width="0.82"/><circle cx="624.81" cy="58.19" r="1.16" fill="#922c31"/><line x1="628.34" y1="59.83" x2="628.60" y2="58.22" stroke="#c0464a" stroke-width="0.82"/><circle cx="628.60" cy="58.22" r="1.16" fill="#c0464a"/><line x1="629.33" y1="60.05" x2="629.75" y2="58.47" stroke="#922c31" stroke-width="0.82"/><circle cx="629.75" cy="58.47" r="1.16" fill="#922c31"/><line x1="631.94" y1="61.13" x2="632.76" y2="59.72" stroke="#c0464a" stroke-width="0.82"/><circle cx="632.76" cy="59.72" r="1.16" fill="#c0464a"/><line x1="633.45" y1="62.20" x2="634.50" y2="60.95" stroke="#c0464a" stroke-width="0.82"/><circle cx="634.50" cy="60.95" r="1.16" fill="#c0464a"/><line x1="635.42" y1="64.41" x2="636.78" y2="63.50" stroke="#c0464a" stroke-width="0.82"/><circle cx="636.78" cy="63.50" r="1.16" fill="#c0464a"/><line x1="636.25" y1="65.89" x2="637.73" y2="65.22" stroke="#c0464a" stroke-width="0.82"/><circle cx="637.73" cy="65.22" r="1.16" fill="#c0464a"/><line x1="637.07" y1="68.62" x2="638.68" y2="68.36" stroke="#c0464a" stroke-width="0.82"/><circle cx="638.68" cy="68.36" r="1.16" fill="#c0464a"/><circle cx="618.70" cy="71.01" r="1.02" fill="#c0464a"/><circle cx="617.23" cy="71.24" r="1.02" fill="#c0464a"/><circle cx="618.28" cy="69.86" r="1.02" fill="#c0464a"/><circle cx="633.00" cy="76.51" r="1.02" fill="#c0464a"/><circle cx="631.41" cy="76.73" r="1.02" fill="#c0464a"/><circle cx="631.81" cy="75.44" r="1.02" fill="#c0464a"/><circle cx="634.58" cy="68.33" r="1.02" fill="#922c31"/><circle cx="633.14" cy="68.56" r="1.02" fill="#922c31"/><circle cx="634.01" cy="67.10" r="1.02" fill="#922c31"/><circle cx="628.22" cy="67.29" r="1.02" fill="#922c31"/><circle cx="626.57" cy="67.71" r="1.02" fill="#922c31"/><circle cx="627.12" cy="66.42" r="1.02" fill="#922c31"/><circle cx="623.86" cy="72.39" r="1.02" fill="#922c31"/><circle cx="622.61" cy="72.41" r="1.02" fill="#922c31"/><circle cx="623.01" cy="70.91" r="1.02" fill="#922c31"/><circle cx="632.72" cy="63.51" r="1.02" fill="#c0464a"/><circle cx="631.59" cy="63.38" r="1.02" fill="#c0464a"/><circle cx="632.31" cy="61.89" r="1.02" fill="#c0464a"/><circle cx="626.46" cy="64.30" r="1.02" fill="#c0464a"/><circle cx="624.96" cy="64.14" r="1.02" fill="#c0464a"/><circle cx="625.95" cy="62.90" r="1.02" fill="#c0464a"/><circle cx="625.70" cy="76.76" r="1.02" fill="#c0464a"/><circle cx="624.41" cy="76.75" r="1.02" fill="#c0464a"/><circle cx="625.07" cy="75.27" r="1.02" fill="#c0464a"/><circle cx="622.75" cy="65.74" r="1.02" fill="#c0464a"/><circle cx="621.13" cy="65.92" r="1.02" fill="#c0464a"/><circle cx="621.85" cy="64.60" r="1.02" fill="#c0464a"/><circle cx="620.64" cy="74.49" r="1.02" fill="#c0464a"/><circle cx="619.20" cy="74.28" r="1.02" fill="#c0464a"/><circle cx="619.58" cy="73.11" r="1.02" fill="#c0464a"/><circle cx="633.71" cy="72.39" r="1.02" fill="#c0464a"/><circle cx="632.04" cy="72.11" r="1.02" fill="#c0464a"/><circle cx="633.23" cy="71.17" r="1.02" fill="#c0464a"/><circle cx="627.81" cy="72.50" r="1.02" fill="#922c31"/><circle cx="626.08" cy="72.73" r="1.02" fill="#922c31"/><circle cx="626.84" cy="71.61" r="1.02" fill="#922c31"/><circle cx="618.70" cy="67.24" r="1.02" fill="#922c31"/><circle cx="617.22" cy="67.02" r="1.02" fill="#922c31"/><circle cx="617.99" cy="65.78" r="1.02" fill="#922c31"/><circle cx="622.08" cy="77.88" r="1.02" fill="#922c31"/><circle cx="620.56" cy="78.08" r="1.02" fill="#922c31"/><circle cx="621.54" cy="76.71" r="1.02" fill="#922c31"/><circle cx="626.86" cy="79.97" r="1.02" fill="#c0464a"/><circle cx="625.16" cy="79.90" r="1.02" fill="#c0464a"/><circle cx="625.63" cy="78.92" r="1.02" fill="#c0464a"/></g>
<g transform="translate(600.8,62.8) rotate(90) scale(0.5)">
<rect x="-4.2" y="-13.5" width="3.3" height="13.5" fill="#2f6cc0"/>
<rect x="0.9" y="-13.5" width="3.3" height="13.5" fill="#2f6cc0"/>
<rect x="-4.2" y="-13.5" width="3.3" height="6.5" fill="#3f7fd0"/>
<rect x="0.9" y="-13.5" width="3.3" height="6.5" fill="#3f7fd0"/>
<rect x="-4.2" y="-7.2" width="3.3" height="0.6" fill="#1f4f90"/>
<rect x="0.9" y="-7.2" width="3.3" height="0.6" fill="#1f4f90"/>
<rect x="-2.3" y="-17" width="4.6" height="3.6" fill="#c8d2e6"/>
<g transform="translate(-3.7,-18.0) rotate(-32)">
<rect x="-1.7" y="-13.3" width="3.4" height="13.3" rx="0.6" fill="#2f6cc0"/>
<rect x="-1.7" y="-13.3" width="3.4" height="6.6" rx="0.6" fill="#4a8ad8"/>
<rect x="-5.6" y="-10.8" width="3.4" height="13.6" rx="0.6" fill="#2a6a4e"/>
<rect x="-5.6" y="-10.8" width="3.4" height="6.8" rx="0.6" fill="#3f8a6a"/>
</g>
<g transform="translate(3.7,-18.0) rotate(32)">
<rect x="-1.7" y="-13.3" width="3.4" height="13.3" rx="0.6" fill="#2f6cc0"/>
<rect x="-1.7" y="-13.3" width="3.4" height="6.6" rx="0.6" fill="#4a8ad8"/>
<rect x="2.2" y="-10.8" width="3.4" height="13.6" rx="0.6" fill="#2a6a4e"/>
<rect x="2.2" y="-10.8" width="3.4" height="6.8" rx="0.6" fill="#3f8a6a"/>
</g>
</g>
<text x="607.00" y="105.00" font-size="7.6" text-anchor="start" font-weight="normal" fill="#1a1a1a" stroke="#1a1a1a" stroke-width="0.15" >Neutralize</text>
<circle cx="647" cy="103.4" r="3.4" fill="none" stroke="#e02a2a" stroke-width="0.9"/>
<line x1="644.62" y1="101.02000000000001" x2="649.38" y2="105.78" stroke="#e02a2a" stroke-width="0.9"/>
<g><circle cx="626.6" cy="127.8" r="12.24" fill="#f3e4e6"/><line x1="629.20" y1="117.21" x2="629.30" y2="119.39" stroke="#4f86b0" stroke-width="0.68"/><line x1="627.12" y1="127.08" x2="626.05" y2="128.98" stroke="#4f86b0" stroke-width="0.68"/><line x1="616.86" y1="128.56" x2="617.70" y2="130.56" stroke="#4f86b0" stroke-width="0.68"/><line x1="628.20" y1="121.53" x2="626.43" y2="122.80" stroke="#4f86b0" stroke-width="0.68"/><line x1="625.85" y1="119.78" x2="625.58" y2="121.94" stroke="#4f86b0" stroke-width="0.68"/><line x1="624.80" y1="122.38" x2="624.44" y2="124.52" stroke="#4f86b0" stroke-width="0.68"/><line x1="629.39" y1="121.90" x2="627.62" y2="123.16" stroke="#4f86b0" stroke-width="0.68"/><line x1="622.13" y1="117.66" x2="623.21" y2="119.55" stroke="#4f86b0" stroke-width="0.68"/><line x1="635.60" y1="132.55" x2="633.82" y2="133.80" stroke="#4f86b0" stroke-width="0.68"/><line x1="622.58" y1="128.29" x2="624.35" y2="129.56" stroke="#4f86b0" stroke-width="0.68"/><line x1="623.79" y1="123.23" x2="621.64" y2="123.56" stroke="#4f86b0" stroke-width="0.68"/><line x1="622.97" y1="124.26" x2="621.95" y2="126.19" stroke="#4f86b0" stroke-width="0.68"/><line x1="620.93" y1="135.58" x2="618.84" y2="136.19" stroke="#4f86b0" stroke-width="0.68"/><line x1="618.54" y1="126.11" x2="617.27" y2="127.88" stroke="#4f86b0" stroke-width="0.68"/><line x1="629.19" y1="117.60" x2="631.36" y2="117.79" stroke="#4f86b0" stroke-width="0.68"/><line x1="620.54" y1="133.37" x2="621.79" y2="135.15" stroke="#4f86b0" stroke-width="0.68"/><line x1="624.85" y1="125.67" x2="622.83" y2="126.47" stroke="#4f86b0" stroke-width="0.68"/><line x1="637.21" y1="127.83" x2="638.84" y2="127.84" stroke="#c0464a" stroke-width="0.82"/><circle cx="638.84" cy="127.84" r="1.16" fill="#c0464a"/><line x1="636.93" y1="130.21" x2="638.52" y2="130.58" stroke="#c0464a" stroke-width="0.82"/><circle cx="638.52" cy="130.58" r="1.16" fill="#c0464a"/><line x1="636.44" y1="131.76" x2="637.96" y2="132.37" stroke="#c0464a" stroke-width="0.82"/><circle cx="637.96" cy="132.37" r="1.16" fill="#c0464a"/><line x1="635.44" y1="133.66" x2="636.81" y2="134.56" stroke="#c0464a" stroke-width="0.82"/><circle cx="636.81" cy="134.56" r="1.16" fill="#c0464a"/><line x1="633.35" y1="135.99" x2="634.38" y2="137.25" stroke="#922c31" stroke-width="0.82"/><circle cx="634.38" cy="137.25" r="1.16" fill="#922c31"/><line x1="632.43" y1="136.66" x2="633.33" y2="138.02" stroke="#922c31" stroke-width="0.82"/><circle cx="633.33" cy="138.02" r="1.16" fill="#922c31"/><line x1="630.46" y1="137.68" x2="631.05" y2="139.20" stroke="#c0464a" stroke-width="0.82"/><circle cx="631.05" cy="139.20" r="1.16" fill="#c0464a"/><line x1="627.20" y1="138.39" x2="627.29" y2="140.02" stroke="#922c31" stroke-width="0.82"/><circle cx="627.29" cy="140.02" r="1.16" fill="#922c31"/><line x1="625.74" y1="138.37" x2="625.60" y2="140.00" stroke="#c0464a" stroke-width="0.82"/><circle cx="625.60" cy="140.00" r="1.16" fill="#c0464a"/><line x1="623.46" y1="137.93" x2="622.97" y2="139.49" stroke="#c0464a" stroke-width="0.82"/><circle cx="622.97" cy="139.49" r="1.16" fill="#c0464a"/><line x1="620.75" y1="136.65" x2="619.86" y2="138.01" stroke="#c0464a" stroke-width="0.82"/><circle cx="619.86" cy="138.01" r="1.16" fill="#c0464a"/><line x1="619.58" y1="135.75" x2="618.49" y2="136.97" stroke="#922c31" stroke-width="0.82"/><circle cx="618.49" cy="136.97" r="1.16" fill="#922c31"/><line x1="618.10" y1="134.14" x2="616.79" y2="135.12" stroke="#922c31" stroke-width="0.82"/><circle cx="616.79" cy="135.12" r="1.16" fill="#922c31"/><line x1="617.05" y1="132.41" x2="615.58" y2="133.12" stroke="#922c31" stroke-width="0.82"/><circle cx="615.58" cy="133.12" r="1.16" fill="#922c31"/><line x1="616.13" y1="129.51" x2="614.52" y2="129.78" stroke="#922c31" stroke-width="0.82"/><circle cx="614.52" cy="129.78" r="1.16" fill="#922c31"/><line x1="616.00" y1="127.30" x2="614.37" y2="127.23" stroke="#c0464a" stroke-width="0.82"/><circle cx="614.37" cy="127.23" r="1.16" fill="#c0464a"/><line x1="616.32" y1="125.18" x2="614.74" y2="124.78" stroke="#922c31" stroke-width="0.82"/><circle cx="614.74" cy="124.78" r="1.16" fill="#922c31"/><line x1="616.92" y1="123.47" x2="615.43" y2="122.80" stroke="#c0464a" stroke-width="0.82"/><circle cx="615.43" cy="122.80" r="1.16" fill="#c0464a"/><line x1="618.17" y1="121.35" x2="616.88" y2="120.36" stroke="#c0464a" stroke-width="0.82"/><circle cx="616.88" cy="120.36" r="1.16" fill="#c0464a"/><line x1="619.12" y1="120.28" x2="617.97" y2="119.12" stroke="#922c31" stroke-width="0.82"/><circle cx="617.97" cy="119.12" r="1.16" fill="#922c31"/><line x1="621.04" y1="118.77" x2="620.18" y2="117.38" stroke="#c0464a" stroke-width="0.82"/><circle cx="620.18" cy="117.38" r="1.16" fill="#c0464a"/><line x1="623.67" y1="117.61" x2="623.22" y2="116.04" stroke="#c0464a" stroke-width="0.82"/><circle cx="623.22" cy="116.04" r="1.16" fill="#c0464a"/><line x1="624.89" y1="117.33" x2="624.62" y2="115.72" stroke="#c0464a" stroke-width="0.82"/><circle cx="624.62" cy="115.72" r="1.16" fill="#c0464a"/><line x1="627.82" y1="117.26" x2="628.01" y2="115.64" stroke="#c0464a" stroke-width="0.82"/><circle cx="628.01" cy="115.64" r="1.16" fill="#c0464a"/><line x1="629.58" y1="117.62" x2="630.04" y2="116.05" stroke="#c0464a" stroke-width="0.82"/><circle cx="630.04" cy="116.05" r="1.16" fill="#c0464a"/><line x1="632.37" y1="118.90" x2="633.26" y2="117.53" stroke="#c0464a" stroke-width="0.82"/><circle cx="633.26" cy="117.53" r="1.16" fill="#c0464a"/><line x1="633.61" y1="119.84" x2="634.69" y2="118.62" stroke="#922c31" stroke-width="0.82"/><circle cx="634.69" cy="118.62" r="1.16" fill="#922c31"/><line x1="635.27" y1="121.68" x2="636.60" y2="120.74" stroke="#c0464a" stroke-width="0.82"/><circle cx="636.60" cy="120.74" r="1.16" fill="#c0464a"/><line x1="636.28" y1="123.46" x2="637.77" y2="122.79" stroke="#c0464a" stroke-width="0.82"/><circle cx="637.77" cy="122.79" r="1.16" fill="#c0464a"/><line x1="636.87" y1="125.15" x2="638.45" y2="124.74" stroke="#c0464a" stroke-width="0.82"/><circle cx="638.45" cy="124.74" r="1.16" fill="#c0464a"/><circle cx="624.37" cy="136.36" r="1.02" fill="#c0464a"/><circle cx="623.17" cy="136.55" r="1.02" fill="#c0464a"/><circle cx="623.59" cy="134.94" r="1.02" fill="#c0464a"/><circle cx="636.31" cy="126.64" r="1.02" fill="#922c31"/><circle cx="634.79" cy="126.50" r="1.02" fill="#922c31"/><circle cx="635.37" cy="125.27" r="1.02" fill="#922c31"/><circle cx="618.64" cy="129.17" r="1.02" fill="#922c31"/><circle cx="617.40" cy="128.91" r="1.02" fill="#922c31"/><circle cx="618.25" cy="127.56" r="1.02" fill="#922c31"/><circle cx="632.19" cy="126.03" r="1.02" fill="#922c31"/><circle cx="630.70" cy="126.43" r="1.02" fill="#922c31"/><circle cx="631.71" cy="125.01" r="1.02" fill="#922c31"/><circle cx="628.95" cy="128.75" r="1.02" fill="#c0464a"/><circle cx="627.46" cy="128.93" r="1.02" fill="#c0464a"/><circle cx="628.55" cy="127.59" r="1.02" fill="#c0464a"/><circle cx="627.62" cy="125.34" r="1.02" fill="#922c31"/><circle cx="626.51" cy="125.33" r="1.02" fill="#922c31"/><circle cx="626.86" cy="123.79" r="1.02" fill="#922c31"/><circle cx="630.03" cy="121.93" r="1.02" fill="#922c31"/><circle cx="628.37" cy="121.98" r="1.02" fill="#922c31"/><circle cx="629.18" cy="120.77" r="1.02" fill="#922c31"/><circle cx="624.52" cy="128.48" r="1.02" fill="#c0464a"/><circle cx="622.92" cy="128.89" r="1.02" fill="#c0464a"/><circle cx="623.65" cy="127.50" r="1.02" fill="#c0464a"/><circle cx="622.23" cy="122.77" r="1.02" fill="#c0464a"/><circle cx="620.93" cy="123.30" r="1.02" fill="#c0464a"/><circle cx="621.15" cy="121.68" r="1.02" fill="#c0464a"/><circle cx="632.07" cy="134.07" r="1.02" fill="#c0464a"/><circle cx="630.46" cy="134.13" r="1.02" fill="#c0464a"/><circle cx="631.54" cy="132.90" r="1.02" fill="#c0464a"/><circle cx="636.24" cy="131.45" r="1.02" fill="#922c31"/><circle cx="634.95" cy="131.46" r="1.02" fill="#922c31"/><circle cx="635.56" cy="129.96" r="1.02" fill="#922c31"/><circle cx="626.42" cy="132.12" r="1.02" fill="#922c31"/><circle cx="625.26" cy="132.06" r="1.02" fill="#922c31"/><circle cx="625.44" cy="130.65" r="1.02" fill="#922c31"/><circle cx="628.46" cy="135.31" r="1.02" fill="#c0464a"/><circle cx="626.82" cy="135.03" r="1.02" fill="#c0464a"/><circle cx="627.37" cy="134.05" r="1.02" fill="#c0464a"/><circle cx="626.32" cy="120.71" r="1.02" fill="#922c31"/><circle cx="624.74" cy="120.34" r="1.02" fill="#922c31"/><circle cx="625.94" cy="119.36" r="1.02" fill="#922c31"/><circle cx="621.96" cy="133.11" r="1.02" fill="#c0464a"/><circle cx="620.80" cy="133.18" r="1.02" fill="#c0464a"/><circle cx="620.99" cy="131.67" r="1.02" fill="#c0464a"/></g>
<text x="12.00" y="209.30" font-size="9.5" text-anchor="start" font-weight="bold" fill="#000" >b</text>
<text x="86.80" y="213.20" font-size="8.8" text-anchor="middle" font-weight="normal" fill="#1a1a1a" stroke="#1a1a1a" stroke-width="0.15" >Omicron-BA1</text>
<path d="M89.3,261.2 L130.00,261.20 A40.7,40.7 0 0 1 128.72,271.32 Z" fill="#c2d997" stroke="#6a6a6a" stroke-width="0.45"/>
<path d="M89.3,261.2 L128.72,271.32 A40.7,40.7 0 0 1 110.02,296.23 Z" fill="#fbe09c" stroke="#6a6a6a" stroke-width="0.45"/>
<path d="M89.3,261.2 L110.02,296.23 A40.7,40.7 0 0 1 71.97,298.03 Z" fill="#e8a29c" stroke="#6a6a6a" stroke-width="0.45"/>
<path d="M89.3,261.2 L71.97,298.03 A40.7,40.7 0 1 1 130.00,261.20 Z" fill="#9abde3" stroke="#6a6a6a" stroke-width="0.45"/>
<text x="64.40" y="254.90" font-size="7.7" text-anchor="middle" font-weight="normal" fill="#1a1a1a" stroke="#1a1a1a" stroke-width="0.15" >67.9%</text>
<text x="123.50" y="267.50" font-size="7.7" text-anchor="middle" font-weight="normal" fill="#1a1a1a" stroke="#1a1a1a" stroke-width="0.15" >4%</text>
<text x="113.20" y="278.80" font-size="7.7" text-anchor="middle" font-weight="normal" fill="#1a1a1a" stroke="#1a1a1a" stroke-width="0.15" >12.5%</text>
<text x="90.00" y="297.60" font-size="7.7" text-anchor="middle" font-weight="normal" fill="#1a1a1a" stroke="#1a1a1a" stroke-width="0.15" >15.5%</text>
<text x="188.60" y="214.00" font-size="8.8" text-anchor="middle" font-weight="normal" fill="#1a1a1a" stroke="#1a1a1a" stroke-width="0.15" >Omicron-BA2</text>
<path d="M187.85,260.2 L228.85,260.20 A41,41 0 0 1 227.22,271.64 Z" fill="#fbe09c" stroke="#6a6a6a" stroke-width="0.45"/>
<path d="M187.85,260.2 L227.22,271.64 A41,41 0 0 1 198.05,299.91 Z" fill="#e8a29c" stroke="#6a6a6a" stroke-width="0.45"/>
<path d="M187.85,260.2 L198.05,299.91 A41,41 0 1 1 228.85,260.20 Z" fill="#9abde3" stroke="#6a6a6a" stroke-width="0.45"/>
<text x="163.10" y="252.80" font-size="7.7" text-anchor="middle" font-weight="normal" fill="#1a1a1a" stroke="#1a1a1a" stroke-width="0.15" >78.7%</text>
<text x="219.60" y="266.80" font-size="7.7" text-anchor="middle" font-weight="normal" fill="#1a1a1a" stroke="#1a1a1a" stroke-width="0.15" >4.5%</text>
<text x="207.90" y="284.10" font-size="7.7" text-anchor="middle" font-weight="normal" fill="#1a1a1a" stroke="#1a1a1a" stroke-width="0.15" >16.5%</text>
<text x="87.50" y="322.80" font-size="8.8" text-anchor="middle" font-weight="normal" fill="#1a1a1a" stroke="#1a1a1a" stroke-width="0.15" >Omicron-BA3</text>
<path d="M89.0,369.9 L130.80,369.90 A41.8,41.8 0 0 1 130.36,375.92 Z" fill="#c2d997" stroke="#6a6a6a" stroke-width="0.45"/>
<path d="M89.0,369.9 L130.36,375.92 A41.8,41.8 0 0 1 47.32,373.05 Z" fill="#9abde3" stroke="#6a6a6a" stroke-width="0.45"/>
<path d="M89.0,369.9 L47.32,373.05 A41.8,41.8 0 1 1 130.80,369.90 Z" fill="#e8a29c" stroke="#6a6a6a" stroke-width="0.45"/>
<text x="89.90" y="336.60" font-size="7.7" text-anchor="middle" font-weight="normal" fill="#1a1a1a" stroke="#1a1a1a" stroke-width="0.15" >51.2%</text>
<text x="89.50" y="405.20" font-size="7.7" text-anchor="middle" font-weight="normal" fill="#1a1a1a" stroke="#1a1a1a" stroke-width="0.15" >46.5%</text>
<text x="185.80" y="322.80" font-size="8.8" text-anchor="middle" font-weight="normal" fill="#1a1a1a" stroke="#1a1a1a" stroke-width="0.15" >Omicron-BA4</text>
<path d="M187.2,369.4 L228.80,369.40 A41.6,41.6 0 0 1 195.51,410.16 Z" fill="#9abde3" stroke="#6a6a6a" stroke-width="0.45"/>
<path d="M187.2,369.4 L195.51,410.16 A41.6,41.6 0 1 1 228.80,369.40 Z" fill="#e8a29c" stroke="#6a6a6a" stroke-width="0.45"/>
<text x="188.00" y="336.60" font-size="7.7" text-anchor="middle" font-weight="normal" fill="#1a1a1a" stroke="#1a1a1a" stroke-width="0.15" >78.2%</text>
<text x="209.90" y="389.60" font-size="7.7" text-anchor="middle" font-weight="normal" fill="#1a1a1a" stroke="#1a1a1a" stroke-width="0.15" >21.8%</text>
<rect x="238" y="278.9" width="11" height="5.5" fill="#9abde3"/>
<text x="249.70" y="284.20" font-size="7.8" text-anchor="start" font-weight="normal" fill="#1a1a1a" stroke="#1a1a1a" stroke-width="0.15" >SARS-CoV2-</text>
<text x="249.70" y="291.90" font-size="7.8" text-anchor="start" font-weight="normal" fill="#1a1a1a" stroke="#1a1a1a" stroke-width="0.15" >WT Patient</text>
<rect x="238" y="298.9" width="11" height="5.5" fill="#e8a29c"/>
<text x="249.70" y="304.20" font-size="7.8" text-anchor="start" font-weight="normal" fill="#1a1a1a" stroke="#1a1a1a" stroke-width="0.15" >SARS-CoV2-</text>
<text x="249.70" y="311.90" font-size="7.8" text-anchor="start" font-weight="normal" fill="#1a1a1a" stroke="#1a1a1a" stroke-width="0.15" >WT Vaccinee</text>
<rect x="238" y="318.9" width="11" height="5.5" fill="#fbe09c"/>
<text x="249.70" y="324.20" font-size="7.8" text-anchor="start" font-weight="normal" fill="#1a1a1a" stroke="#1a1a1a" stroke-width="0.15" >SARS-CoV2-</text>
<text x="249.70" y="331.90" font-size="7.8" text-anchor="start" font-weight="normal" fill="#1a1a1a" stroke="#1a1a1a" stroke-width="0.15" >Gamma Patient</text>
<rect x="238" y="338.9" width="11" height="5.5" fill="#c2d997"/>
<text x="249.70" y="344.20" font-size="7.8" text-anchor="start" font-weight="normal" fill="#1a1a1a" stroke="#1a1a1a" stroke-width="0.15" >SARS-CoV2-</text>
<text x="249.70" y="351.90" font-size="7.8" text-anchor="start" font-weight="normal" fill="#1a1a1a" stroke="#1a1a1a" stroke-width="0.15" >Beta Patient</text>
<text x="333.80" y="209.30" font-size="9.5" text-anchor="start" font-weight="bold" fill="#000" >c</text>
<rect x="464.9" y="208.3" width="10.9" height="5.3" fill="#dccb9f"/>
<text x="476.20" y="213.20" font-size="7.7" text-anchor="start" font-weight="normal" fill="#1a1a1a" stroke="#1a1a1a" stroke-width="0.15" >Non-Neutralizing</text>
<rect x="545.2" y="208.3" width="10.5" height="5.3" fill="#7a4776"/>
<text x="556.40" y="213.20" font-size="7.7" text-anchor="start" font-weight="normal" fill="#1a1a1a" stroke="#1a1a1a" stroke-width="0.15" >Neutralizing</text>
<line x1="395.4" y1="220.5" x2="395.4" y2="407.8" stroke="#dedede" stroke-width="0.8"/>
<line x1="394.4" y1="225.6" x2="395.8" y2="225.6" stroke="#c4c4c4" stroke-width="0.7"/>
<line x1="394.4" y1="234.9" x2="395.8" y2="234.9" stroke="#c4c4c4" stroke-width="0.7"/>
<line x1="394.4" y1="244.2" x2="395.8" y2="244.2" stroke="#c4c4c4" stroke-width="0.7"/>
<line x1="394.4" y1="253.6" x2="395.8" y2="253.6" stroke="#c4c4c4" stroke-width="0.7"/>
<line x1="394.4" y1="262.9" x2="395.8" y2="262.9" stroke="#c4c4c4" stroke-width="0.7"/>
<line x1="394.4" y1="272.2" x2="395.8" y2="272.2" stroke="#c4c4c4" stroke-width="0.7"/>
<line x1="394.4" y1="281.5" x2="395.8" y2="281.5" stroke="#c4c4c4" stroke-width="0.7"/>
<line x1="394.4" y1="290.8" x2="395.8" y2="290.8" stroke="#c4c4c4" stroke-width="0.7"/>
<line x1="394.4" y1="300.2" x2="395.8" y2="300.2" stroke="#c4c4c4" stroke-width="0.7"/>
<line x1="394.4" y1="309.5" x2="395.8" y2="309.5" stroke="#c4c4c4" stroke-width="0.7"/>
<line x1="394.4" y1="318.8" x2="395.8" y2="318.8" stroke="#c4c4c4" stroke-width="0.7"/>
<line x1="394.4" y1="328.1" x2="395.8" y2="328.1" stroke="#c4c4c4" stroke-width="0.7"/>
<line x1="394.4" y1="337.4" x2="395.8" y2="337.4" stroke="#c4c4c4" stroke-width="0.7"/>
<line x1="394.4" y1="346.8" x2="395.8" y2="346.8" stroke="#c4c4c4" stroke-width="0.7"/>
<line x1="394.4" y1="356.1" x2="395.8" y2="356.1" stroke="#c4c4c4" stroke-width="0.7"/>
<line x1="394.4" y1="365.4" x2="395.8" y2="365.4" stroke="#c4c4c4" stroke-width="0.7"/>
<line x1="394.4" y1="374.7" x2="395.8" y2="374.7" stroke="#c4c4c4" stroke-width="0.7"/>
<line x1="394.4" y1="384.0" x2="395.8" y2="384.0" stroke="#c4c4c4" stroke-width="0.7"/>
<line x1="394.4" y1="393.4" x2="395.8" y2="393.4" stroke="#c4c4c4" stroke-width="0.7"/>
<line x1="394.4" y1="402.7" x2="395.8" y2="402.7" stroke="#c4c4c4" stroke-width="0.7"/>
<line x1="395.4" y1="407.8" x2="684.5" y2="407.8" stroke="#d4d4d4" stroke-width="0.9"/>
<line x1="401.3" y1="406.6" x2="401.3" y2="407.8" stroke="#bbb" stroke-width="0.6"/>
<text x="399.90" y="415.90" font-size="8.9" text-anchor="middle" font-weight="normal" fill="#1a1a1a" stroke="#1a1a1a" stroke-width="0.15" >-2.0</text>
<line x1="446.9" y1="406.6" x2="446.9" y2="407.8" stroke="#bbb" stroke-width="0.6"/>
<text x="446.90" y="415.90" font-size="8.9" text-anchor="middle" font-weight="normal" fill="#1a1a1a" stroke="#1a1a1a" stroke-width="0.15" >-1.0</text>
<line x1="492.5" y1="406.6" x2="492.5" y2="407.8" stroke="#bbb" stroke-width="0.6"/>
<text x="492.50" y="415.90" font-size="8.9" text-anchor="middle" font-weight="normal" fill="#1a1a1a" stroke="#1a1a1a" stroke-width="0.15" >0.0</text>
<line x1="538.1" y1="406.6" x2="538.1" y2="407.8" stroke="#bbb" stroke-width="0.6"/>
<text x="538.10" y="415.90" font-size="8.9" text-anchor="middle" font-weight="normal" fill="#1a1a1a" stroke="#1a1a1a" stroke-width="0.15" >1.0</text>
<line x1="583.7" y1="406.6" x2="583.7" y2="407.8" stroke="#bbb" stroke-width="0.6"/>
<text x="583.70" y="415.90" font-size="8.9" text-anchor="middle" font-weight="normal" fill="#1a1a1a" stroke="#1a1a1a" stroke-width="0.15" >2.0</text>
<line x1="629.3" y1="406.6" x2="629.3" y2="407.8" stroke="#bbb" stroke-width="0.6"/>
<text x="629.30" y="415.90" font-size="8.9" text-anchor="middle" font-weight="normal" fill="#1a1a1a" stroke="#1a1a1a" stroke-width="0.15" >3.0</text>
<line x1="674.9" y1="406.6" x2="674.9" y2="407.8" stroke="#bbb" stroke-width="0.6"/>
<text x="674.90" y="415.90" font-size="8.9" text-anchor="middle" font-weight="normal" fill="#1a1a1a" stroke="#1a1a1a" stroke-width="0.15" >4.0</text>
<text x="537.90" y="427.90" font-size="8.9" text-anchor="middle" font-weight="normal" fill="#1a1a1a" stroke="#1a1a1a" stroke-width="0.15" >Normalized score</text>
<text x="374.00" y="244.00" font-size="8.9" text-anchor="middle" font-weight="normal" fill="#1a1a1a" stroke="#1a1a1a" stroke-width="0.15" >Omicron-</text>
<text x="374.60" y="254.00" font-size="8.9" text-anchor="middle" font-weight="normal" fill="#1a1a1a" stroke="#1a1a1a" stroke-width="0.15" >BA1</text>
<text x="374.00" y="289.90" font-size="8.9" text-anchor="middle" font-weight="normal" fill="#1a1a1a" stroke="#1a1a1a" stroke-width="0.15" >Omicron-</text>
<text x="374.60" y="299.90" font-size="8.9" text-anchor="middle" font-weight="normal" fill="#1a1a1a" stroke="#1a1a1a" stroke-width="0.15" >BA2</text>
<text x="374.00" y="335.40" font-size="8.9" text-anchor="middle" font-weight="normal" fill="#1a1a1a" stroke="#1a1a1a" stroke-width="0.15" >Omicron-</text>
<text x="374.60" y="345.40" font-size="8.9" text-anchor="middle" font-weight="normal" fill="#1a1a1a" stroke="#1a1a1a" stroke-width="0.15" >BA4</text>
<text x="374.00" y="381.00" font-size="8.9" text-anchor="middle" font-weight="normal" fill="#1a1a1a" stroke="#1a1a1a" stroke-width="0.15" >Omicron-</text>
<text x="374.60" y="391.00" font-size="8.9" text-anchor="middle" font-weight="normal" fill="#1a1a1a" stroke="#1a1a1a" stroke-width="0.15" >BA5</text>
<text x="625.00" y="241.70" font-size="7.6" text-anchor="start" font-weight="normal" fill="#1a1a1a" stroke="#1a1a1a" stroke-width="0.15" >AUPRC = 0.63</text>
<text x="625.00" y="289.90" font-size="7.6" text-anchor="start" font-weight="normal" fill="#1a1a1a" stroke="#1a1a1a" stroke-width="0.15" >AUPRC = 0.67</text>
<text x="625.00" y="338.00" font-size="7.6" text-anchor="start" font-weight="normal" fill="#1a1a1a" stroke="#1a1a1a" stroke-width="0.15" >AUPRC = 0.74</text>
<text x="625.00" y="385.30" font-size="7.6" text-anchor="start" font-weight="normal" fill="#1a1a1a" stroke="#1a1a1a" stroke-width="0.15" >AUPRC = 0.54</text>
<g fill="#e6d8b0" stroke="#94886c" stroke-width="0.4"><circle cx="415.80" cy="234.70" r="0.98"/><circle cx="421.80" cy="234.70" r="0.98"/><circle cx="421.80" cy="237.05" r="0.98"/><circle cx="421.80" cy="232.35" r="0.98"/><circle cx="427.40" cy="234.70" r="0.98"/><circle cx="433.30" cy="234.70" r="0.98"/><circle cx="441.00" cy="234.70" r="0.98"/><circle cx="442.80" cy="236.21" r="0.98"/><circle cx="446.50" cy="234.70" r="0.98"/><circle cx="446.50" cy="232.35" r="0.98"/><circle cx="448.60" cy="233.65" r="0.98"/><circle cx="448.60" cy="236.00" r="0.98"/><circle cx="448.60" cy="231.30" r="0.98"/><circle cx="453.00" cy="234.70" r="0.98"/><circle cx="455.00" cy="233.47" r="0.98"/><circle cx="456.10" cy="235.54" r="0.98"/><circle cx="460.26" cy="234.70" r="0.98"/><circle cx="461.68" cy="232.82" r="0.98"/><circle cx="461.92" cy="236.37" r="0.98"/><circle cx="462.16" cy="238.71" r="0.98"/><circle cx="462.34" cy="230.57" r="0.98"/><circle cx="462.97" cy="240.91" r="0.98"/><circle cx="464.59" cy="234.70" r="0.98"/><circle cx="464.62" cy="232.35" r="0.98"/><circle cx="466.37" cy="236.22" r="0.98"/><circle cx="469.81" cy="234.70" r="0.98"/><circle cx="470.31" cy="237.00" r="0.98"/><circle cx="470.93" cy="232.64" r="0.98"/><circle cx="471.10" cy="230.29" r="0.98"/><circle cx="471.33" cy="239.11" r="0.98"/><circle cx="471.99" cy="228.12" r="0.98"/><circle cx="472.20" cy="234.70" r="0.98"/><circle cx="472.53" cy="241.14" r="0.98"/><circle cx="472.69" cy="237.00" r="0.98"/><circle cx="473.22" cy="232.09" r="0.98"/><circle cx="473.40" cy="226.23" r="0.98"/><circle cx="473.51" cy="243.27" r="0.98"/><circle cx="474.21" cy="238.80" r="0.98"/><circle cx="474.67" cy="234.70" r="0.98"/><circle cx="474.75" cy="230.31" r="0.98"/><circle cx="475.03" cy="241.00" r="0.98"/><circle cx="476.14" cy="232.87" r="0.98"/><circle cx="476.23" cy="236.46" r="0.98"/><circle cx="476.90" cy="238.71" r="0.98"/><circle cx="477.31" cy="230.83" r="0.98"/><circle cx="477.65" cy="228.51" r="0.98"/><circle cx="477.86" cy="234.70" r="0.98"/><circle cx="478.33" cy="240.58" r="0.98"/><circle cx="478.47" cy="242.92" r="0.98"/><circle cx="478.52" cy="236.95" r="0.98"/><circle cx="478.59" cy="226.35" r="0.98"/><circle cx="480.23" cy="234.70" r="0.98"/><circle cx="482.25" cy="235.89" r="0.98"/><circle cx="482.42" cy="233.55" r="0.98"/><circle cx="482.78" cy="231.22" r="0.98"/><circle cx="482.82" cy="238.17" r="0.98"/><circle cx="482.95" cy="240.52" r="0.98"/><circle cx="483.18" cy="228.91" r="0.98"/><circle cx="483.33" cy="242.84" r="0.98"/><circle cx="483.53" cy="226.58" r="0.98"/><circle cx="483.85" cy="245.13" r="0.98"/><circle cx="483.87" cy="224.26" r="0.98"/><circle cx="483.89" cy="247.48" r="0.98"/><circle cx="483.95" cy="221.91" r="0.98"/><circle cx="484.43" cy="234.76" r="0.98"/><circle cx="484.56" cy="249.73" r="0.98"/><circle cx="484.65" cy="219.67" r="0.98"/><circle cx="485.06" cy="232.49" r="0.98"/><circle cx="485.48" cy="236.86" r="0.98"/><circle cx="485.57" cy="230.20" r="0.98"/><circle cx="485.63" cy="239.21" r="0.98"/><circle cx="485.64" cy="227.85" r="0.98"/><circle cx="485.82" cy="241.55" r="0.98"/><circle cx="486.01" cy="225.53" r="0.98"/><circle cx="486.54" cy="243.79" r="0.98"/><circle cx="486.54" cy="246.14" r="0.98"/><circle cx="488.13" cy="234.70" r="0.98"/><circle cx="488.24" cy="237.05" r="0.98"/><circle cx="488.44" cy="232.37" r="0.98"/><circle cx="488.75" cy="239.34" r="0.98"/><circle cx="488.85" cy="230.06" r="0.98"/><circle cx="489.20" cy="241.65" r="0.98"/><circle cx="489.53" cy="227.81" r="0.98"/><circle cx="489.78" cy="243.92" r="0.98"/><circle cx="490.60" cy="234.70" r="0.98"/><circle cx="490.75" cy="237.04" r="0.98"/><circle cx="491.02" cy="232.39" r="0.98"/><circle cx="491.94" cy="239.07" r="0.98"/><circle cx="492.43" cy="230.51" r="0.98"/><circle cx="492.50" cy="228.16" r="0.98"/><circle cx="493.23" cy="234.70" r="0.98"/><circle cx="493.64" cy="237.02" r="0.98"/><circle cx="493.89" cy="232.44" r="0.98"/><circle cx="493.95" cy="240.28" r="0.98"/><circle cx="494.08" cy="242.63" r="0.98"/><circle cx="494.45" cy="226.84" r="0.98"/><circle cx="494.50" cy="229.39" r="0.98"/><circle cx="494.82" cy="244.86" r="0.98"/><circle cx="494.91" cy="224.54" r="0.98"/><circle cx="495.11" cy="247.19" r="0.98"/><circle cx="495.23" cy="222.21" r="0.98"/><circle cx="495.90" cy="234.70" r="0.98"/><circle cx="497.10" cy="236.72" r="0.98"/><circle cx="497.34" cy="232.84" r="0.98"/><circle cx="498.01" cy="230.59" r="0.98"/><circle cx="498.45" cy="238.65" r="0.98"/><circle cx="498.70" cy="234.75" r="0.98"/><circle cx="498.89" cy="240.96" r="0.98"/><circle cx="500.19" cy="232.93" r="0.98"/><circle cx="500.70" cy="235.98" r="0.98"/><circle cx="500.82" cy="238.33" r="0.98"/><circle cx="501.77" cy="231.20" r="0.98"/><circle cx="501.86" cy="240.44" r="0.98"/><circle cx="503.42" cy="234.70" r="0.98"/><circle cx="503.52" cy="237.05" r="0.98"/><circle cx="503.52" cy="229.62" r="0.98"/><circle cx="503.64" cy="241.97" r="0.98"/><circle cx="503.88" cy="232.39" r="0.98"/><circle cx="504.01" cy="239.35" r="0.98"/><circle cx="504.14" cy="227.36" r="0.98"/><circle cx="504.34" cy="244.21" r="0.98"/><circle cx="504.92" cy="225.14" r="0.98"/><circle cx="505.45" cy="246.29" r="0.98"/><circle cx="505.62" cy="235.52" r="0.98"/><circle cx="505.90" cy="237.86" r="0.98"/><circle cx="506.19" cy="233.24" r="0.98"/><circle cx="506.24" cy="230.89" r="0.98"/><circle cx="507.41" cy="239.65" r="0.98"/><circle cx="507.61" cy="228.98" r="0.98"/><circle cx="507.84" cy="236.30" r="0.98"/><circle cx="507.86" cy="241.96" r="0.98"/><circle cx="507.88" cy="226.65" r="0.98"/><circle cx="508.30" cy="232.19" r="0.98"/><circle cx="508.57" cy="244.20" r="0.98"/><circle cx="508.70" cy="224.45" r="0.98"/><circle cx="508.96" cy="246.52" r="0.98"/><circle cx="509.06" cy="222.13" r="0.98"/><circle cx="509.32" cy="234.47" r="0.98"/><circle cx="509.74" cy="237.69" r="0.98"/><circle cx="509.87" cy="230.45" r="0.98"/><circle cx="509.96" cy="240.03" r="0.98"/><circle cx="510.81" cy="232.66" r="0.98"/><circle cx="510.87" cy="228.32" r="0.98"/><circle cx="511.28" cy="235.77" r="0.98"/><circle cx="511.53" cy="241.78" r="0.98"/><circle cx="511.54" cy="226.07" r="0.98"/><circle cx="511.71" cy="244.12" r="0.98"/><circle cx="511.93" cy="238.53" r="0.98"/><circle cx="512.02" cy="223.77" r="0.98"/><circle cx="512.56" cy="231.08" r="0.98"/><circle cx="512.79" cy="233.96" r="0.98"/><circle cx="512.92" cy="246.13" r="0.98"/><circle cx="513.66" cy="236.15" r="0.98"/><circle cx="513.82" cy="239.93" r="0.98"/><circle cx="514.02" cy="229.24" r="0.98"/><circle cx="514.10" cy="242.26" r="0.98"/><circle cx="514.86" cy="232.85" r="0.98"/><circle cx="515.15" cy="237.97" r="0.98"/><circle cx="515.24" cy="227.24" r="0.98"/><circle cx="515.62" cy="244.06" r="0.98"/><circle cx="515.73" cy="235.04" r="0.98"/><circle cx="515.94" cy="230.77" r="0.98"/><circle cx="515.96" cy="225.00" r="0.98"/><circle cx="515.98" cy="240.84" r="0.98"/><circle cx="516.11" cy="246.36" r="0.98"/><circle cx="516.19" cy="222.66" r="0.98"/><circle cx="516.63" cy="248.65" r="0.98"/><circle cx="516.64" cy="220.35" r="0.98"/><circle cx="516.94" cy="250.98" r="0.98"/><circle cx="517.28" cy="233.27" r="0.98"/><circle cx="517.71" cy="236.30" r="0.98"/><circle cx="519.51" cy="234.70" r="0.98"/><circle cx="519.77" cy="232.36" r="0.98"/><circle cx="519.80" cy="237.39" r="0.98"/><circle cx="519.85" cy="230.02" r="0.98"/><circle cx="520.02" cy="239.73" r="0.98"/><circle cx="520.21" cy="227.69" r="0.98"/><circle cx="520.59" cy="242.01" r="0.98"/><circle cx="520.62" cy="225.38" r="0.98"/><circle cx="521.01" cy="244.32" r="0.98"/><circle cx="521.08" cy="223.08" r="0.98"/><circle cx="521.26" cy="246.65" r="0.98"/><circle cx="521.36" cy="220.74" r="0.98"/><circle cx="521.50" cy="248.99" r="0.98"/><circle cx="521.77" cy="235.33" r="0.98"/><circle cx="522.39" cy="233.06" r="0.98"/><circle cx="522.55" cy="237.54" r="0.98"/><circle cx="523.14" cy="230.83" r="0.98"/><circle cx="523.31" cy="239.77" r="0.98"/><circle cx="523.35" cy="228.49" r="0.98"/><circle cx="523.47" cy="242.11" r="0.98"/><circle cx="523.68" cy="226.16" r="0.98"/><circle cx="523.69" cy="244.45" r="0.98"/><circle cx="525.21" cy="234.70" r="0.98"/><circle cx="525.59" cy="237.02" r="0.98"/><circle cx="525.92" cy="232.46" r="0.98"/><circle cx="525.97" cy="230.11" r="0.98"/><circle cx="526.72" cy="239.08" r="0.98"/><circle cx="527.27" cy="228.15" r="0.98"/><circle cx="527.43" cy="235.48" r="0.98"/><circle cx="527.45" cy="241.31" r="0.98"/><circle cx="528.08" cy="231.54" r="0.98"/><circle cx="528.36" cy="226.07" r="0.98"/><circle cx="528.48" cy="243.43" r="0.98"/><circle cx="529.10" cy="233.82" r="0.98"/><circle cx="529.72" cy="236.09" r="0.98"/><circle cx="530.02" cy="238.42" r="0.98"/><circle cx="530.65" cy="232.06" r="0.98"/><circle cx="530.78" cy="229.71" r="0.98"/><circle cx="530.84" cy="240.62" r="0.98"/><circle cx="530.98" cy="227.37" r="0.98"/><circle cx="531.01" cy="242.97" r="0.98"/><circle cx="531.11" cy="225.02" r="0.98"/><circle cx="531.33" cy="245.29" r="0.98"/><circle cx="531.62" cy="234.70" r="0.98"/><circle cx="531.84" cy="222.79" r="0.98"/><circle cx="531.86" cy="247.58" r="0.98"/><circle cx="531.92" cy="237.03" r="0.98"/><circle cx="532.57" cy="220.56" r="0.98"/><circle cx="533.05" cy="232.83" r="0.98"/><circle cx="533.90" cy="235.26" r="0.98"/><circle cx="534.06" cy="238.00" r="0.98"/><circle cx="534.17" cy="230.77" r="0.98"/><circle cx="534.36" cy="240.33" r="0.98"/><circle cx="535.27" cy="228.69" r="0.98"/><circle cx="535.82" cy="233.89" r="0.98"/><circle cx="535.96" cy="236.39" r="0.98"/><circle cx="536.00" cy="242.01" r="0.98"/><circle cx="536.30" cy="238.71" r="0.98"/><circle cx="536.61" cy="231.68" r="0.98"/><circle cx="536.63" cy="226.77" r="0.98"/><circle cx="537.15" cy="244.06" r="0.98"/><circle cx="537.84" cy="229.68" r="0.98"/><circle cx="537.95" cy="234.87" r="0.98"/><circle cx="538.01" cy="240.33" r="0.98"/><circle cx="538.94" cy="232.74" r="0.98"/><circle cx="540.05" cy="235.94" r="0.98"/><circle cx="540.20" cy="238.29" r="0.98"/><circle cx="540.33" cy="230.84" r="0.98"/><circle cx="541.72" cy="234.29" r="0.98"/><circle cx="541.73" cy="240.07" r="0.98"/><circle cx="541.81" cy="229.02" r="0.98"/><circle cx="542.50" cy="236.50" r="0.98"/><circle cx="542.67" cy="232.14" r="0.98"/><circle cx="542.92" cy="242.10" r="0.98"/><circle cx="543.05" cy="227.02" r="0.98"/><circle cx="543.46" cy="244.38" r="0.98"/><circle cx="544.57" cy="234.70" r="0.98"/><circle cx="544.77" cy="237.13" r="0.98"/><circle cx="544.88" cy="231.32" r="0.98"/><circle cx="544.96" cy="239.47" r="0.98"/><circle cx="545.18" cy="228.99" r="0.98"/><circle cx="545.23" cy="242.52" r="0.98"/><circle cx="547.23" cy="234.70" r="0.98"/><circle cx="548.46" cy="236.70" r="0.98"/><circle cx="550.80" cy="234.70" r="0.98"/><circle cx="550.80" cy="237.05" r="0.98"/><circle cx="550.80" cy="232.35" r="0.98"/><circle cx="554.70" cy="234.70" r="0.98"/><circle cx="556.90" cy="233.87" r="0.98"/><circle cx="561.80" cy="234.70" r="0.98"/><circle cx="561.80" cy="237.05" r="0.98"/><circle cx="561.80" cy="232.35" r="0.98"/><circle cx="561.80" cy="239.40" r="0.98"/><circle cx="567.80" cy="234.70" r="0.98"/><circle cx="570.00" cy="233.87" r="0.98"/><circle cx="576.60" cy="234.70" r="0.98"/><circle cx="582.00" cy="234.70" r="0.98"/><circle cx="600.70" cy="234.70" r="0.98"/></g>
<g fill="#7a3c74" stroke="#5e2858" stroke-width="0.4"><circle cx="460.10" cy="253.70" r="0.90"/><circle cx="468.30" cy="253.70" r="0.90"/><circle cx="468.30" cy="251.35" r="0.90"/><circle cx="480.50" cy="253.70" r="0.90"/><circle cx="480.50" cy="256.05" r="0.90"/><circle cx="482.00" cy="251.89" r="0.90"/><circle cx="483.60" cy="253.70" r="0.90"/><circle cx="483.60" cy="256.05" r="0.90"/><circle cx="490.20" cy="253.70" r="0.90"/><circle cx="490.48" cy="256.03" r="0.90"/><circle cx="490.86" cy="251.44" r="0.90"/><circle cx="491.03" cy="249.10" r="0.90"/><circle cx="491.80" cy="257.98" r="0.90"/><circle cx="492.30" cy="260.28" r="0.90"/><circle cx="492.95" cy="253.70" r="0.90"/><circle cx="493.01" cy="250.50" r="0.90"/><circle cx="493.52" cy="255.98" r="0.90"/><circle cx="494.02" cy="248.38" r="0.90"/><circle cx="495.17" cy="252.91" r="0.90"/><circle cx="495.44" cy="250.57" r="0.90"/><circle cx="495.95" cy="255.12" r="0.90"/><circle cx="496.03" cy="257.47" r="0.90"/><circle cx="496.28" cy="247.73" r="0.90"/><circle cx="497.53" cy="253.39" r="0.90"/><circle cx="498.09" cy="256.08" r="0.90"/><circle cx="500.22" cy="253.70" r="0.90"/><circle cx="500.30" cy="251.35" r="0.90"/><circle cx="501.14" cy="255.86" r="0.90"/><circle cx="501.17" cy="258.21" r="0.90"/><circle cx="501.34" cy="249.24" r="0.90"/><circle cx="502.44" cy="252.93" r="0.90"/><circle cx="502.60" cy="260.08" r="0.90"/><circle cx="503.30" cy="250.74" r="0.90"/><circle cx="503.35" cy="256.67" r="0.90"/><circle cx="503.86" cy="248.46" r="0.90"/><circle cx="504.42" cy="254.20" r="0.90"/><circle cx="506.11" cy="252.58" r="0.90"/><circle cx="506.36" cy="255.52" r="0.90"/><circle cx="506.38" cy="250.24" r="0.90"/><circle cx="506.93" cy="257.80" r="0.90"/><circle cx="507.22" cy="248.05" r="0.90"/><circle cx="507.84" cy="259.97" r="0.90"/><circle cx="508.20" cy="253.70" r="0.90"/><circle cx="509.96" cy="255.26" r="0.90"/><circle cx="510.25" cy="252.54" r="0.90"/><circle cx="510.61" cy="250.22" r="0.90"/><circle cx="511.22" cy="257.25" r="0.90"/><circle cx="511.99" cy="248.32" r="0.90"/><circle cx="512.13" cy="253.95" r="0.90"/><circle cx="512.40" cy="259.28" r="0.90"/><circle cx="512.55" cy="251.63" r="0.90"/><circle cx="512.74" cy="246.09" r="0.90"/><circle cx="512.83" cy="261.59" r="0.90"/><circle cx="513.41" cy="255.92" r="0.90"/><circle cx="513.52" cy="243.87" r="0.90"/><circle cx="513.56" cy="263.82" r="0.90"/><circle cx="514.15" cy="249.92" r="0.90"/><circle cx="514.48" cy="253.70" r="0.90"/><circle cx="514.53" cy="257.99" r="0.90"/><circle cx="515.96" cy="255.52" r="0.90"/><circle cx="516.77" cy="253.18" r="0.90"/><circle cx="517.20" cy="250.87" r="0.90"/><circle cx="517.23" cy="257.50" r="0.90"/><circle cx="517.93" cy="248.63" r="0.90"/><circle cx="518.05" cy="259.71" r="0.90"/><circle cx="518.45" cy="254.82" r="0.90"/><circle cx="518.55" cy="246.37" r="0.90"/><circle cx="519.18" cy="252.59" r="0.90"/><circle cx="519.77" cy="256.77" r="0.90"/><circle cx="519.78" cy="250.32" r="0.90"/><circle cx="520.39" cy="259.03" r="0.90"/><circle cx="521.03" cy="254.04" r="0.90"/><circle cx="521.06" cy="248.35" r="0.90"/><circle cx="521.43" cy="261.14" r="0.90"/><circle cx="521.70" cy="251.79" r="0.90"/><circle cx="521.95" cy="246.17" r="0.90"/><circle cx="522.07" cy="256.15" r="0.90"/><circle cx="522.14" cy="263.38" r="0.90"/><circle cx="522.29" cy="243.85" r="0.90"/><circle cx="523.28" cy="250.05" r="0.90"/><circle cx="523.63" cy="253.70" r="0.90"/><circle cx="523.85" cy="257.68" r="0.90"/><circle cx="524.33" cy="247.95" r="0.90"/><circle cx="524.49" cy="259.95" r="0.90"/><circle cx="525.10" cy="251.87" r="0.90"/><circle cx="525.58" cy="255.02" r="0.90"/><circle cx="526.30" cy="257.26" r="0.90"/><circle cx="526.53" cy="250.00" r="0.90"/><circle cx="527.18" cy="253.30" r="0.90"/><circle cx="527.54" cy="259.25" r="0.90"/><circle cx="528.21" cy="255.41" r="0.90"/><circle cx="528.43" cy="248.61" r="0.90"/><circle cx="531.12" cy="253.70" r="0.90"/><circle cx="531.34" cy="251.36" r="0.90"/><circle cx="531.52" cy="256.02" r="0.90"/><circle cx="531.62" cy="258.36" r="0.90"/><circle cx="532.01" cy="249.11" r="0.90"/><circle cx="533.19" cy="260.11" r="0.90"/><circle cx="533.29" cy="252.79" r="0.90"/><circle cx="533.49" cy="247.28" r="0.90"/><circle cx="533.72" cy="255.10" r="0.90"/><circle cx="534.58" cy="250.83" r="0.90"/><circle cx="535.50" cy="256.65" r="0.90"/><circle cx="536.02" cy="253.70" r="0.90"/><circle cx="536.12" cy="249.06" r="0.90"/><circle cx="536.43" cy="258.80" r="0.90"/><circle cx="536.52" cy="246.74" r="0.90"/><circle cx="537.48" cy="251.86" r="0.90"/><circle cx="537.56" cy="255.47" r="0.90"/><circle cx="539.06" cy="253.67" r="0.90"/><circle cx="539.11" cy="250.16" r="0.90"/><circle cx="539.72" cy="256.40" r="0.90"/><circle cx="539.72" cy="258.75" r="0.90"/><circle cx="539.82" cy="247.92" r="0.90"/><circle cx="539.84" cy="261.10" r="0.90"/><circle cx="539.91" cy="245.58" r="0.90"/><circle cx="540.19" cy="263.43" r="0.90"/><circle cx="540.54" cy="243.31" r="0.90"/><circle cx="540.68" cy="251.97" r="0.90"/><circle cx="541.68" cy="254.10" r="0.90"/><circle cx="541.85" cy="257.40" r="0.90"/><circle cx="542.29" cy="250.25" r="0.90"/><circle cx="542.40" cy="247.90" r="0.90"/><circle cx="542.70" cy="259.59" r="0.90"/><circle cx="542.96" cy="245.62" r="0.90"/><circle cx="542.99" cy="261.92" r="0.90"/><circle cx="543.04" cy="243.27" r="0.90"/><circle cx="543.36" cy="252.46" r="0.90"/><circle cx="543.45" cy="255.63" r="0.90"/><circle cx="544.04" cy="264.02" r="0.90"/><circle cx="545.09" cy="250.87" r="0.90"/><circle cx="545.10" cy="257.31" r="0.90"/><circle cx="545.50" cy="253.70" r="0.90"/><circle cx="546.55" cy="249.02" r="0.90"/><circle cx="546.85" cy="255.62" r="0.90"/><circle cx="547.09" cy="258.56" r="0.90"/><circle cx="547.13" cy="246.74" r="0.90"/><circle cx="547.19" cy="252.07" r="0.90"/><circle cx="547.74" cy="260.82" r="0.90"/><circle cx="548.77" cy="253.80" r="0.90"/><circle cx="549.22" cy="256.11" r="0.90"/><circle cx="550.07" cy="251.84" r="0.90"/><circle cx="550.13" cy="249.49" r="0.90"/><circle cx="550.36" cy="258.17" r="0.90"/><circle cx="550.81" cy="247.24" r="0.90"/><circle cx="552.97" cy="253.70" r="0.90"/><circle cx="553.51" cy="251.41" r="0.90"/><circle cx="553.89" cy="255.86" r="0.90"/><circle cx="554.24" cy="258.19" r="0.90"/><circle cx="555.86" cy="253.70" r="0.90"/><circle cx="555.87" cy="251.35" r="0.90"/><circle cx="556.67" cy="255.91" r="0.90"/><circle cx="557.20" cy="249.41" r="0.90"/><circle cx="558.23" cy="253.70" r="0.90"/><circle cx="560.56" cy="254.02" r="0.90"/><circle cx="561.05" cy="251.72" r="0.90"/><circle cx="561.45" cy="256.19" r="0.90"/><circle cx="562.23" cy="249.69" r="0.90"/><circle cx="564.55" cy="253.70" r="0.90"/><circle cx="564.97" cy="256.01" r="0.90"/><circle cx="566.33" cy="252.16" r="0.90"/><circle cx="566.42" cy="249.81" r="0.90"/><circle cx="566.66" cy="257.64" r="0.90"/><circle cx="567.45" cy="254.22" r="0.90"/><circle cx="568.40" cy="248.54" r="0.90"/><circle cx="570.78" cy="253.70" r="0.90"/><circle cx="572.45" cy="252.05" r="0.90"/><circle cx="576.52" cy="253.70" r="0.90"/><circle cx="577.09" cy="251.42" r="0.90"/><circle cx="578.69" cy="254.62" r="0.90"/><circle cx="581.86" cy="253.70" r="0.90"/><circle cx="582.91" cy="255.80" r="0.90"/><circle cx="583.17" cy="251.75" r="0.90"/><circle cx="606.20" cy="253.70" r="0.90"/><circle cx="611.60" cy="253.70" r="0.90"/><circle cx="655.90" cy="253.70" r="0.90"/></g>
<g fill="#e6d8b0" stroke="#94886c" stroke-width="0.4"><circle cx="407.90" cy="280.90" r="0.98"/><circle cx="418.40" cy="280.90" r="0.98"/><circle cx="430.20" cy="280.90" r="0.98"/><circle cx="432.00" cy="279.39" r="0.98"/><circle cx="440.70" cy="280.90" r="0.98"/><circle cx="443.00" cy="280.42" r="0.98"/><circle cx="445.50" cy="280.90" r="0.98"/><circle cx="448.60" cy="280.90" r="0.98"/><circle cx="448.60" cy="283.25" r="0.98"/><circle cx="452.50" cy="280.90" r="0.98"/><circle cx="454.50" cy="282.13" r="0.98"/><circle cx="454.50" cy="279.67" r="0.98"/><circle cx="456.50" cy="280.90" r="0.98"/><circle cx="460.82" cy="280.90" r="0.98"/><circle cx="461.76" cy="283.05" r="0.98"/><circle cx="461.77" cy="278.75" r="0.98"/><circle cx="463.32" cy="280.90" r="0.98"/><circle cx="463.49" cy="284.65" r="0.98"/><circle cx="464.14" cy="278.70" r="0.98"/><circle cx="464.26" cy="276.35" r="0.98"/><circle cx="464.26" cy="286.87" r="0.98"/><circle cx="464.50" cy="274.01" r="0.98"/><circle cx="465.26" cy="282.24" r="0.98"/><circle cx="465.59" cy="288.81" r="0.98"/><circle cx="465.69" cy="271.99" r="0.98"/><circle cx="466.02" cy="284.46" r="0.98"/><circle cx="466.93" cy="280.59" r="0.98"/><circle cx="468.58" cy="282.27" r="0.98"/><circle cx="468.61" cy="278.94" r="0.98"/><circle cx="468.81" cy="284.61" r="0.98"/><circle cx="468.82" cy="276.60" r="0.98"/><circle cx="468.92" cy="286.96" r="0.98"/><circle cx="469.16" cy="274.28" r="0.98"/><circle cx="469.54" cy="289.22" r="0.98"/><circle cx="470.02" cy="272.09" r="0.98"/><circle cx="470.19" cy="291.48" r="0.98"/><circle cx="470.27" cy="280.65" r="0.98"/><circle cx="470.49" cy="269.79" r="0.98"/><circle cx="471.11" cy="282.84" r="0.98"/><circle cx="471.20" cy="278.49" r="0.98"/><circle cx="472.25" cy="284.90" r="0.98"/><circle cx="472.82" cy="280.90" r="0.98"/><circle cx="473.76" cy="278.75" r="0.98"/><circle cx="474.22" cy="282.79" r="0.98"/><circle cx="474.25" cy="276.45" r="0.98"/><circle cx="475.57" cy="280.87" r="0.98"/><circle cx="476.56" cy="283.00" r="0.98"/><circle cx="476.64" cy="278.78" r="0.98"/><circle cx="476.77" cy="285.34" r="0.98"/><circle cx="477.41" cy="276.56" r="0.98"/><circle cx="477.43" cy="274.21" r="0.98"/><circle cx="477.63" cy="287.53" r="0.98"/><circle cx="478.58" cy="280.90" r="0.98"/><circle cx="478.78" cy="283.79" r="0.98"/><circle cx="478.81" cy="272.30" r="0.98"/><circle cx="479.32" cy="278.67" r="0.98"/><circle cx="479.47" cy="286.04" r="0.98"/><circle cx="479.59" cy="275.66" r="0.98"/><circle cx="480.01" cy="288.33" r="0.98"/><circle cx="480.94" cy="280.90" r="0.98"/><circle cx="481.96" cy="278.79" r="0.98"/><circle cx="482.63" cy="282.53" r="0.98"/><circle cx="483.07" cy="284.84" r="0.98"/><circle cx="483.71" cy="280.45" r="0.98"/><circle cx="485.34" cy="282.14" r="0.98"/><circle cx="485.34" cy="278.75" r="0.98"/><circle cx="485.80" cy="284.44" r="0.98"/><circle cx="485.92" cy="276.48" r="0.98"/><circle cx="485.98" cy="286.79" r="0.98"/><circle cx="486.02" cy="274.13" r="0.98"/><circle cx="486.82" cy="288.98" r="0.98"/><circle cx="487.00" cy="280.48" r="0.98"/><circle cx="487.61" cy="282.74" r="0.98"/><circle cx="487.74" cy="278.25" r="0.98"/><circle cx="489.33" cy="280.90" r="0.98"/><circle cx="489.65" cy="283.90" r="0.98"/><circle cx="489.86" cy="277.23" r="0.98"/><circle cx="490.13" cy="286.20" r="0.98"/><circle cx="490.20" cy="274.91" r="0.98"/><circle cx="490.27" cy="288.55" r="0.98"/><circle cx="491.00" cy="272.69" r="0.98"/><circle cx="492.02" cy="280.90" r="0.98"/><circle cx="492.43" cy="283.21" r="0.98"/><circle cx="492.76" cy="278.67" r="0.98"/><circle cx="493.04" cy="276.34" r="0.98"/><circle cx="493.10" cy="285.47" r="0.98"/><circle cx="493.11" cy="273.99" r="0.98"/><circle cx="494.01" cy="287.63" r="0.98"/><circle cx="494.46" cy="280.90" r="0.98"/><circle cx="494.87" cy="283.21" r="0.98"/><circle cx="495.03" cy="278.07" r="0.98"/><circle cx="495.20" cy="275.41" r="0.98"/><circle cx="495.31" cy="273.06" r="0.98"/><circle cx="495.32" cy="289.59" r="0.98"/><circle cx="495.38" cy="270.71" r="0.98"/><circle cx="496.06" cy="285.24" r="0.98"/><circle cx="496.66" cy="280.07" r="0.98"/><circle cx="496.76" cy="287.48" r="0.98"/><circle cx="496.77" cy="291.44" r="0.98"/><circle cx="496.86" cy="268.89" r="0.98"/><circle cx="497.14" cy="282.37" r="0.98"/><circle cx="497.81" cy="278.02" r="0.98"/><circle cx="498.51" cy="284.27" r="0.98"/><circle cx="499.26" cy="280.90" r="0.98"/><circle cx="499.45" cy="276.33" r="0.98"/><circle cx="499.47" cy="286.42" r="0.98"/><circle cx="499.74" cy="274.00" r="0.98"/><circle cx="501.84" cy="280.90" r="0.98"/><circle cx="501.99" cy="278.55" r="0.98"/><circle cx="502.01" cy="283.24" r="0.98"/><circle cx="502.13" cy="285.59" r="0.98"/><circle cx="502.53" cy="276.27" r="0.98"/><circle cx="502.59" cy="273.92" r="0.98"/><circle cx="503.43" cy="287.55" r="0.98"/><circle cx="503.99" cy="279.95" r="0.98"/><circle cx="504.05" cy="272.07" r="0.98"/><circle cx="504.15" cy="284.23" r="0.98"/><circle cx="504.43" cy="289.68" r="0.98"/><circle cx="504.75" cy="277.73" r="0.98"/><circle cx="504.76" cy="275.38" r="0.98"/><circle cx="505.31" cy="281.90" r="0.98"/><circle cx="505.54" cy="286.12" r="0.98"/><circle cx="505.55" cy="270.26" r="0.98"/><circle cx="505.73" cy="291.63" r="0.98"/><circle cx="506.08" cy="273.43" r="0.98"/><circle cx="507.58" cy="280.90" r="0.98"/><circle cx="507.61" cy="283.25" r="0.98"/><circle cx="507.68" cy="278.55" r="0.98"/><circle cx="508.73" cy="285.31" r="0.98"/><circle cx="509.22" cy="276.78" r="0.98"/><circle cx="509.50" cy="274.45" r="0.98"/><circle cx="509.73" cy="281.84" r="0.98"/><circle cx="509.94" cy="279.50" r="0.98"/><circle cx="510.20" cy="287.15" r="0.98"/><circle cx="510.46" cy="289.48" r="0.98"/><circle cx="510.58" cy="272.36" r="0.98"/><circle cx="510.86" cy="283.90" r="0.98"/><circle cx="510.95" cy="270.04" r="0.98"/><circle cx="511.15" cy="291.73" r="0.98"/><circle cx="511.31" cy="294.07" r="0.98"/><circle cx="512.39" cy="280.90" r="0.98"/><circle cx="512.50" cy="278.55" r="0.98"/><circle cx="512.60" cy="285.48" r="0.98"/><circle cx="512.75" cy="276.22" r="0.98"/><circle cx="512.95" cy="287.81" r="0.98"/><circle cx="513.09" cy="273.89" r="0.98"/><circle cx="513.38" cy="283.03" r="0.98"/><circle cx="513.76" cy="290.01" r="0.98"/><circle cx="513.91" cy="271.69" r="0.98"/><circle cx="513.94" cy="292.35" r="0.98"/><circle cx="514.42" cy="269.40" r="0.98"/><circle cx="514.69" cy="280.44" r="0.98"/><circle cx="515.19" cy="278.15" r="0.98"/><circle cx="515.50" cy="284.04" r="0.98"/><circle cx="516.24" cy="276.04" r="0.98"/><circle cx="516.45" cy="286.19" r="0.98"/><circle cx="516.71" cy="281.65" r="0.98"/><circle cx="516.96" cy="273.81" r="0.98"/><circle cx="517.52" cy="279.44" r="0.98"/><circle cx="517.76" cy="288.14" r="0.98"/><circle cx="518.17" cy="283.49" r="0.98"/><circle cx="518.92" cy="277.56" r="0.98"/><circle cx="519.11" cy="281.17" r="0.98"/><circle cx="519.15" cy="285.63" r="0.98"/><circle cx="519.25" cy="275.23" r="0.98"/><circle cx="519.27" cy="272.88" r="0.98"/><circle cx="519.52" cy="289.70" r="0.98"/><circle cx="520.21" cy="270.73" r="0.98"/><circle cx="520.35" cy="291.90" r="0.98"/><circle cx="520.53" cy="279.29" r="0.98"/><circle cx="520.88" cy="282.72" r="0.98"/><circle cx="521.35" cy="277.09" r="0.98"/><circle cx="521.58" cy="284.96" r="0.98"/><circle cx="521.73" cy="274.77" r="0.98"/><circle cx="522.00" cy="287.28" r="0.98"/><circle cx="522.14" cy="272.46" r="0.98"/><circle cx="522.39" cy="280.90" r="0.98"/><circle cx="522.75" cy="289.50" r="0.98"/><circle cx="523.04" cy="270.29" r="0.98"/><circle cx="523.34" cy="283.05" r="0.98"/><circle cx="523.87" cy="279.08" r="0.98"/><circle cx="524.30" cy="276.77" r="0.98"/><circle cx="525.37" cy="280.90" r="0.98"/><circle cx="526.05" cy="283.15" r="0.98"/><circle cx="526.23" cy="278.72" r="0.98"/><circle cx="526.45" cy="285.46" r="0.98"/><circle cx="526.63" cy="276.40" r="0.98"/><circle cx="526.69" cy="274.05" r="0.98"/><circle cx="526.75" cy="287.79" r="0.98"/><circle cx="527.05" cy="271.73" r="0.98"/><circle cx="527.52" cy="290.02" r="0.98"/><circle cx="528.12" cy="280.90" r="0.98"/><circle cx="528.35" cy="283.60" r="0.98"/><circle cx="528.41" cy="269.81" r="0.98"/><circle cx="528.49" cy="278.08" r="0.98"/><circle cx="530.95" cy="280.90" r="0.98"/><circle cx="531.20" cy="278.56" r="0.98"/><circle cx="531.76" cy="283.11" r="0.98"/><circle cx="531.76" cy="285.46" r="0.98"/><circle cx="532.37" cy="276.52" r="0.98"/><circle cx="533.03" cy="287.43" r="0.98"/><circle cx="533.48" cy="280.90" r="0.98"/><circle cx="533.87" cy="278.58" r="0.98"/><circle cx="534.48" cy="283.03" r="0.98"/><circle cx="534.59" cy="285.38" r="0.98"/><circle cx="536.21" cy="280.90" r="0.98"/><circle cx="537.58" cy="278.99" r="0.98"/><circle cx="537.67" cy="282.74" r="0.98"/><circle cx="538.83" cy="284.78" r="0.98"/><circle cx="541.26" cy="280.90" r="0.98"/><circle cx="542.93" cy="282.55" r="0.98"/><circle cx="544.00" cy="280.45" r="0.98"/><circle cx="544.05" cy="278.10" r="0.98"/><circle cx="553.70" cy="280.90" r="0.98"/><circle cx="553.70" cy="283.25" r="0.98"/><circle cx="553.70" cy="278.55" r="0.98"/><circle cx="556.30" cy="280.90" r="0.98"/><circle cx="556.30" cy="278.55" r="0.98"/><circle cx="556.30" cy="283.25" r="0.98"/><circle cx="556.30" cy="276.20" r="0.98"/><circle cx="564.20" cy="280.90" r="0.98"/><circle cx="564.20" cy="278.55" r="0.98"/><circle cx="564.20" cy="283.25" r="0.98"/><circle cx="566.20" cy="284.48" r="0.98"/><circle cx="566.20" cy="277.32" r="0.98"/><circle cx="568.20" cy="280.90" r="0.98"/><circle cx="568.20" cy="278.55" r="0.98"/><circle cx="568.20" cy="283.25" r="0.98"/><circle cx="573.40" cy="280.90" r="0.98"/><circle cx="584.00" cy="280.90" r="0.98"/></g>
<g fill="#7a3c74" stroke="#5e2858" stroke-width="0.4"><circle cx="447.30" cy="300.10" r="0.90"/><circle cx="452.50" cy="300.10" r="0.90"/><circle cx="467.00" cy="300.10" r="0.90"/><circle cx="482.64" cy="300.10" r="0.90"/><circle cx="484.22" cy="298.36" r="0.90"/><circle cx="485.05" cy="300.56" r="0.90"/><circle cx="485.35" cy="302.89" r="0.90"/><circle cx="486.53" cy="297.93" r="0.90"/><circle cx="487.03" cy="304.54" r="0.90"/><circle cx="487.71" cy="300.10" r="0.90"/><circle cx="487.94" cy="296.05" r="0.90"/><circle cx="488.68" cy="302.24" r="0.90"/><circle cx="488.72" cy="306.17" r="0.90"/><circle cx="488.96" cy="293.93" r="0.90"/><circle cx="489.77" cy="298.97" r="0.90"/><circle cx="490.14" cy="304.08" r="0.90"/><circle cx="491.02" cy="300.96" r="0.90"/><circle cx="493.88" cy="300.10" r="0.90"/><circle cx="494.90" cy="297.98" r="0.90"/><circle cx="500.52" cy="300.10" r="0.90"/><circle cx="504.11" cy="300.10" r="0.90"/><circle cx="505.68" cy="298.35" r="0.90"/><circle cx="506.41" cy="300.59" r="0.90"/><circle cx="506.46" cy="302.94" r="0.90"/><circle cx="506.83" cy="296.30" r="0.90"/><circle cx="507.03" cy="305.22" r="0.90"/><circle cx="507.99" cy="298.85" r="0.90"/><circle cx="508.19" cy="294.39" r="0.90"/><circle cx="508.39" cy="307.13" r="0.90"/><circle cx="508.65" cy="301.31" r="0.90"/><circle cx="509.15" cy="296.81" r="0.90"/><circle cx="510.37" cy="299.71" r="0.90"/><circle cx="511.17" cy="301.92" r="0.90"/><circle cx="512.37" cy="298.48" r="0.90"/><circle cx="513.13" cy="303.22" r="0.90"/><circle cx="513.60" cy="300.49" r="0.90"/><circle cx="514.06" cy="296.85" r="0.90"/><circle cx="514.36" cy="305.22" r="0.90"/><circle cx="514.70" cy="294.59" r="0.90"/><circle cx="514.78" cy="307.54" r="0.90"/><circle cx="514.93" cy="292.25" r="0.90"/><circle cx="515.52" cy="299.13" r="0.90"/><circle cx="515.67" cy="301.61" r="0.90"/><circle cx="515.99" cy="309.55" r="0.90"/><circle cx="517.14" cy="297.43" r="0.90"/><circle cx="517.43" cy="303.16" r="0.90"/><circle cx="517.66" cy="300.10" r="0.90"/><circle cx="518.15" cy="295.31" r="0.90"/><circle cx="518.18" cy="305.39" r="0.90"/><circle cx="518.52" cy="292.99" r="0.90"/><circle cx="518.65" cy="307.69" r="0.90"/><circle cx="519.62" cy="298.81" r="0.90"/><circle cx="520.32" cy="301.05" r="0.90"/><circle cx="520.36" cy="303.40" r="0.90"/><circle cx="520.52" cy="296.64" r="0.90"/><circle cx="521.03" cy="305.65" r="0.90"/><circle cx="521.07" cy="294.35" r="0.90"/><circle cx="521.31" cy="307.99" r="0.90"/><circle cx="521.77" cy="292.11" r="0.90"/><circle cx="521.94" cy="299.34" r="0.90"/><circle cx="522.07" cy="310.21" r="0.90"/><circle cx="522.52" cy="301.87" r="0.90"/><circle cx="523.23" cy="297.39" r="0.90"/><circle cx="523.31" cy="304.08" r="0.90"/><circle cx="523.43" cy="295.04" r="0.90"/><circle cx="523.54" cy="306.42" r="0.90"/><circle cx="523.84" cy="290.99" r="0.90"/><circle cx="524.07" cy="308.71" r="0.90"/><circle cx="525.35" cy="300.10" r="0.90"/><circle cx="526.07" cy="302.34" r="0.90"/><circle cx="526.37" cy="297.98" r="0.90"/><circle cx="526.39" cy="295.63" r="0.90"/><circle cx="526.63" cy="304.62" r="0.90"/><circle cx="526.84" cy="293.33" r="0.90"/><circle cx="526.92" cy="306.95" r="0.90"/><circle cx="527.00" cy="290.98" r="0.90"/><circle cx="528.95" cy="300.10" r="0.90"/><circle cx="530.05" cy="298.02" r="0.90"/><circle cx="530.15" cy="302.12" r="0.90"/><circle cx="530.93" cy="304.34" r="0.90"/><circle cx="531.72" cy="300.10" r="0.90"/><circle cx="532.35" cy="297.56" r="0.90"/><circle cx="532.83" cy="302.17" r="0.90"/><circle cx="532.83" cy="295.26" r="0.90"/><circle cx="532.89" cy="305.63" r="0.90"/><circle cx="533.47" cy="293.00" r="0.90"/><circle cx="533.49" cy="307.90" r="0.90"/><circle cx="534.60" cy="300.10" r="0.90"/><circle cx="534.88" cy="297.77" r="0.90"/><circle cx="534.98" cy="303.12" r="0.90"/><circle cx="535.12" cy="294.74" r="0.90"/><circle cx="535.17" cy="306.17" r="0.90"/><circle cx="535.25" cy="291.47" r="0.90"/><circle cx="535.92" cy="308.40" r="0.90"/><circle cx="536.08" cy="310.75" r="0.90"/><circle cx="536.41" cy="289.42" r="0.90"/><circle cx="536.48" cy="313.06" r="0.90"/><circle cx="536.53" cy="287.08" r="0.90"/><circle cx="536.93" cy="299.75" r="0.90"/><circle cx="537.21" cy="302.08" r="0.90"/><circle cx="537.37" cy="297.44" r="0.90"/><circle cx="537.38" cy="304.43" r="0.90"/><circle cx="537.94" cy="295.16" r="0.90"/><circle cx="538.28" cy="306.60" r="0.90"/><circle cx="539.25" cy="300.10" r="0.90"/><circle cx="539.36" cy="303.02" r="0.90"/><circle cx="539.53" cy="293.43" r="0.90"/><circle cx="541.03" cy="298.56" r="0.90"/><circle cx="541.24" cy="301.35" r="0.90"/><circle cx="541.40" cy="296.24" r="0.90"/><circle cx="541.90" cy="303.61" r="0.90"/><circle cx="542.72" cy="305.81" r="0.90"/><circle cx="542.74" cy="294.31" r="0.90"/><circle cx="543.32" cy="300.10" r="0.90"/><circle cx="543.48" cy="297.76" r="0.90"/><circle cx="543.88" cy="307.85" r="0.90"/><circle cx="544.01" cy="302.35" r="0.90"/><circle cx="544.43" cy="292.68" r="0.90"/><circle cx="544.47" cy="290.33" r="0.90"/><circle cx="544.62" cy="310.09" r="0.90"/><circle cx="545.26" cy="296.22" r="0.90"/><circle cx="545.39" cy="304.25" r="0.90"/><circle cx="545.93" cy="300.10" r="0.90"/><circle cx="546.54" cy="294.25" r="0.90"/><circle cx="546.94" cy="302.22" r="0.90"/><circle cx="546.98" cy="298.00" r="0.90"/><circle cx="546.98" cy="305.97" r="0.90"/><circle cx="547.23" cy="292.00" r="0.90"/><circle cx="547.65" cy="308.23" r="0.90"/><circle cx="547.66" cy="289.69" r="0.90"/><circle cx="547.92" cy="310.56" r="0.90"/><circle cx="548.78" cy="300.10" r="0.90"/><circle cx="549.69" cy="297.94" r="0.90"/><circle cx="551.51" cy="300.10" r="0.90"/><circle cx="551.56" cy="302.45" r="0.90"/><circle cx="552.35" cy="297.91" r="0.90"/><circle cx="552.52" cy="304.59" r="0.90"/><circle cx="552.80" cy="295.60" r="0.90"/><circle cx="553.27" cy="306.82" r="0.90"/><circle cx="554.84" cy="300.10" r="0.90"/><circle cx="555.01" cy="297.76" r="0.90"/><circle cx="555.17" cy="302.43" r="0.90"/><circle cx="555.40" cy="295.44" r="0.90"/><circle cx="555.78" cy="304.70" r="0.90"/><circle cx="557.08" cy="300.82" r="0.90"/><circle cx="557.52" cy="298.52" r="0.90"/><circle cx="557.63" cy="303.11" r="0.90"/><circle cx="557.68" cy="296.17" r="0.90"/><circle cx="558.07" cy="305.42" r="0.90"/><circle cx="559.71" cy="300.10" r="0.90"/><circle cx="559.74" cy="297.74" r="0.90"/><circle cx="562.35" cy="300.10" r="0.90"/><circle cx="563.46" cy="302.17" r="0.90"/><circle cx="563.71" cy="298.19" r="0.90"/><circle cx="564.27" cy="295.90" r="0.90"/><circle cx="564.43" cy="304.31" r="0.90"/><circle cx="565.80" cy="300.10" r="0.90"/><circle cx="566.96" cy="298.05" r="0.90"/><circle cx="568.01" cy="300.92" r="0.90"/><circle cx="568.17" cy="303.27" r="0.90"/><circle cx="569.10" cy="297.08" r="0.90"/><circle cx="569.12" cy="305.42" r="0.90"/><circle cx="570.10" cy="299.86" r="0.90"/><circle cx="572.51" cy="300.10" r="0.90"/><circle cx="573.26" cy="302.33" r="0.90"/><circle cx="575.24" cy="300.10" r="0.90"/><circle cx="575.88" cy="302.36" r="0.90"/><circle cx="576.35" cy="298.03" r="0.90"/><circle cx="576.71" cy="295.71" r="0.90"/><circle cx="576.73" cy="304.55" r="0.90"/><circle cx="577.32" cy="293.44" r="0.90"/><circle cx="580.65" cy="300.10" r="0.90"/><circle cx="587.59" cy="300.10" r="0.90"/><circle cx="600.00" cy="300.10" r="0.90"/><circle cx="607.00" cy="300.10" r="0.90"/><circle cx="612.00" cy="300.10" r="0.90"/><circle cx="612.00" cy="297.75" r="0.90"/><circle cx="619.00" cy="300.10" r="0.90"/><circle cx="670.50" cy="300.10" r="0.90"/></g>
<g fill="#e6d8b0" stroke="#94886c" stroke-width="0.4"><circle cx="450.20" cy="328.60" r="0.98"/><circle cx="454.30" cy="328.60" r="0.98"/><circle cx="468.60" cy="328.60" r="0.98"/><circle cx="470.70" cy="327.55" r="0.98"/><circle cx="470.70" cy="329.90" r="0.98"/><circle cx="473.70" cy="328.60" r="0.98"/><circle cx="478.80" cy="328.60" r="0.98"/><circle cx="486.00" cy="328.60" r="0.98"/><circle cx="488.00" cy="327.37" r="0.98"/><circle cx="488.00" cy="329.83" r="0.98"/><circle cx="493.20" cy="328.60" r="0.98"/><circle cx="493.20" cy="330.95" r="0.98"/><circle cx="493.20" cy="326.25" r="0.98"/><circle cx="498.20" cy="328.60" r="0.98"/><circle cx="500.90" cy="328.60" r="0.98"/><circle cx="503.40" cy="328.60" r="0.98"/><circle cx="505.80" cy="328.60" r="0.98"/><circle cx="508.50" cy="328.60" r="0.98"/><circle cx="510.50" cy="327.37" r="0.98"/><circle cx="517.70" cy="328.60" r="0.98"/><circle cx="520.70" cy="328.60" r="0.98"/><circle cx="523.80" cy="328.60" r="0.98"/><circle cx="526.90" cy="328.60" r="0.98"/><circle cx="528.30" cy="330.49" r="0.98"/><circle cx="528.30" cy="326.71" r="0.98"/><circle cx="533.00" cy="328.60" r="0.98"/><circle cx="552.40" cy="328.60" r="0.98"/><circle cx="560.60" cy="328.60" r="0.98"/></g>
<g fill="#7a3c74" stroke="#5e2858" stroke-width="0.4"><circle cx="478.80" cy="347.10" r="0.90"/><circle cx="490.10" cy="347.10" r="0.90"/><circle cx="496.20" cy="347.10" r="0.90"/><circle cx="498.20" cy="348.33" r="0.90"/><circle cx="498.20" cy="345.87" r="0.90"/><circle cx="504.40" cy="347.10" r="0.90"/><circle cx="511.10" cy="347.10" r="0.90"/><circle cx="521.70" cy="347.10" r="0.90"/><circle cx="521.70" cy="344.75" r="0.90"/><circle cx="521.70" cy="349.45" r="0.90"/><circle cx="524.80" cy="347.10" r="0.90"/><circle cx="535.00" cy="347.10" r="0.90"/><circle cx="539.10" cy="347.10" r="0.90"/><circle cx="544.20" cy="347.10" r="0.90"/><circle cx="554.40" cy="347.10" r="0.90"/><circle cx="554.40" cy="344.75" r="0.90"/><circle cx="554.40" cy="349.45" r="0.90"/><circle cx="554.40" cy="351.80" r="0.90"/><circle cx="562.60" cy="347.10" r="0.90"/><circle cx="567.70" cy="347.10" r="0.90"/><circle cx="616.60" cy="347.10" r="0.90"/></g>
<g fill="#e6d8b0" stroke="#94886c" stroke-width="0.4"><circle cx="421.00" cy="375.40" r="0.98"/><circle cx="421.00" cy="377.75" r="0.98"/><circle cx="442.10" cy="375.40" r="0.98"/><circle cx="448.00" cy="375.40" r="0.98"/><circle cx="451.00" cy="375.40" r="0.98"/><circle cx="451.16" cy="373.06" r="0.98"/><circle cx="452.39" cy="377.30" r="0.98"/><circle cx="453.22" cy="374.63" r="0.98"/><circle cx="454.80" cy="376.36" r="0.98"/><circle cx="454.90" cy="372.98" r="0.98"/><circle cx="455.39" cy="378.64" r="0.98"/><circle cx="456.24" cy="371.06" r="0.98"/><circle cx="456.32" cy="380.80" r="0.98"/><circle cx="456.89" cy="375.28" r="0.98"/><circle cx="457.62" cy="377.52" r="0.98"/><circle cx="460.10" cy="375.40" r="0.98"/><circle cx="460.51" cy="373.09" r="0.98"/><circle cx="461.48" cy="377.30" r="0.98"/><circle cx="462.83" cy="375.38" r="0.98"/><circle cx="463.51" cy="373.13" r="0.98"/><circle cx="463.56" cy="378.39" r="0.98"/><circle cx="466.24" cy="375.40" r="0.98"/><circle cx="466.94" cy="373.15" r="0.98"/><circle cx="467.38" cy="377.46" r="0.98"/><circle cx="468.94" cy="375.40" r="0.98"/><circle cx="469.60" cy="373.14" r="0.98"/><circle cx="469.71" cy="377.78" r="0.98"/><circle cx="471.18" cy="371.40" r="0.98"/><circle cx="471.85" cy="375.40" r="0.98"/><circle cx="471.86" cy="378.72" r="0.98"/><circle cx="472.38" cy="381.02" r="0.98"/><circle cx="473.43" cy="373.66" r="0.98"/><circle cx="474.50" cy="375.75" r="0.98"/><circle cx="474.78" cy="378.09" r="0.98"/><circle cx="475.66" cy="372.93" r="0.98"/><circle cx="475.68" cy="370.58" r="0.98"/><circle cx="475.79" cy="380.21" r="0.98"/><circle cx="476.14" cy="368.28" r="0.98"/><circle cx="477.51" cy="375.40" r="0.98"/><circle cx="478.10" cy="377.68" r="0.98"/><circle cx="478.31" cy="373.19" r="0.98"/><circle cx="479.34" cy="379.67" r="0.98"/><circle cx="479.53" cy="371.18" r="0.98"/><circle cx="479.77" cy="368.84" r="0.98"/><circle cx="479.81" cy="375.89" r="0.98"/><circle cx="479.99" cy="381.93" r="0.98"/><circle cx="481.08" cy="373.91" r="0.98"/><circle cx="482.88" cy="375.42" r="0.98"/><circle cx="482.90" cy="377.77" r="0.98"/><circle cx="483.34" cy="373.11" r="0.98"/><circle cx="484.20" cy="379.72" r="0.98"/><circle cx="484.80" cy="371.27" r="0.98"/><circle cx="484.88" cy="368.92" r="0.98"/><circle cx="485.56" cy="375.40" r="0.98"/><circle cx="485.72" cy="377.74" r="0.98"/><circle cx="485.90" cy="381.34" r="0.98"/><circle cx="486.14" cy="383.68" r="0.98"/><circle cx="487.38" cy="373.92" r="0.98"/><circle cx="488.06" cy="376.17" r="0.98"/><circle cx="489.03" cy="378.31" r="0.98"/><circle cx="489.07" cy="372.28" r="0.98"/><circle cx="489.07" cy="380.66" r="0.98"/><circle cx="489.60" cy="369.99" r="0.98"/><circle cx="490.21" cy="375.23" r="0.98"/><circle cx="491.28" cy="377.33" r="0.98"/><circle cx="491.88" cy="373.57" r="0.98"/><circle cx="492.84" cy="379.09" r="0.98"/><circle cx="494.52" cy="375.40" r="0.98"/><circle cx="495.18" cy="377.65" r="0.98"/><circle cx="495.96" cy="373.55" r="0.98"/><circle cx="496.71" cy="379.44" r="0.98"/><circle cx="496.95" cy="375.68" r="0.98"/><circle cx="497.16" cy="371.53" r="0.98"/><circle cx="497.34" cy="369.18" r="0.98"/><circle cx="499.00" cy="374.52" r="0.98"/><circle cx="499.19" cy="376.86" r="0.98"/><circle cx="499.55" cy="372.24" r="0.98"/><circle cx="500.11" cy="379.02" r="0.98"/><circle cx="500.39" cy="370.04" r="0.98"/><circle cx="500.52" cy="381.34" r="0.98"/><circle cx="500.58" cy="367.70" r="0.98"/><circle cx="502.73" cy="375.40" r="0.98"/><circle cx="502.88" cy="373.05" r="0.98"/><circle cx="503.56" cy="377.60" r="0.98"/><circle cx="504.38" cy="371.24" r="0.98"/><circle cx="504.53" cy="379.74" r="0.98"/><circle cx="505.40" cy="375.40" r="0.98"/><circle cx="506.25" cy="373.21" r="0.98"/><circle cx="506.45" cy="377.50" r="0.98"/><circle cx="506.90" cy="379.81" r="0.98"/><circle cx="508.43" cy="375.40" r="0.98"/><circle cx="508.78" cy="373.08" r="0.98"/><circle cx="508.88" cy="377.71" r="0.98"/><circle cx="509.04" cy="370.74" r="0.98"/><circle cx="509.17" cy="380.39" r="0.98"/><circle cx="510.23" cy="368.72" r="0.98"/><circle cx="510.40" cy="382.40" r="0.98"/><circle cx="510.91" cy="375.40" r="0.98"/><circle cx="510.98" cy="372.24" r="0.98"/><circle cx="511.00" cy="378.71" r="0.98"/><circle cx="511.01" cy="366.50" r="0.98"/><circle cx="511.49" cy="384.48" r="0.98"/><circle cx="511.64" cy="364.23" r="0.98"/><circle cx="511.89" cy="386.80" r="0.98"/><circle cx="512.33" cy="370.32" r="0.98"/><circle cx="512.55" cy="380.48" r="0.98"/><circle cx="512.74" cy="376.86" r="0.98"/><circle cx="513.07" cy="374.49" r="0.98"/><circle cx="513.09" cy="368.09" r="0.98"/><circle cx="513.57" cy="382.60" r="0.98"/><circle cx="514.05" cy="372.35" r="0.98"/><circle cx="514.21" cy="378.70" r="0.98"/><circle cx="514.85" cy="370.14" r="0.98"/><circle cx="515.23" cy="375.43" r="0.98"/><circle cx="515.57" cy="380.62" r="0.98"/><circle cx="515.72" cy="367.96" r="0.98"/><circle cx="515.75" cy="383.47" r="0.98"/><circle cx="516.19" cy="365.66" r="0.98"/><circle cx="516.67" cy="373.58" r="0.98"/><circle cx="517.08" cy="376.88" r="0.98"/><circle cx="517.14" cy="371.28" r="0.98"/><circle cx="517.56" cy="379.18" r="0.98"/><circle cx="517.94" cy="381.50" r="0.98"/><circle cx="518.82" cy="375.30" r="0.98"/><circle cx="519.50" cy="377.55" r="0.98"/><circle cx="520.02" cy="373.29" r="0.98"/><circle cx="520.15" cy="379.81" r="0.98"/><circle cx="520.15" cy="370.94" r="0.98"/><circle cx="520.28" cy="382.16" r="0.98"/><circle cx="520.77" cy="368.67" r="0.98"/><circle cx="520.81" cy="384.45" r="0.98"/><circle cx="521.40" cy="375.40" r="0.98"/><circle cx="522.53" cy="377.46" r="0.98"/><circle cx="522.54" cy="373.34" r="0.98"/><circle cx="522.63" cy="371.00" r="0.98"/><circle cx="522.88" cy="379.78" r="0.98"/><circle cx="523.12" cy="382.12" r="0.98"/><circle cx="525.15" cy="375.40" r="0.98"/><circle cx="525.38" cy="377.74" r="0.98"/><circle cx="525.94" cy="373.18" r="0.98"/><circle cx="526.05" cy="370.84" r="0.98"/><circle cx="526.08" cy="379.98" r="0.98"/><circle cx="526.29" cy="368.50" r="0.98"/><circle cx="526.51" cy="382.29" r="0.98"/><circle cx="527.81" cy="375.40" r="0.98"/><circle cx="527.92" cy="377.75" r="0.98"/><circle cx="528.61" cy="373.19" r="0.98"/><circle cx="529.13" cy="379.76" r="0.98"/><circle cx="530.24" cy="375.40" r="0.98"/><circle cx="530.29" cy="371.54" r="0.98"/><circle cx="530.88" cy="377.66" r="0.98"/><circle cx="530.94" cy="381.26" r="0.98"/><circle cx="531.53" cy="369.54" r="0.98"/><circle cx="531.60" cy="383.51" r="0.98"/><circle cx="532.01" cy="373.85" r="0.98"/><circle cx="532.08" cy="367.26" r="0.98"/><circle cx="532.72" cy="376.09" r="0.98"/><circle cx="532.84" cy="378.95" r="0.98"/><circle cx="532.95" cy="371.69" r="0.98"/><circle cx="533.10" cy="385.33" r="0.98"/><circle cx="533.53" cy="381.20" r="0.98"/><circle cx="534.15" cy="369.67" r="0.98"/><circle cx="534.49" cy="374.54" r="0.98"/><circle cx="534.51" cy="383.33" r="0.98"/><circle cx="534.66" cy="377.42" r="0.98"/><circle cx="534.98" cy="367.48" r="0.98"/><circle cx="535.29" cy="372.33" r="0.98"/><circle cx="535.49" cy="379.62" r="0.98"/><circle cx="535.49" cy="385.47" r="0.98"/><circle cx="536.28" cy="365.52" r="0.98"/><circle cx="536.41" cy="381.78" r="0.98"/><circle cx="536.55" cy="375.67" r="0.98"/><circle cx="536.78" cy="370.52" r="0.98"/><circle cx="537.56" cy="373.54" r="0.98"/><circle cx="537.91" cy="377.58" r="0.98"/><circle cx="539.46" cy="375.40" r="0.98"/><circle cx="539.80" cy="372.84" r="0.98"/><circle cx="539.87" cy="378.88" r="0.98"/><circle cx="540.16" cy="370.52" r="0.98"/><circle cx="540.23" cy="381.20" r="0.98"/><circle cx="540.49" cy="368.19" r="0.98"/><circle cx="540.50" cy="383.54" r="0.98"/><circle cx="542.38" cy="375.40" r="0.98"/><circle cx="542.82" cy="373.09" r="0.98"/><circle cx="542.86" cy="377.70" r="0.98"/><circle cx="545.09" cy="375.40" r="0.98"/><circle cx="546.20" cy="377.47" r="0.98"/><circle cx="547.06" cy="374.13" r="0.98"/><circle cx="548.56" cy="375.94" r="0.98"/><circle cx="548.80" cy="372.54" r="0.98"/><circle cx="549.27" cy="378.18" r="0.98"/><circle cx="550.19" cy="370.65" r="0.98"/><circle cx="550.39" cy="374.48" r="0.98"/><circle cx="552.55" cy="375.41" r="0.98"/><circle cx="556.99" cy="375.40" r="0.98"/><circle cx="563.30" cy="375.40" r="0.98"/><circle cx="567.70" cy="375.40" r="0.98"/><circle cx="570.00" cy="375.88" r="0.98"/><circle cx="573.50" cy="375.40" r="0.98"/><circle cx="577.90" cy="375.40" r="0.98"/><circle cx="582.30" cy="375.40" r="0.98"/><circle cx="586.60" cy="375.40" r="0.98"/><circle cx="591.00" cy="375.40" r="0.98"/><circle cx="598.30" cy="375.40" r="0.98"/></g>
<g fill="#7a3c74" stroke="#5e2858" stroke-width="0.4"><circle cx="450.30" cy="393.80" r="0.90"/><circle cx="480.70" cy="393.80" r="0.90"/><circle cx="483.60" cy="393.80" r="0.90"/><circle cx="487.90" cy="393.80" r="0.90"/><circle cx="494.40" cy="393.80" r="0.90"/><circle cx="508.10" cy="393.80" r="0.90"/><circle cx="508.10" cy="396.15" r="0.90"/><circle cx="509.60" cy="391.99" r="0.90"/><circle cx="512.00" cy="393.80" r="0.90"/><circle cx="514.90" cy="393.80" r="0.90"/><circle cx="517.30" cy="393.80" r="0.90"/><circle cx="519.70" cy="393.80" r="0.90"/><circle cx="519.70" cy="396.15" r="0.90"/><circle cx="521.60" cy="392.42" r="0.90"/><circle cx="528.10" cy="393.80" r="0.90"/><circle cx="528.10" cy="391.45" r="0.90"/><circle cx="528.10" cy="396.15" r="0.90"/><circle cx="529.60" cy="389.64" r="0.90"/><circle cx="529.60" cy="397.96" r="0.90"/><circle cx="531.30" cy="393.80" r="0.90"/><circle cx="533.00" cy="392.18" r="0.90"/><circle cx="533.00" cy="395.42" r="0.90"/><circle cx="534.60" cy="397.14" r="0.90"/><circle cx="536.60" cy="393.80" r="0.90"/><circle cx="536.60" cy="391.45" r="0.90"/><circle cx="538.50" cy="395.18" r="0.90"/><circle cx="540.90" cy="393.80" r="0.90"/><circle cx="540.90" cy="391.45" r="0.90"/><circle cx="540.90" cy="396.15" r="0.90"/><circle cx="542.60" cy="389.83" r="0.90"/><circle cx="544.30" cy="393.80" r="0.90"/><circle cx="544.30" cy="391.45" r="0.90"/><circle cx="546.20" cy="395.18" r="0.90"/><circle cx="549.10" cy="393.80" r="0.90"/><circle cx="553.40" cy="393.80" r="0.90"/><circle cx="558.30" cy="393.80" r="0.90"/><circle cx="558.30" cy="391.45" r="0.90"/><circle cx="560.20" cy="395.18" r="0.90"/><circle cx="561.90" cy="393.56" r="0.90"/><circle cx="561.90" cy="391.21" r="0.90"/><circle cx="563.60" cy="395.18" r="0.90"/><circle cx="565.50" cy="393.80" r="0.90"/><circle cx="567.90" cy="393.80" r="0.90"/><circle cx="576.30" cy="393.80" r="0.90"/><circle cx="581.10" cy="393.80" r="0.90"/><circle cx="583.60" cy="393.80" r="0.90"/><circle cx="584.80" cy="391.78" r="0.90"/><circle cx="584.80" cy="395.82" r="0.90"/><circle cx="584.80" cy="389.43" r="0.90"/><circle cx="587.20" cy="393.80" r="0.90"/><circle cx="593.20" cy="393.80" r="0.90"/><circle cx="595.60" cy="393.80" r="0.90"/><circle cx="599.20" cy="393.80" r="0.90"/><circle cx="601.10" cy="395.18" r="0.90"/></g>
<text x="2.00" y="486.60" font-size="9.5" text-anchor="start" font-weight="bold" fill="#000" >d</text>
<rect x="108.9" y="503.9" width="10.3" height="4.6" fill="#a4b48b"/>
<text x="120.60" y="508.30" font-size="7.7" text-anchor="start" font-weight="normal" fill="#1a1a1a" stroke="#1a1a1a" stroke-width="0.15" >Non-Neutralizing</text>
<rect x="189.2" y="503.9" width="10.8" height="4.6" fill="#213761"/>
<text x="200.90" y="508.30" font-size="7.7" text-anchor="start" font-weight="normal" fill="#1a1a1a" stroke="#1a1a1a" stroke-width="0.15" >Neutralizing</text>
<line x1="38.4" y1="511.5" x2="38.4" y2="697.6" stroke="#777" stroke-width="0.9"/>
<line x1="38.4" y1="697.6" x2="326.5" y2="697.6" stroke="#d0d0d0" stroke-width="0.9"/>
<line x1="36.8" y1="530.8" x2="38.4" y2="530.8" stroke="#777" stroke-width="0.6"/>
<line x1="36.8" y1="575.8" x2="38.4" y2="575.8" stroke="#777" stroke-width="0.6"/>
<line x1="36.8" y1="622.1" x2="38.4" y2="622.1" stroke="#777" stroke-width="0.6"/>
<line x1="36.8" y1="667.5" x2="38.4" y2="667.5" stroke="#777" stroke-width="0.6"/>
<line x1="44.9" y1="696.4" x2="44.9" y2="697.6" stroke="#aaa" stroke-width="0.6"/>
<line x1="84.3" y1="696.4" x2="84.3" y2="697.6" stroke="#aaa" stroke-width="0.6"/>
<line x1="123.7" y1="696.4" x2="123.7" y2="697.6" stroke="#aaa" stroke-width="0.6"/>
<line x1="163.1" y1="696.4" x2="163.1" y2="697.6" stroke="#aaa" stroke-width="0.6"/>
<line x1="202.5" y1="696.4" x2="202.5" y2="697.6" stroke="#aaa" stroke-width="0.6"/>
<line x1="241.9" y1="696.4" x2="241.9" y2="697.6" stroke="#aaa" stroke-width="0.6"/>
<line x1="281.3" y1="696.4" x2="281.3" y2="697.6" stroke="#aaa" stroke-width="0.6"/>
<line x1="320.7" y1="696.4" x2="320.7" y2="697.6" stroke="#aaa" stroke-width="0.6"/>
<text x="43.70" y="706.30" font-size="9.1" text-anchor="middle" font-weight="normal" fill="#1a1a1a" stroke="#1a1a1a" stroke-width="0.15" >-1.0</text>
<text x="83.10" y="706.30" font-size="9.1" text-anchor="middle" font-weight="normal" fill="#1a1a1a" stroke="#1a1a1a" stroke-width="0.15" >-0.5</text>
<text x="124.30" y="706.30" font-size="9.1" text-anchor="middle" font-weight="normal" fill="#1a1a1a" stroke="#1a1a1a" stroke-width="0.15" >0.0</text>
<text x="163.70" y="706.30" font-size="9.1" text-anchor="middle" font-weight="normal" fill="#1a1a1a" stroke="#1a1a1a" stroke-width="0.15" >0.5</text>
<text x="203.10" y="706.30" font-size="9.1" text-anchor="middle" font-weight="normal" fill="#1a1a1a" stroke="#1a1a1a" stroke-width="0.15" >1.0</text>
<text x="242.50" y="706.30" font-size="9.1" text-anchor="middle" font-weight="normal" fill="#1a1a1a" stroke="#1a1a1a" stroke-width="0.15" >1.5</text>
<text x="300.00" y="710.70" font-size="9.1" text-anchor="middle" font-weight="normal" fill="#1a1a1a" stroke="#1a1a1a" stroke-width="0.15" >2.0</text>
<text x="172.90" y="719.20" font-size="9.1" text-anchor="middle" font-weight="normal" fill="#1a1a1a" stroke="#1a1a1a" stroke-width="0.15" >Normalized score</text>
<text x="18.00" y="533.30" font-size="9.1" text-anchor="middle" font-weight="normal" fill="#1a1a1a" stroke="#1a1a1a" stroke-width="0.15" >Omicron-</text>
<text x="18.00" y="542.90" font-size="9.1" text-anchor="middle" font-weight="normal" fill="#1a1a1a" stroke="#1a1a1a" stroke-width="0.15" >BA1</text>
<text x="18.00" y="579.30" font-size="9.1" text-anchor="middle" font-weight="normal" fill="#1a1a1a" stroke="#1a1a1a" stroke-width="0.15" >Omicron-</text>
<text x="18.00" y="588.90" font-size="9.1" text-anchor="middle" font-weight="normal" fill="#1a1a1a" stroke="#1a1a1a" stroke-width="0.15" >BA2</text>
<text x="18.00" y="625.30" font-size="9.1" text-anchor="middle" font-weight="normal" fill="#1a1a1a" stroke="#1a1a1a" stroke-width="0.15" >Omicron-</text>
<text x="18.00" y="634.90" font-size="9.1" text-anchor="middle" font-weight="normal" fill="#1a1a1a" stroke="#1a1a1a" stroke-width="0.15" >BA4</text>
<text x="18.00" y="670.30" font-size="9.1" text-anchor="middle" font-weight="normal" fill="#1a1a1a" stroke="#1a1a1a" stroke-width="0.15" >Omicron-</text>
<text x="18.00" y="679.90" font-size="9.1" text-anchor="middle" font-weight="normal" fill="#1a1a1a" stroke="#1a1a1a" stroke-width="0.15" >BA5</text>
<text x="265.90" y="535.80" font-size="7.7" text-anchor="start" font-weight="normal" fill="#1a1a1a" stroke="#1a1a1a" stroke-width="0.15" >AUPRC = 0.83</text>
<text x="265.90" y="574.20" font-size="7.7" text-anchor="start" font-weight="normal" fill="#1a1a1a" stroke="#1a1a1a" stroke-width="0.15" >AUPRC = 0.93</text>
<text x="265.90" y="621.40" font-size="7.7" text-anchor="start" font-weight="normal" fill="#1a1a1a" stroke="#1a1a1a" stroke-width="0.15" >AUPRC = 0.60</text>
<text x="265.90" y="657.70" font-size="7.7" text-anchor="start" font-weight="normal" fill="#1a1a1a" stroke="#1a1a1a" stroke-width="0.15" >AUPRC = 0.84</text>
<g fill="#c2cdaa" stroke="#86956c" stroke-width="0.6"><circle cx="110.50" cy="525.40" r="1.25"/><circle cx="112.30" cy="528.10" r="1.25"/><circle cx="121.70" cy="525.40" r="1.25"/><circle cx="122.20" cy="528.30" r="1.25"/><circle cx="129.20" cy="525.70" r="1.25"/><circle cx="146.70" cy="525.40" r="1.25"/><circle cx="147.60" cy="528.10" r="1.25"/><circle cx="155.00" cy="525.70" r="1.25"/><circle cx="170.80" cy="525.70" r="1.25"/><circle cx="182.70" cy="525.70" r="1.25"/><circle cx="204.60" cy="525.70" r="1.25"/><circle cx="212.70" cy="525.70" r="1.25"/><circle cx="244.60" cy="525.70" r="1.25"/><circle cx="250.50" cy="525.70" r="1.25"/><circle cx="313.40" cy="525.70" r="1.25"/></g>
<g fill="#1c2e55" stroke="#1c2e55" stroke-width="0.3"><circle cx="124.30" cy="543.10" r="1.35"/><circle cx="126.50" cy="545.90" r="1.35"/><circle cx="127.40" cy="544.10" r="1.35"/><circle cx="132.40" cy="544.10" r="1.35"/><circle cx="147.80" cy="544.10" r="1.35"/><circle cx="155.90" cy="544.10" r="1.35"/><circle cx="163.10" cy="543.10" r="1.35"/><circle cx="163.60" cy="545.90" r="1.35"/><circle cx="169.20" cy="544.10" r="1.35"/><circle cx="170.80" cy="545.90" r="1.35"/><circle cx="172.50" cy="544.10" r="1.35"/><circle cx="174.00" cy="545.90" r="1.35"/><circle cx="176.20" cy="544.10" r="1.35"/><circle cx="178.40" cy="544.10" r="1.35"/><circle cx="180.60" cy="544.10" r="1.35"/><circle cx="182.70" cy="544.10" r="1.35"/><circle cx="191.40" cy="543.10" r="1.35"/><circle cx="192.40" cy="545.90" r="1.35"/><circle cx="205.70" cy="544.10" r="1.35"/><circle cx="207.40" cy="541.60" r="1.35"/><circle cx="209.00" cy="545.60" r="1.35"/><circle cx="210.50" cy="543.10" r="1.35"/><circle cx="212.20" cy="546.30" r="1.35"/><circle cx="214.00" cy="544.10" r="1.35"/><circle cx="222.10" cy="541.40" r="1.35"/><circle cx="222.10" cy="544.10" r="1.35"/><circle cx="222.10" cy="546.80" r="1.35"/><circle cx="226.50" cy="544.10" r="1.35"/><circle cx="233.70" cy="544.10" r="1.35"/><circle cx="235.90" cy="544.10" r="1.35"/><circle cx="240.70" cy="544.10" r="1.35"/><circle cx="244.60" cy="544.10" r="1.35"/><circle cx="252.70" cy="542.60" r="1.35"/><circle cx="254.30" cy="545.60" r="1.35"/><circle cx="257.10" cy="541.40" r="1.35"/><circle cx="257.10" cy="544.10" r="1.35"/><circle cx="257.10" cy="546.80" r="1.35"/><circle cx="264.80" cy="544.10" r="1.35"/><circle cx="270.20" cy="544.10" r="1.35"/><circle cx="272.40" cy="546.10" r="1.35"/><circle cx="275.70" cy="544.10" r="1.35"/><circle cx="282.30" cy="544.10" r="1.35"/><circle cx="288.90" cy="544.10" r="1.35"/></g>
<g fill="#c2cdaa" stroke="#86956c" stroke-width="0.6"><circle cx="75.50" cy="572.50" r="1.25"/><circle cx="97.40" cy="572.50" r="1.25"/><circle cx="106.20" cy="572.50" r="1.25"/><circle cx="118.20" cy="572.50" r="1.25"/><circle cx="142.30" cy="572.50" r="1.25"/><circle cx="149.30" cy="572.50" r="1.25"/><circle cx="165.30" cy="572.50" r="1.25"/><circle cx="167.50" cy="574.10" r="1.25"/><circle cx="235.90" cy="572.50" r="1.25"/><circle cx="256.50" cy="572.50" r="1.25"/></g>
<g fill="#1c2e55" stroke="#1c2e55" stroke-width="0.3"><circle cx="105.00" cy="591.10" r="1.35"/><circle cx="126.50" cy="591.10" r="1.35"/><circle cx="139.70" cy="589.90" r="1.35"/><circle cx="139.70" cy="592.90" r="1.35"/><circle cx="145.60" cy="589.90" r="1.35"/><circle cx="146.60" cy="592.90" r="1.35"/><circle cx="151.00" cy="591.10" r="1.35"/><circle cx="154.30" cy="589.50" r="1.35"/><circle cx="158.70" cy="591.10" r="1.35"/><circle cx="161.60" cy="592.90" r="1.35"/><circle cx="170.80" cy="589.30" r="1.35"/><circle cx="170.80" cy="592.90" r="1.35"/><circle cx="178.40" cy="591.10" r="1.35"/><circle cx="180.60" cy="591.10" r="1.35"/><circle cx="182.70" cy="591.10" r="1.35"/><circle cx="178.30" cy="591.10" r="1.35"/><circle cx="180.50" cy="591.10" r="1.35"/><circle cx="182.70" cy="591.10" r="1.35"/><circle cx="186.00" cy="592.90" r="1.35"/><circle cx="193.60" cy="591.10" r="1.35"/><circle cx="195.80" cy="592.90" r="1.35"/><circle cx="206.70" cy="591.10" r="1.35"/><circle cx="212.20" cy="591.10" r="1.35"/><circle cx="217.70" cy="591.10" r="1.35"/><circle cx="221.00" cy="591.10" r="1.35"/><circle cx="222.70" cy="588.60" r="1.35"/><circle cx="224.30" cy="591.10" r="1.35"/><circle cx="224.30" cy="593.80" r="1.35"/><circle cx="224.30" cy="586.10" r="1.35"/><circle cx="226.50" cy="591.10" r="1.35"/><circle cx="228.60" cy="592.90" r="1.35"/><circle cx="238.50" cy="591.10" r="1.35"/><circle cx="239.60" cy="593.80" r="1.35"/><circle cx="247.30" cy="591.10" r="1.35"/><circle cx="257.80" cy="591.10" r="1.35"/><circle cx="264.80" cy="591.10" r="1.35"/><circle cx="267.00" cy="591.10" r="1.35"/><circle cx="269.20" cy="588.60" r="1.35"/><circle cx="271.30" cy="591.10" r="1.35"/><circle cx="273.50" cy="588.60" r="1.35"/><circle cx="273.50" cy="591.10" r="1.35"/><circle cx="273.50" cy="593.80" r="1.35"/><circle cx="275.70" cy="591.10" r="1.35"/><circle cx="281.20" cy="591.10" r="1.35"/><circle cx="283.40" cy="589.60" r="1.35"/><circle cx="286.70" cy="591.10" r="1.35"/><circle cx="298.10" cy="591.10" r="1.35"/></g>
<g fill="#c2cdaa" stroke="#86956c" stroke-width="0.6"><circle cx="56.90" cy="619.20" r="1.25"/><circle cx="82.70" cy="619.20" r="1.25"/><circle cx="91.50" cy="619.20" r="1.25"/><circle cx="99.60" cy="619.20" r="1.25"/><circle cx="112.10" cy="619.20" r="1.25"/><circle cx="114.90" cy="620.60" r="1.25"/><circle cx="125.20" cy="619.20" r="1.25"/><circle cx="133.50" cy="619.20" r="1.25"/><circle cx="147.10" cy="619.20" r="1.25"/><circle cx="151.50" cy="619.20" r="1.25"/><circle cx="154.30" cy="620.60" r="1.25"/><circle cx="167.70" cy="619.20" r="1.25"/><circle cx="241.80" cy="619.20" r="1.25"/></g>
<g fill="#1c2e55" stroke="#1c2e55" stroke-width="0.3"><circle cx="99.60" cy="637.80" r="1.35"/><circle cx="120.00" cy="637.80" r="1.35"/><circle cx="130.50" cy="637.80" r="1.35"/><circle cx="174.00" cy="637.80" r="1.35"/><circle cx="181.30" cy="637.80" r="1.35"/><circle cx="199.10" cy="637.80" r="1.35"/><circle cx="229.70" cy="636.60" r="1.35"/><circle cx="230.80" cy="639.60" r="1.35"/><circle cx="233.00" cy="636.60" r="1.35"/></g>
<g fill="#c2cdaa" stroke="#86956c" stroke-width="0.6"><circle cx="51.40" cy="665.80" r="1.25"/><circle cx="87.60" cy="665.80" r="1.25"/><circle cx="96.30" cy="665.80" r="1.25"/><circle cx="118.60" cy="665.80" r="1.25"/><circle cx="121.50" cy="665.80" r="1.25"/><circle cx="124.30" cy="665.80" r="1.25"/><circle cx="131.30" cy="665.80" r="1.25"/><circle cx="147.10" cy="665.80" r="1.25"/><circle cx="150.40" cy="663.20" r="1.25"/><circle cx="150.40" cy="665.80" r="1.25"/><circle cx="150.90" cy="668.80" r="1.25"/><circle cx="158.30" cy="665.80" r="1.25"/><circle cx="159.80" cy="668.40" r="1.25"/><circle cx="169.70" cy="665.80" r="1.25"/><circle cx="181.70" cy="665.80" r="1.25"/><circle cx="187.70" cy="665.80" r="1.25"/><circle cx="203.00" cy="665.80" r="1.25"/><circle cx="273.10" cy="665.80" r="1.25"/><circle cx="283.40" cy="665.80" r="1.25"/><circle cx="292.60" cy="665.80" r="1.25"/></g>
<g fill="#1c2e55" stroke="#1c2e55" stroke-width="0.3"><circle cx="151.00" cy="684.40" r="1.35"/><circle cx="153.70" cy="685.60" r="1.35"/><circle cx="157.60" cy="684.40" r="1.35"/><circle cx="165.30" cy="684.40" r="1.35"/><circle cx="168.10" cy="684.40" r="1.35"/><circle cx="172.50" cy="684.40" r="1.35"/><circle cx="187.00" cy="682.60" r="1.35"/><circle cx="187.00" cy="685.80" r="1.35"/><circle cx="196.90" cy="684.40" r="1.35"/><circle cx="199.10" cy="684.40" r="1.35"/><circle cx="201.30" cy="684.40" r="1.35"/><circle cx="210.00" cy="682.60" r="1.35"/><circle cx="210.00" cy="686.20" r="1.35"/><circle cx="215.50" cy="684.40" r="1.35"/><circle cx="217.70" cy="685.80" r="1.35"/><circle cx="221.40" cy="684.40" r="1.35"/><circle cx="239.60" cy="684.40" r="1.35"/><circle cx="241.80" cy="684.40" r="1.35"/><circle cx="244.00" cy="684.40" r="1.35"/><circle cx="245.50" cy="681.90" r="1.35"/><circle cx="246.20" cy="685.90" r="1.35"/><circle cx="247.30" cy="688.40" r="1.35"/><circle cx="251.60" cy="684.40" r="1.35"/><circle cx="270.20" cy="684.40" r="1.35"/><circle cx="280.10" cy="684.40" r="1.35"/><circle cx="286.20" cy="684.40" r="1.35"/><circle cx="287.10" cy="686.40" r="1.35"/><circle cx="288.90" cy="684.40" r="1.35"/><circle cx="299.80" cy="684.40" r="1.35"/><circle cx="306.40" cy="684.40" r="1.35"/><circle cx="307.50" cy="686.40" r="1.35"/><circle cx="313.40" cy="684.40" r="1.35"/></g>
<text x="324.50" y="486.80" font-size="9.5" text-anchor="start" font-weight="bold" fill="#000" >e</text>
<rect x="471.6" y="480.4" width="16.2" height="15.6" fill="#d55e00" stroke="#444" stroke-width="0.6"/>
<text x="489.80" y="485.30" font-size="7.6" text-anchor="start" font-weight="normal" fill="#1a1a1a" stroke="#1a1a1a" stroke-width="0.15" >Non-</text>
<text x="489.80" y="493.10" font-size="7.6" text-anchor="start" font-weight="normal" fill="#1a1a1a" stroke="#1a1a1a" stroke-width="0.15" >Neutralizing</text>
<rect x="537.5" y="480.4" width="16.0" height="15.6" fill="#56b4e9" stroke="#444" stroke-width="0.6"/>
<text x="555.50" y="485.30" font-size="7.6" text-anchor="start" font-weight="normal" fill="#1a1a1a" stroke="#1a1a1a" stroke-width="0.15" >Weakly-</text>
<text x="555.50" y="493.10" font-size="7.6" text-anchor="start" font-weight="normal" fill="#1a1a1a" stroke="#1a1a1a" stroke-width="0.15" >Neutralizing</text>
<rect x="603.8" y="480.4" width="15.9" height="15.6" fill="#009e73" stroke="#444" stroke-width="0.6"/>
<text x="622.70" y="489.20" font-size="7.6" text-anchor="start" font-weight="normal" fill="#1a1a1a" stroke="#1a1a1a" stroke-width="0.15" >Neutralizing</text>
<rect x="434.20" y="505.3" width="25.02" height="25.10" fill="#009e73"/>
<rect x="434.20" y="530.4" width="25.02" height="25.00" fill="#009e73"/>
<rect x="459.22" y="505.3" width="25.02" height="25.10" fill="#009e73"/>
<rect x="459.22" y="530.4" width="25.02" height="25.00" fill="#009e73"/>
<rect x="484.24" y="505.3" width="25.02" height="25.10" fill="#d55e00"/>
<rect x="484.24" y="530.4" width="25.02" height="25.00" fill="#d55e00"/>
<rect x="509.26" y="505.3" width="25.02" height="25.10" fill="#d55e00"/>
<rect x="509.26" y="530.4" width="25.02" height="25.00" fill="#d55e00"/>
<rect x="534.28" y="505.3" width="25.02" height="25.10" fill="#009e73"/>
<rect x="534.28" y="530.4" width="25.02" height="25.00" fill="#009e73"/>
<rect x="559.30" y="505.3" width="25.02" height="25.10" fill="#009e73"/>
<rect x="559.30" y="530.4" width="25.02" height="25.00" fill="#009e73"/>
<rect x="584.32" y="505.3" width="25.02" height="25.10" fill="#009e73"/>
<rect x="584.32" y="530.4" width="25.02" height="25.00" fill="#009e73"/>
<rect x="609.34" y="505.3" width="25.02" height="25.10" fill="#56b4e9"/>
<rect x="609.34" y="530.4" width="25.02" height="25.00" fill="#56b4e9"/>
<rect x="634.36" y="505.3" width="25.02" height="25.10" fill="#d55e00"/>
<rect x="634.36" y="530.4" width="25.02" height="25.00" fill="#009e73"/>
<rect x="659.38" y="505.3" width="25.02" height="25.10" fill="#009e73"/>
<rect x="659.38" y="530.4" width="25.02" height="25.00" fill="#009e73"/>
<g stroke="#1e1e1e" stroke-width="0.9" fill="none"><rect x="434.2" y="505.3" width="250.20" height="50.10"/><line x1="434.2" y1="530.4" x2="684.40" y2="530.4"/><line x1="459.22" y1="505.3" x2="459.22" y2="555.4"/><line x1="484.24" y1="505.3" x2="484.24" y2="555.4"/><line x1="509.26" y1="505.3" x2="509.26" y2="555.4"/><line x1="534.28" y1="505.3" x2="534.28" y2="555.4"/><line x1="559.30" y1="505.3" x2="559.30" y2="555.4"/><line x1="584.32" y1="505.3" x2="584.32" y2="555.4"/><line x1="609.34" y1="505.3" x2="609.34" y2="555.4"/><line x1="634.36" y1="505.3" x2="634.36" y2="555.4"/><line x1="659.38" y1="505.3" x2="659.38" y2="555.4"/></g>
<text x="446.71" y="519.95" font-size="7.7" text-anchor="middle" fill="#fff">488</text>
<text x="446.71" y="545.10" font-size="7.7" text-anchor="middle" fill="#fff">0.49</text>
<text x="471.73" y="519.95" font-size="7.7" text-anchor="middle" fill="#fff">5</text>
<text x="471.73" y="545.10" font-size="7.7" text-anchor="middle" fill="#fff">0.61</text>
<text x="496.75" y="519.95" font-size="7.7" text-anchor="middle" fill="#fff">10000</text>
<text x="496.75" y="545.10" font-size="7.7" text-anchor="middle" fill="#fff">-0.02</text>
<text x="521.77" y="519.95" font-size="7.7" text-anchor="middle" fill="#fff">10000</text>
<text x="521.77" y="545.10" font-size="7.7" text-anchor="middle" fill="#fff">-0.16</text>
<text x="546.79" y="519.95" font-size="7.7" text-anchor="middle" fill="#fff">68</text>
<text x="546.79" y="545.10" font-size="7.7" text-anchor="middle" fill="#fff">1.23</text>
<text x="571.81" y="519.95" font-size="7.7" text-anchor="middle" fill="#fff">40</text>
<text x="571.81" y="545.10" font-size="7.7" text-anchor="middle" fill="#fff">0.50</text>
<text x="596.83" y="519.95" font-size="7.7" text-anchor="middle" fill="#fff">273</text>
<text x="596.83" y="545.10" font-size="7.7" text-anchor="middle" fill="#fff">0.40</text>
<text x="621.85" y="519.95" font-size="7.7" text-anchor="middle" fill="#fff">1774</text>
<text x="621.85" y="545.10" font-size="7.7" text-anchor="middle" fill="#fff">0.01</text>
<text x="646.87" y="519.95" font-size="7.7" text-anchor="middle" fill="#fff">10000</text>
<text x="646.87" y="545.10" font-size="7.7" text-anchor="middle" fill="#fff">0.59</text>
<text x="671.89" y="519.95" font-size="7.7" text-anchor="middle" fill="#fff">87</text>
<text x="671.89" y="545.10" font-size="7.7" text-anchor="middle" fill="#fff">0.30</text>
<text x="392.6" y="518.6" font-size="7.9" fill="#111">IC<tspan font-size="4.6" dy="1.3">50</tspan><tspan font-size="7.6" dy="-1.3" dx="1.3">(ng/ml)</tspan></text>
<text x="411.30" y="539.60" font-size="7.75" text-anchor="middle" font-weight="normal" fill="#1a1a1a" stroke="#1a1a1a" stroke-width="0.15" >Normalized</text>
<text x="411.30" y="547.10" font-size="7.75" text-anchor="middle" font-weight="normal" fill="#1a1a1a" stroke="#1a1a1a" stroke-width="0.15" >score</text>
<text font-size="7.9" text-anchor="middle" fill="#111" transform="translate(366.6,531.1) rotate(-90)">Omicron-</text>
<text font-size="7.9" text-anchor="middle" fill="#111" transform="translate(373.5,531.1) rotate(-90)">BA1</text>
<rect x="434.20" y="563.7" width="25.02" height="24.80" fill="#009e73"/>
<rect x="434.20" y="588.5" width="25.02" height="25.10" fill="#009e73"/>
<rect x="459.22" y="563.7" width="25.02" height="24.80" fill="#009e73"/>
<rect x="459.22" y="588.5" width="25.02" height="25.10" fill="#009e73"/>
<rect x="484.24" y="563.7" width="25.02" height="24.80" fill="#d55e00"/>
<rect x="484.24" y="588.5" width="25.02" height="25.10" fill="#d55e00"/>
<rect x="509.26" y="563.7" width="25.02" height="24.80" fill="#d55e00"/>
<rect x="509.26" y="588.5" width="25.02" height="25.10" fill="#d55e00"/>
<rect x="534.28" y="563.7" width="25.02" height="24.80" fill="#009e73"/>
<rect x="534.28" y="588.5" width="25.02" height="25.10" fill="#009e73"/>
<rect x="559.30" y="563.7" width="25.02" height="24.80" fill="#009e73"/>
<rect x="559.30" y="588.5" width="25.02" height="25.10" fill="#009e73"/>
<rect x="584.32" y="563.7" width="25.02" height="24.80" fill="#009e73"/>
<rect x="584.32" y="588.5" width="25.02" height="25.10" fill="#009e73"/>
<rect x="609.34" y="563.7" width="25.02" height="24.80" fill="#d55e00"/>
<rect x="609.34" y="588.5" width="25.02" height="25.10" fill="#d55e00"/>
<rect x="634.36" y="563.7" width="25.02" height="24.80" fill="#d55e00"/>
<rect x="634.36" y="588.5" width="25.02" height="25.10" fill="#009e73"/>
<rect x="659.38" y="563.7" width="25.02" height="24.80" fill="#009e73"/>
<rect x="659.38" y="588.5" width="25.02" height="25.10" fill="#009e73"/>
<g stroke="#1e1e1e" stroke-width="0.9" fill="none"><rect x="434.2" y="563.7" width="250.20" height="49.90"/><line x1="434.2" y1="588.5" x2="684.40" y2="588.5"/><line x1="459.22" y1="563.7" x2="459.22" y2="613.6"/><line x1="484.24" y1="563.7" x2="484.24" y2="613.6"/><line x1="509.26" y1="563.7" x2="509.26" y2="613.6"/><line x1="534.28" y1="563.7" x2="534.28" y2="613.6"/><line x1="559.30" y1="563.7" x2="559.30" y2="613.6"/><line x1="584.32" y1="563.7" x2="584.32" y2="613.6"/><line x1="609.34" y1="563.7" x2="609.34" y2="613.6"/><line x1="634.36" y1="563.7" x2="634.36" y2="613.6"/><line x1="659.38" y1="563.7" x2="659.38" y2="613.6"/></g>
<text x="446.71" y="578.20" font-size="7.7" text-anchor="middle" fill="#fff">701</text>
<text x="446.71" y="603.25" font-size="7.7" text-anchor="middle" fill="#fff">0.47</text>
<text x="471.73" y="578.20" font-size="7.7" text-anchor="middle" fill="#fff">16</text>
<text x="471.73" y="603.25" font-size="7.7" text-anchor="middle" fill="#fff">0.79</text>
<text x="496.75" y="578.20" font-size="7.7" text-anchor="middle" fill="#fff">10000</text>
<text x="496.75" y="603.25" font-size="7.7" text-anchor="middle" fill="#fff">-0.06</text>
<text x="521.77" y="578.20" font-size="7.7" text-anchor="middle" fill="#fff">10000</text>
<text x="521.77" y="603.25" font-size="7.7" text-anchor="middle" fill="#fff">-0.32</text>
<text x="546.79" y="578.20" font-size="7.7" text-anchor="middle" fill="#fff">77</text>
<text x="546.79" y="603.25" font-size="7.7" text-anchor="middle" fill="#fff">1.26</text>
<text x="571.81" y="578.20" font-size="7.7" text-anchor="middle" fill="#fff">1339</text>
<text x="571.81" y="603.25" font-size="7.7" text-anchor="middle" fill="#fff">0.35</text>
<text x="596.83" y="578.20" font-size="7.7" text-anchor="middle" fill="#fff">132</text>
<text x="596.83" y="603.25" font-size="7.7" text-anchor="middle" fill="#fff">0.43</text>
<text x="621.85" y="578.20" font-size="7.7" text-anchor="middle" fill="#fff">10000</text>
<text x="621.85" y="603.25" font-size="7.7" text-anchor="middle" fill="#fff">-0.23</text>
<text x="646.87" y="578.20" font-size="7.7" text-anchor="middle" fill="#fff">10000</text>
<text x="646.87" y="603.25" font-size="7.7" text-anchor="middle" fill="#fff">0.32</text>
<text x="671.89" y="578.20" font-size="7.7" text-anchor="middle" fill="#fff">64</text>
<text x="671.89" y="603.25" font-size="7.7" text-anchor="middle" fill="#fff">0.29</text>
<text x="391.0" y="575.6" font-size="7.9" fill="#111">IC<tspan font-size="4.6" dy="1.3">50</tspan><tspan font-size="7.6" dy="-1.3" dx="1.3">(ng/ml)</tspan></text>
<text x="411.30" y="599.60" font-size="7.75" text-anchor="middle" font-weight="normal" fill="#1a1a1a" stroke="#1a1a1a" stroke-width="0.15" >Normalized</text>
<text x="411.30" y="606.90" font-size="7.75" text-anchor="middle" font-weight="normal" fill="#1a1a1a" stroke="#1a1a1a" stroke-width="0.15" >score</text>
<text font-size="7.9" text-anchor="middle" fill="#111" transform="translate(366.6,588.7) rotate(-90)">Omicron-</text>
<text font-size="7.9" text-anchor="middle" fill="#111" transform="translate(373.5,588.7) rotate(-90)">BA2</text>
<rect x="434.20" y="621.8" width="25.02" height="24.80" fill="#009e73"/>
<rect x="434.20" y="646.6" width="25.02" height="25.10" fill="#56b4e9"/>
<rect x="459.22" y="621.8" width="25.02" height="24.80" fill="#d55e00"/>
<rect x="459.22" y="646.6" width="25.02" height="25.10" fill="#009e73"/>
<rect x="484.24" y="621.8" width="25.02" height="24.80" fill="#d55e00"/>
<rect x="484.24" y="646.6" width="25.02" height="25.10" fill="#d55e00"/>
<rect x="509.26" y="621.8" width="25.02" height="24.80" fill="#d55e00"/>
<rect x="509.26" y="646.6" width="25.02" height="25.10" fill="#d55e00"/>
<rect x="534.28" y="621.8" width="25.02" height="24.80" fill="#009e73"/>
<rect x="534.28" y="646.6" width="25.02" height="25.10" fill="#009e73"/>
<rect x="559.30" y="621.8" width="25.02" height="24.80" fill="#d55e00"/>
<rect x="559.30" y="646.6" width="25.02" height="25.10" fill="#56b4e9"/>
<rect x="584.32" y="621.8" width="25.02" height="24.80" fill="#d55e00"/>
<rect x="584.32" y="646.6" width="25.02" height="25.10" fill="#009e73"/>
<rect x="609.34" y="621.8" width="25.02" height="24.80" fill="#d55e00"/>
<rect x="609.34" y="646.6" width="25.02" height="25.10" fill="#d55e00"/>
<rect x="634.36" y="621.8" width="25.02" height="24.80" fill="#d55e00"/>
<rect x="634.36" y="646.6" width="25.02" height="25.10" fill="#d55e00"/>
<rect x="659.38" y="621.8" width="25.02" height="24.80" fill="#d55e00"/>
<rect x="659.38" y="646.6" width="25.02" height="25.10" fill="#d55e00"/>
<g stroke="#1e1e1e" stroke-width="0.9" fill="none"><rect x="434.2" y="621.8" width="250.20" height="49.90"/><line x1="434.2" y1="646.6" x2="684.40" y2="646.6"/><line x1="459.22" y1="621.8" x2="459.22" y2="671.7"/><line x1="484.24" y1="621.8" x2="484.24" y2="671.7"/><line x1="509.26" y1="621.8" x2="509.26" y2="671.7"/><line x1="534.28" y1="621.8" x2="534.28" y2="671.7"/><line x1="559.30" y1="621.8" x2="559.30" y2="671.7"/><line x1="584.32" y1="621.8" x2="584.32" y2="671.7"/><line x1="609.34" y1="621.8" x2="609.34" y2="671.7"/><line x1="634.36" y1="621.8" x2="634.36" y2="671.7"/><line x1="659.38" y1="621.8" x2="659.38" y2="671.7"/></g>
<text x="446.71" y="636.30" font-size="7.7" text-anchor="middle" fill="#fff">272</text>
<text x="446.71" y="661.35" font-size="7.7" text-anchor="middle" fill="#fff">0.08</text>
<text x="471.73" y="636.30" font-size="7.7" text-anchor="middle" fill="#fff">1000</text>
<text x="471.73" y="661.35" font-size="7.7" text-anchor="middle" fill="#fff">0.55</text>
<text x="496.75" y="636.30" font-size="7.7" text-anchor="middle" fill="#fff">10000</text>
<text x="496.75" y="661.35" font-size="7.7" text-anchor="middle" fill="#fff">-0.30</text>
<text x="521.77" y="636.30" font-size="7.7" text-anchor="middle" fill="#fff">10000</text>
<text x="521.77" y="661.35" font-size="7.7" text-anchor="middle" fill="#fff">-0.51</text>
<text x="546.79" y="636.30" font-size="7.7" text-anchor="middle" fill="#fff">30</text>
<text x="546.79" y="661.35" font-size="7.7" text-anchor="middle" fill="#fff">0.63</text>
<text x="571.81" y="636.30" font-size="7.7" text-anchor="middle" fill="#fff">10000</text>
<text x="571.81" y="661.35" font-size="7.7" text-anchor="middle" fill="#fff">0.01</text>
<text x="596.83" y="636.30" font-size="7.7" text-anchor="middle" fill="#fff">1000</text>
<text x="596.83" y="661.35" font-size="7.7" text-anchor="middle" fill="#fff">0.38</text>
<text x="621.85" y="636.30" font-size="7.7" text-anchor="middle" fill="#fff">10000</text>
<text x="621.85" y="661.35" font-size="7.7" text-anchor="middle" fill="#fff">-0.11</text>
<text x="646.87" y="636.30" font-size="7.7" text-anchor="middle" fill="#fff">10000</text>
<text x="646.87" y="661.35" font-size="7.7" text-anchor="middle" fill="#fff">-0.14</text>
<text x="671.89" y="636.30" font-size="7.7" text-anchor="middle" fill="#fff">10000</text>
<text x="671.89" y="661.35" font-size="7.4" text-anchor="middle" fill="#fff">-0.307</text>
<text x="392.6" y="634.0" font-size="7.9" fill="#111">IC<tspan font-size="4.6" dy="1.3">50</tspan><tspan font-size="7.6" dy="-1.3" dx="1.3">(ng/ml)</tspan></text>
<text x="411.30" y="655.60" font-size="7.75" text-anchor="middle" font-weight="normal" fill="#1a1a1a" stroke="#1a1a1a" stroke-width="0.15" >Normalized</text>
<text x="411.30" y="663.30" font-size="7.75" text-anchor="middle" font-weight="normal" fill="#1a1a1a" stroke="#1a1a1a" stroke-width="0.15" >score</text>
<text font-size="7.9" text-anchor="middle" fill="#111" transform="translate(366.6,643.5) rotate(-90)">Omicron-</text>
<text font-size="7.9" text-anchor="middle" fill="#111" transform="translate(373.5,643.5) rotate(-90)">BA4</text>
<rect x="434.20" y="678.2" width="25.02" height="25.40" fill="#009e73"/>
<rect x="434.20" y="703.6" width="25.02" height="24.90" fill="#009e73"/>
<rect x="459.22" y="678.2" width="25.02" height="25.40" fill="#d55e00"/>
<rect x="459.22" y="703.6" width="25.02" height="24.90" fill="#009e73"/>
<rect x="484.24" y="678.2" width="25.02" height="25.40" fill="#d55e00"/>
<rect x="484.24" y="703.6" width="25.02" height="24.90" fill="#56b4e9"/>
<rect x="509.26" y="678.2" width="25.02" height="25.40" fill="#d55e00"/>
<rect x="509.26" y="703.6" width="25.02" height="24.90" fill="#d55e00"/>
<rect x="534.28" y="678.2" width="25.02" height="25.40" fill="#009e73"/>
<rect x="534.28" y="703.6" width="25.02" height="24.90" fill="#009e73"/>
<rect x="559.30" y="678.2" width="25.02" height="25.40" fill="#d55e00"/>
<rect x="559.30" y="703.6" width="25.02" height="24.90" fill="#56b4e9"/>
<rect x="584.32" y="678.2" width="25.02" height="25.40" fill="#d55e00"/>
<rect x="584.32" y="703.6" width="25.02" height="24.90" fill="#009e73"/>
<rect x="609.34" y="678.2" width="25.02" height="25.40" fill="#d55e00"/>
<rect x="609.34" y="703.6" width="25.02" height="24.90" fill="#d55e00"/>
<rect x="634.36" y="678.2" width="25.02" height="25.40" fill="#d55e00"/>
<rect x="634.36" y="703.6" width="25.02" height="24.90" fill="#d55e00"/>
<rect x="659.38" y="678.2" width="25.02" height="25.40" fill="#d55e00"/>
<rect x="659.38" y="703.6" width="25.02" height="24.90" fill="#56b4e9"/>
<g stroke="#1e1e1e" stroke-width="0.9" fill="none"><rect x="434.2" y="678.2" width="250.20" height="50.30"/><line x1="434.2" y1="703.6" x2="684.40" y2="703.6"/><line x1="459.22" y1="678.2" x2="459.22" y2="728.5"/><line x1="484.24" y1="678.2" x2="484.24" y2="728.5"/><line x1="509.26" y1="678.2" x2="509.26" y2="728.5"/><line x1="534.28" y1="678.2" x2="534.28" y2="728.5"/><line x1="559.30" y1="678.2" x2="559.30" y2="728.5"/><line x1="584.32" y1="678.2" x2="584.32" y2="728.5"/><line x1="609.34" y1="678.2" x2="609.34" y2="728.5"/><line x1="634.36" y1="678.2" x2="634.36" y2="728.5"/><line x1="659.38" y1="678.2" x2="659.38" y2="728.5"/></g>
<text x="446.71" y="693.00" font-size="7.7" text-anchor="middle" fill="#fff">194</text>
<text x="446.71" y="718.25" font-size="7.7" text-anchor="middle" fill="#fff">0.34</text>
<text x="471.73" y="693.00" font-size="7.7" text-anchor="middle" fill="#fff">1000</text>
<text x="471.73" y="718.25" font-size="7.7" text-anchor="middle" fill="#fff">0.99</text>
<text x="496.75" y="693.00" font-size="7.7" text-anchor="middle" fill="#fff">10000</text>
<text x="496.75" y="718.25" font-size="7.7" text-anchor="middle" fill="#fff">0.00</text>
<text x="521.77" y="693.00" font-size="7.7" text-anchor="middle" fill="#fff">10000</text>
<text x="521.77" y="718.25" font-size="7.4" text-anchor="middle" fill="#fff">-0.165</text>
<text x="546.79" y="693.00" font-size="7.7" text-anchor="middle" fill="#fff">30</text>
<text x="546.79" y="718.25" font-size="7.7" text-anchor="middle" fill="#fff">1.09</text>
<text x="571.81" y="693.00" font-size="7.7" text-anchor="middle" fill="#fff">1000</text>
<text x="571.81" y="718.25" font-size="7.7" text-anchor="middle" fill="#fff">0.02</text>
<text x="596.83" y="693.00" font-size="7.7" text-anchor="middle" fill="#fff">1000</text>
<text x="596.83" y="718.25" font-size="7.7" text-anchor="middle" fill="#fff">0.80</text>
<text x="621.85" y="693.00" font-size="7.7" text-anchor="middle" fill="#fff">1000</text>
<text x="621.85" y="718.25" font-size="7.7" text-anchor="middle" fill="#fff">-0.06</text>
<text x="646.87" y="693.00" font-size="7.7" text-anchor="middle" fill="#fff">10000</text>
<text x="646.87" y="718.25" font-size="7.7" text-anchor="middle" fill="#fff">-0.02</text>
<text x="671.89" y="693.00" font-size="7.7" text-anchor="middle" fill="#fff">1000</text>
<text x="671.89" y="718.25" font-size="7.7" text-anchor="middle" fill="#fff">0.10</text>
<text x="392.6" y="691.0" font-size="7.9" fill="#111">IC<tspan font-size="4.6" dy="1.3">50</tspan><tspan font-size="7.6" dy="-1.3" dx="1.3">(ng/ml)</tspan></text>
<text x="411.30" y="713.40" font-size="7.75" text-anchor="middle" font-weight="normal" fill="#1a1a1a" stroke="#1a1a1a" stroke-width="0.15" >Normalized</text>
<text x="411.30" y="720.90" font-size="7.75" text-anchor="middle" font-weight="normal" fill="#1a1a1a" stroke="#1a1a1a" stroke-width="0.15" >score</text>
<text font-size="7.9" text-anchor="middle" fill="#111" transform="translate(366.6,700.4) rotate(-90)">Omicron-</text>
<text font-size="7.9" text-anchor="middle" fill="#111" transform="translate(373.5,700.4) rotate(-90)">BA5</text>
<text font-size="7.9" text-anchor="end" fill="#111" transform="translate(448.4,734.0) rotate(-45)">Liu_6-2C</text>
<text font-size="7.9" text-anchor="end" fill="#111" transform="translate(476.3,734.0) rotate(-45)">Liu_10-5B</text>
<text font-size="7.9" text-anchor="end" fill="#111" transform="translate(499.6,734.0) rotate(-45)">Liu_1-1D</text>
<text font-size="7.9" text-anchor="end" fill="#111" transform="translate(528.5,734.0) rotate(-45)">Liu_1-2D</text>
<text font-size="7.9" text-anchor="end" fill="#111" transform="translate(555.8,734.0) rotate(-45)">Liu_13-1C</text>
<text font-size="7.9" text-anchor="end" fill="#111" transform="translate(580.8,734.0) rotate(-45)">Liu_14-1C</text>
<text font-size="7.9" text-anchor="end" fill="#111" transform="translate(604.9,734.0) rotate(-45)">Liu_14-2G</text>
<text font-size="7.9" text-anchor="end" fill="#111" transform="translate(629.1,734.0) rotate(-45)">Liu_14-5G</text>
<text font-size="7.9" text-anchor="end" fill="#111" transform="translate(655.0,734.0) rotate(-45)">Liu_14-6A</text>
<text font-size="7.9" text-anchor="end" fill="#111" transform="translate(677.4,734.0) rotate(-45)">Liu_16-1C</text>
</svg>
</body></html>
